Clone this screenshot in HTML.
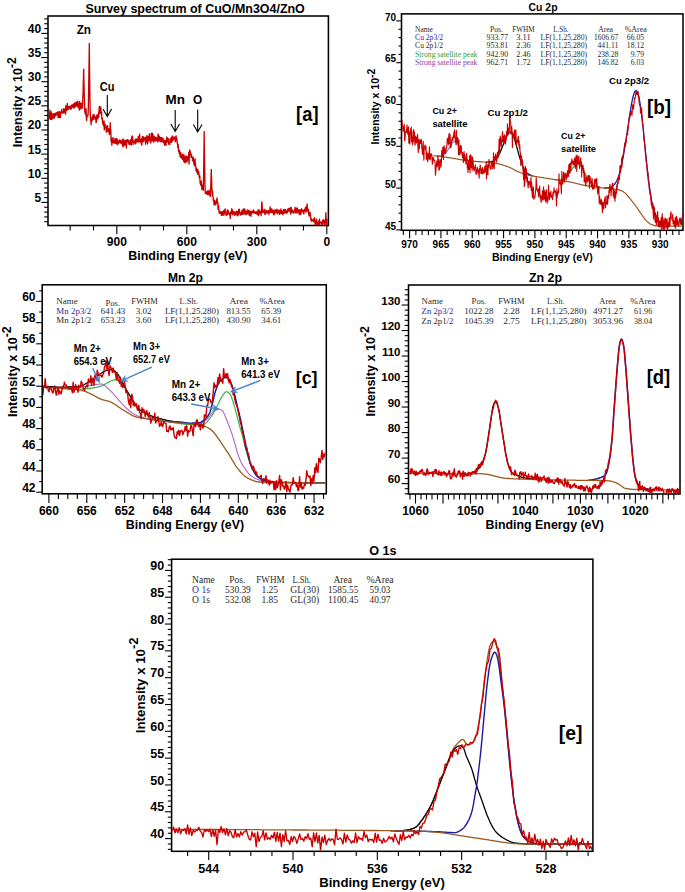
<!DOCTYPE html>
<html><head><meta charset="utf-8"><style>
html,body{margin:0;padding:0;background:#fff;}
svg{display:block;}
</style></head><body>
<svg width="685" height="892" viewBox="0 0 685 892">
<rect width="685" height="892" fill="#fff"/>
<text x="85.4" y="12.9" font-family='"Liberation Sans", sans-serif' font-size="12" font-weight="bold" text-anchor="start" fill="#000" textLength="219.4" lengthAdjust="spacingAndGlyphs">Survey spectrum of CuO/Mn3O4/ZnO</text>
<line x1="44.2" y1="221.73" x2="48" y2="221.73" stroke="#000" stroke-width="1.1"/>
<line x1="44.2" y1="216.9" x2="48" y2="216.9" stroke="#000" stroke-width="1.1"/>
<line x1="44.2" y1="212.07" x2="48" y2="212.07" stroke="#000" stroke-width="1.1"/>
<line x1="44.2" y1="207.24" x2="48" y2="207.24" stroke="#000" stroke-width="1.1"/>
<line x1="44.2" y1="197.59" x2="48" y2="197.59" stroke="#000" stroke-width="1.1"/>
<line x1="44.2" y1="192.76" x2="48" y2="192.76" stroke="#000" stroke-width="1.1"/>
<line x1="44.2" y1="187.93" x2="48" y2="187.93" stroke="#000" stroke-width="1.1"/>
<line x1="44.2" y1="183.1" x2="48" y2="183.1" stroke="#000" stroke-width="1.1"/>
<line x1="44.2" y1="173.44" x2="48" y2="173.44" stroke="#000" stroke-width="1.1"/>
<line x1="44.2" y1="168.61" x2="48" y2="168.61" stroke="#000" stroke-width="1.1"/>
<line x1="44.2" y1="163.78" x2="48" y2="163.78" stroke="#000" stroke-width="1.1"/>
<line x1="44.2" y1="158.95" x2="48" y2="158.95" stroke="#000" stroke-width="1.1"/>
<line x1="44.2" y1="149.3" x2="48" y2="149.3" stroke="#000" stroke-width="1.1"/>
<line x1="44.2" y1="144.47" x2="48" y2="144.47" stroke="#000" stroke-width="1.1"/>
<line x1="44.2" y1="139.64" x2="48" y2="139.64" stroke="#000" stroke-width="1.1"/>
<line x1="44.2" y1="134.81" x2="48" y2="134.81" stroke="#000" stroke-width="1.1"/>
<line x1="44.2" y1="125.15" x2="48" y2="125.15" stroke="#000" stroke-width="1.1"/>
<line x1="44.2" y1="120.32" x2="48" y2="120.32" stroke="#000" stroke-width="1.1"/>
<line x1="44.2" y1="115.49" x2="48" y2="115.49" stroke="#000" stroke-width="1.1"/>
<line x1="44.2" y1="110.66" x2="48" y2="110.66" stroke="#000" stroke-width="1.1"/>
<line x1="44.2" y1="101.01" x2="48" y2="101.01" stroke="#000" stroke-width="1.1"/>
<line x1="44.2" y1="96.18" x2="48" y2="96.18" stroke="#000" stroke-width="1.1"/>
<line x1="44.2" y1="91.35" x2="48" y2="91.35" stroke="#000" stroke-width="1.1"/>
<line x1="44.2" y1="86.52" x2="48" y2="86.52" stroke="#000" stroke-width="1.1"/>
<line x1="44.2" y1="76.86" x2="48" y2="76.86" stroke="#000" stroke-width="1.1"/>
<line x1="44.2" y1="72.03" x2="48" y2="72.03" stroke="#000" stroke-width="1.1"/>
<line x1="44.2" y1="67.2" x2="48" y2="67.2" stroke="#000" stroke-width="1.1"/>
<line x1="44.2" y1="62.37" x2="48" y2="62.37" stroke="#000" stroke-width="1.1"/>
<line x1="44.2" y1="52.72" x2="48" y2="52.72" stroke="#000" stroke-width="1.1"/>
<line x1="44.2" y1="47.89" x2="48" y2="47.89" stroke="#000" stroke-width="1.1"/>
<line x1="44.2" y1="43.06" x2="48" y2="43.06" stroke="#000" stroke-width="1.1"/>
<line x1="44.2" y1="38.23" x2="48" y2="38.23" stroke="#000" stroke-width="1.1"/>
<line x1="44.2" y1="28.57" x2="48" y2="28.57" stroke="#000" stroke-width="1.1"/>
<line x1="44.2" y1="23.74" x2="48" y2="23.74" stroke="#000" stroke-width="1.1"/>
<line x1="44.2" y1="18.91" x2="48" y2="18.91" stroke="#000" stroke-width="1.1"/>
<line x1="41.3" y1="202.41" x2="48" y2="202.41" stroke="#000" stroke-width="1.1"/>
<text x="41.2" y="201.81" font-family='"Liberation Sans", sans-serif' font-size="12" font-weight="bold" text-anchor="end" fill="#000">5</text>
<line x1="41.3" y1="178.27" x2="48" y2="178.27" stroke="#000" stroke-width="1.1"/>
<text x="41.2" y="177.67" font-family='"Liberation Sans", sans-serif' font-size="12" font-weight="bold" text-anchor="end" fill="#000">10</text>
<line x1="41.3" y1="154.12" x2="48" y2="154.12" stroke="#000" stroke-width="1.1"/>
<text x="41.2" y="153.53" font-family='"Liberation Sans", sans-serif' font-size="12" font-weight="bold" text-anchor="end" fill="#000">15</text>
<line x1="41.3" y1="129.98" x2="48" y2="129.98" stroke="#000" stroke-width="1.1"/>
<text x="41.2" y="129.38" font-family='"Liberation Sans", sans-serif' font-size="12" font-weight="bold" text-anchor="end" fill="#000">20</text>
<line x1="41.3" y1="105.84" x2="48" y2="105.84" stroke="#000" stroke-width="1.1"/>
<text x="41.2" y="105.24" font-family='"Liberation Sans", sans-serif' font-size="12" font-weight="bold" text-anchor="end" fill="#000">25</text>
<line x1="41.3" y1="81.69" x2="48" y2="81.69" stroke="#000" stroke-width="1.1"/>
<text x="41.2" y="81.09" font-family='"Liberation Sans", sans-serif' font-size="12" font-weight="bold" text-anchor="end" fill="#000">30</text>
<line x1="41.3" y1="57.55" x2="48" y2="57.55" stroke="#000" stroke-width="1.1"/>
<text x="41.2" y="56.95" font-family='"Liberation Sans", sans-serif' font-size="12" font-weight="bold" text-anchor="end" fill="#000">35</text>
<line x1="41.3" y1="33.4" x2="48" y2="33.4" stroke="#000" stroke-width="1.1"/>
<text x="41.2" y="32.8" font-family='"Liberation Sans", sans-serif' font-size="12" font-weight="bold" text-anchor="end" fill="#000">40</text>
<line x1="70.17" y1="225.5" x2="70.17" y2="230.5" stroke="#000" stroke-width="1.1"/>
<line x1="93.5" y1="225.5" x2="93.5" y2="230.5" stroke="#000" stroke-width="1.1"/>
<line x1="140.16" y1="225.5" x2="140.16" y2="230.5" stroke="#000" stroke-width="1.1"/>
<line x1="163.49" y1="225.5" x2="163.49" y2="230.5" stroke="#000" stroke-width="1.1"/>
<line x1="210.15" y1="225.5" x2="210.15" y2="230.5" stroke="#000" stroke-width="1.1"/>
<line x1="233.48" y1="225.5" x2="233.48" y2="230.5" stroke="#000" stroke-width="1.1"/>
<line x1="280.14" y1="225.5" x2="280.14" y2="230.5" stroke="#000" stroke-width="1.1"/>
<line x1="303.47" y1="225.5" x2="303.47" y2="230.5" stroke="#000" stroke-width="1.1"/>
<line x1="116.83" y1="225.5" x2="116.83" y2="234.3" stroke="#000" stroke-width="1.1"/>
<text x="116.83" y="246.3" font-family='"Liberation Sans", sans-serif' font-size="12" font-weight="bold" text-anchor="middle" fill="#000">900</text>
<line x1="186.82" y1="225.5" x2="186.82" y2="234.3" stroke="#000" stroke-width="1.1"/>
<text x="186.82" y="246.3" font-family='"Liberation Sans", sans-serif' font-size="12" font-weight="bold" text-anchor="middle" fill="#000">600</text>
<line x1="256.81" y1="225.5" x2="256.81" y2="234.3" stroke="#000" stroke-width="1.1"/>
<text x="256.81" y="246.3" font-family='"Liberation Sans", sans-serif' font-size="12" font-weight="bold" text-anchor="middle" fill="#000">300</text>
<line x1="326.8" y1="225.5" x2="326.8" y2="234.3" stroke="#000" stroke-width="1.1"/>
<text x="326.8" y="246.3" font-family='"Liberation Sans", sans-serif' font-size="12" font-weight="bold" text-anchor="middle" fill="#000">0</text>
<rect x="48" y="16" width="280.4" height="209.5" fill="none" stroke="#000" stroke-width="1.55"/>
<text x="128.3" y="259.7" font-family='"Liberation Sans", sans-serif' font-size="12" font-weight="bold" text-anchor="start" fill="#000" textLength="119" lengthAdjust="spacingAndGlyphs">Binding Energy (eV)</text>
<text transform="translate(21.9,147.18) rotate(-90)" x="0" y="0" font-family='"Liberation Sans", sans-serif' font-size="12.5" font-weight="bold">Intensity x 10<tspan dy="-5.9" font-size="12">-2</tspan></text>
<text x="76.7" y="34" font-family='"Liberation Sans", sans-serif' font-size="12.5" font-weight="bold" text-anchor="start" fill="#000" textLength="14.3" lengthAdjust="spacingAndGlyphs">Zn</text>
<text x="99.8" y="90.5" font-family='"Liberation Sans", sans-serif' font-size="12.5" font-weight="bold" text-anchor="start" fill="#000" textLength="14.7" lengthAdjust="spacingAndGlyphs">Cu</text>
<text x="165.6" y="103.8" font-family='"Liberation Sans", sans-serif' font-size="12.5" font-weight="bold" text-anchor="start" fill="#000" textLength="19.4" lengthAdjust="spacingAndGlyphs">Mn</text>
<text x="193" y="104.3" font-family='"Liberation Sans", sans-serif' font-size="12.5" font-weight="bold" text-anchor="start" fill="#000" textLength="9.2" lengthAdjust="spacingAndGlyphs">O</text>
<text x="296.1" y="120.5" font-family='"Liberation Sans", sans-serif' font-size="19.8" font-weight="bold" text-anchor="start" fill="#000" textLength="22.4" lengthAdjust="spacingAndGlyphs">[a]</text>
<text x="528.6" y="11.1" font-family='"Liberation Sans", sans-serif' font-size="10" font-weight="bold" text-anchor="start" fill="#000" textLength="28.9" lengthAdjust="spacingAndGlyphs">Cu 2p</text>
<line x1="398.5" y1="221.54" x2="401.5" y2="221.54" stroke="#000" stroke-width="1.1"/>
<line x1="398.5" y1="213.18" x2="401.5" y2="213.18" stroke="#000" stroke-width="1.1"/>
<line x1="398.5" y1="204.82" x2="401.5" y2="204.82" stroke="#000" stroke-width="1.1"/>
<line x1="398.5" y1="196.46" x2="401.5" y2="196.46" stroke="#000" stroke-width="1.1"/>
<line x1="398.5" y1="179.74" x2="401.5" y2="179.74" stroke="#000" stroke-width="1.1"/>
<line x1="398.5" y1="171.38" x2="401.5" y2="171.38" stroke="#000" stroke-width="1.1"/>
<line x1="398.5" y1="163.02" x2="401.5" y2="163.02" stroke="#000" stroke-width="1.1"/>
<line x1="398.5" y1="154.66" x2="401.5" y2="154.66" stroke="#000" stroke-width="1.1"/>
<line x1="398.5" y1="137.94" x2="401.5" y2="137.94" stroke="#000" stroke-width="1.1"/>
<line x1="398.5" y1="129.58" x2="401.5" y2="129.58" stroke="#000" stroke-width="1.1"/>
<line x1="398.5" y1="121.22" x2="401.5" y2="121.22" stroke="#000" stroke-width="1.1"/>
<line x1="398.5" y1="112.86" x2="401.5" y2="112.86" stroke="#000" stroke-width="1.1"/>
<line x1="398.5" y1="96.14" x2="401.5" y2="96.14" stroke="#000" stroke-width="1.1"/>
<line x1="398.5" y1="87.78" x2="401.5" y2="87.78" stroke="#000" stroke-width="1.1"/>
<line x1="398.5" y1="79.42" x2="401.5" y2="79.42" stroke="#000" stroke-width="1.1"/>
<line x1="398.5" y1="71.06" x2="401.5" y2="71.06" stroke="#000" stroke-width="1.1"/>
<line x1="398.5" y1="54.34" x2="401.5" y2="54.34" stroke="#000" stroke-width="1.1"/>
<line x1="398.5" y1="45.98" x2="401.5" y2="45.98" stroke="#000" stroke-width="1.1"/>
<line x1="398.5" y1="37.62" x2="401.5" y2="37.62" stroke="#000" stroke-width="1.1"/>
<line x1="398.5" y1="29.26" x2="401.5" y2="29.26" stroke="#000" stroke-width="1.1"/>
<line x1="396.3" y1="229.9" x2="401.5" y2="229.9" stroke="#000" stroke-width="1.1"/>
<text x="396.2" y="229.5" font-family='"Liberation Sans", sans-serif' font-size="10" font-weight="bold" text-anchor="end" fill="#000">45</text>
<line x1="396.3" y1="188.1" x2="401.5" y2="188.1" stroke="#000" stroke-width="1.1"/>
<text x="396.2" y="187.7" font-family='"Liberation Sans", sans-serif' font-size="10" font-weight="bold" text-anchor="end" fill="#000">50</text>
<line x1="396.3" y1="146.3" x2="401.5" y2="146.3" stroke="#000" stroke-width="1.1"/>
<text x="396.2" y="145.9" font-family='"Liberation Sans", sans-serif' font-size="10" font-weight="bold" text-anchor="end" fill="#000">55</text>
<line x1="396.3" y1="104.5" x2="401.5" y2="104.5" stroke="#000" stroke-width="1.1"/>
<text x="396.2" y="104.1" font-family='"Liberation Sans", sans-serif' font-size="10" font-weight="bold" text-anchor="end" fill="#000">60</text>
<line x1="396.3" y1="62.7" x2="401.5" y2="62.7" stroke="#000" stroke-width="1.1"/>
<text x="396.2" y="62.3" font-family='"Liberation Sans", sans-serif' font-size="10" font-weight="bold" text-anchor="end" fill="#000">65</text>
<line x1="396.3" y1="20.9" x2="401.5" y2="20.9" stroke="#000" stroke-width="1.1"/>
<text x="396.2" y="20.5" font-family='"Liberation Sans", sans-serif' font-size="10" font-weight="bold" text-anchor="end" fill="#000">70</text>
<line x1="403.34" y1="230.3" x2="403.34" y2="234.9" stroke="#000" stroke-width="1.1"/>
<line x1="415.87" y1="230.3" x2="415.87" y2="234.9" stroke="#000" stroke-width="1.1"/>
<line x1="422.13" y1="230.3" x2="422.13" y2="234.9" stroke="#000" stroke-width="1.1"/>
<line x1="428.4" y1="230.3" x2="428.4" y2="234.9" stroke="#000" stroke-width="1.1"/>
<line x1="434.66" y1="230.3" x2="434.66" y2="234.9" stroke="#000" stroke-width="1.1"/>
<line x1="447.19" y1="230.3" x2="447.19" y2="234.9" stroke="#000" stroke-width="1.1"/>
<line x1="453.46" y1="230.3" x2="453.46" y2="234.9" stroke="#000" stroke-width="1.1"/>
<line x1="459.72" y1="230.3" x2="459.72" y2="234.9" stroke="#000" stroke-width="1.1"/>
<line x1="465.99" y1="230.3" x2="465.99" y2="234.9" stroke="#000" stroke-width="1.1"/>
<line x1="478.51" y1="230.3" x2="478.51" y2="234.9" stroke="#000" stroke-width="1.1"/>
<line x1="484.78" y1="230.3" x2="484.78" y2="234.9" stroke="#000" stroke-width="1.1"/>
<line x1="491.05" y1="230.3" x2="491.05" y2="234.9" stroke="#000" stroke-width="1.1"/>
<line x1="497.31" y1="230.3" x2="497.31" y2="234.9" stroke="#000" stroke-width="1.1"/>
<line x1="509.84" y1="230.3" x2="509.84" y2="234.9" stroke="#000" stroke-width="1.1"/>
<line x1="516.11" y1="230.3" x2="516.11" y2="234.9" stroke="#000" stroke-width="1.1"/>
<line x1="522.37" y1="230.3" x2="522.37" y2="234.9" stroke="#000" stroke-width="1.1"/>
<line x1="528.63" y1="230.3" x2="528.63" y2="234.9" stroke="#000" stroke-width="1.1"/>
<line x1="541.16" y1="230.3" x2="541.16" y2="234.9" stroke="#000" stroke-width="1.1"/>
<line x1="547.43" y1="230.3" x2="547.43" y2="234.9" stroke="#000" stroke-width="1.1"/>
<line x1="553.7" y1="230.3" x2="553.7" y2="234.9" stroke="#000" stroke-width="1.1"/>
<line x1="559.96" y1="230.3" x2="559.96" y2="234.9" stroke="#000" stroke-width="1.1"/>
<line x1="572.49" y1="230.3" x2="572.49" y2="234.9" stroke="#000" stroke-width="1.1"/>
<line x1="578.75" y1="230.3" x2="578.75" y2="234.9" stroke="#000" stroke-width="1.1"/>
<line x1="585.02" y1="230.3" x2="585.02" y2="234.9" stroke="#000" stroke-width="1.1"/>
<line x1="591.29" y1="230.3" x2="591.29" y2="234.9" stroke="#000" stroke-width="1.1"/>
<line x1="603.82" y1="230.3" x2="603.82" y2="234.9" stroke="#000" stroke-width="1.1"/>
<line x1="610.08" y1="230.3" x2="610.08" y2="234.9" stroke="#000" stroke-width="1.1"/>
<line x1="616.35" y1="230.3" x2="616.35" y2="234.9" stroke="#000" stroke-width="1.1"/>
<line x1="622.61" y1="230.3" x2="622.61" y2="234.9" stroke="#000" stroke-width="1.1"/>
<line x1="635.14" y1="230.3" x2="635.14" y2="234.9" stroke="#000" stroke-width="1.1"/>
<line x1="641.4" y1="230.3" x2="641.4" y2="234.9" stroke="#000" stroke-width="1.1"/>
<line x1="647.67" y1="230.3" x2="647.67" y2="234.9" stroke="#000" stroke-width="1.1"/>
<line x1="653.93" y1="230.3" x2="653.93" y2="234.9" stroke="#000" stroke-width="1.1"/>
<line x1="666.47" y1="230.3" x2="666.47" y2="234.9" stroke="#000" stroke-width="1.1"/>
<line x1="672.73" y1="230.3" x2="672.73" y2="234.9" stroke="#000" stroke-width="1.1"/>
<line x1="679" y1="230.3" x2="679" y2="234.9" stroke="#000" stroke-width="1.1"/>
<line x1="409.6" y1="230.3" x2="409.6" y2="238.3" stroke="#000" stroke-width="1.1"/>
<text x="409.6" y="248" font-family='"Liberation Sans", sans-serif' font-size="10" font-weight="bold" text-anchor="middle" fill="#000">970</text>
<line x1="440.93" y1="230.3" x2="440.93" y2="238.3" stroke="#000" stroke-width="1.1"/>
<text x="440.93" y="248" font-family='"Liberation Sans", sans-serif' font-size="10" font-weight="bold" text-anchor="middle" fill="#000">965</text>
<line x1="472.25" y1="230.3" x2="472.25" y2="238.3" stroke="#000" stroke-width="1.1"/>
<text x="472.25" y="248" font-family='"Liberation Sans", sans-serif' font-size="10" font-weight="bold" text-anchor="middle" fill="#000">960</text>
<line x1="503.58" y1="230.3" x2="503.58" y2="238.3" stroke="#000" stroke-width="1.1"/>
<text x="503.58" y="248" font-family='"Liberation Sans", sans-serif' font-size="10" font-weight="bold" text-anchor="middle" fill="#000">955</text>
<line x1="534.9" y1="230.3" x2="534.9" y2="238.3" stroke="#000" stroke-width="1.1"/>
<text x="534.9" y="248" font-family='"Liberation Sans", sans-serif' font-size="10" font-weight="bold" text-anchor="middle" fill="#000">950</text>
<line x1="566.23" y1="230.3" x2="566.23" y2="238.3" stroke="#000" stroke-width="1.1"/>
<text x="566.23" y="248" font-family='"Liberation Sans", sans-serif' font-size="10" font-weight="bold" text-anchor="middle" fill="#000">945</text>
<line x1="597.55" y1="230.3" x2="597.55" y2="238.3" stroke="#000" stroke-width="1.1"/>
<text x="597.55" y="248" font-family='"Liberation Sans", sans-serif' font-size="10" font-weight="bold" text-anchor="middle" fill="#000">940</text>
<line x1="628.88" y1="230.3" x2="628.88" y2="238.3" stroke="#000" stroke-width="1.1"/>
<text x="628.88" y="248" font-family='"Liberation Sans", sans-serif' font-size="10" font-weight="bold" text-anchor="middle" fill="#000">935</text>
<line x1="660.2" y1="230.3" x2="660.2" y2="238.3" stroke="#000" stroke-width="1.1"/>
<text x="660.2" y="248" font-family='"Liberation Sans", sans-serif' font-size="10" font-weight="bold" text-anchor="middle" fill="#000">930</text>
<rect x="401.5" y="13.9" width="281.5" height="216.4" fill="none" stroke="#000" stroke-width="1.55"/>
<text x="491.9" y="260.8" font-family='"Liberation Sans", sans-serif' font-size="10" font-weight="bold" text-anchor="start" fill="#000" textLength="100.9" lengthAdjust="spacingAndGlyphs">Binding Energy (eV)</text>
<text transform="translate(379.2,144.54) rotate(-90)" x="0" y="0" font-family='"Liberation Sans", sans-serif' font-size="10.5" font-weight="bold">Intensity x 10<tspan dy="-4.2" font-size="10.5">-2</tspan></text>
<text x="168" y="281.7" font-family='"Liberation Sans", sans-serif' font-size="12" font-weight="bold" text-anchor="start" fill="#000" textLength="34.8" lengthAdjust="spacingAndGlyphs">Mn 2p</text>
<line x1="39.2" y1="481.6" x2="42.2" y2="481.6" stroke="#000" stroke-width="1.1"/>
<line x1="39.2" y1="460.4" x2="42.2" y2="460.4" stroke="#000" stroke-width="1.1"/>
<line x1="39.2" y1="439.2" x2="42.2" y2="439.2" stroke="#000" stroke-width="1.1"/>
<line x1="39.2" y1="418" x2="42.2" y2="418" stroke="#000" stroke-width="1.1"/>
<line x1="39.2" y1="396.8" x2="42.2" y2="396.8" stroke="#000" stroke-width="1.1"/>
<line x1="39.2" y1="375.6" x2="42.2" y2="375.6" stroke="#000" stroke-width="1.1"/>
<line x1="39.2" y1="354.4" x2="42.2" y2="354.4" stroke="#000" stroke-width="1.1"/>
<line x1="39.2" y1="333.2" x2="42.2" y2="333.2" stroke="#000" stroke-width="1.1"/>
<line x1="39.2" y1="312" x2="42.2" y2="312" stroke="#000" stroke-width="1.1"/>
<line x1="39.2" y1="290.8" x2="42.2" y2="290.8" stroke="#000" stroke-width="1.1"/>
<line x1="36.2" y1="492.2" x2="42.2" y2="492.2" stroke="#000" stroke-width="1.1"/>
<text x="35.5" y="491.8" font-family='"Liberation Sans", sans-serif' font-size="12" font-weight="bold" text-anchor="end" fill="#000">42</text>
<line x1="36.2" y1="471" x2="42.2" y2="471" stroke="#000" stroke-width="1.1"/>
<text x="35.5" y="470.6" font-family='"Liberation Sans", sans-serif' font-size="12" font-weight="bold" text-anchor="end" fill="#000">44</text>
<line x1="36.2" y1="449.8" x2="42.2" y2="449.8" stroke="#000" stroke-width="1.1"/>
<text x="35.5" y="449.4" font-family='"Liberation Sans", sans-serif' font-size="12" font-weight="bold" text-anchor="end" fill="#000">46</text>
<line x1="36.2" y1="428.6" x2="42.2" y2="428.6" stroke="#000" stroke-width="1.1"/>
<text x="35.5" y="428.2" font-family='"Liberation Sans", sans-serif' font-size="12" font-weight="bold" text-anchor="end" fill="#000">48</text>
<line x1="36.2" y1="407.4" x2="42.2" y2="407.4" stroke="#000" stroke-width="1.1"/>
<text x="35.5" y="407" font-family='"Liberation Sans", sans-serif' font-size="12" font-weight="bold" text-anchor="end" fill="#000">50</text>
<line x1="36.2" y1="386.2" x2="42.2" y2="386.2" stroke="#000" stroke-width="1.1"/>
<text x="35.5" y="385.8" font-family='"Liberation Sans", sans-serif' font-size="12" font-weight="bold" text-anchor="end" fill="#000">52</text>
<line x1="36.2" y1="365" x2="42.2" y2="365" stroke="#000" stroke-width="1.1"/>
<text x="35.5" y="364.6" font-family='"Liberation Sans", sans-serif' font-size="12" font-weight="bold" text-anchor="end" fill="#000">54</text>
<line x1="36.2" y1="343.8" x2="42.2" y2="343.8" stroke="#000" stroke-width="1.1"/>
<text x="35.5" y="343.4" font-family='"Liberation Sans", sans-serif' font-size="12" font-weight="bold" text-anchor="end" fill="#000">56</text>
<line x1="36.2" y1="322.6" x2="42.2" y2="322.6" stroke="#000" stroke-width="1.1"/>
<text x="35.5" y="322.2" font-family='"Liberation Sans", sans-serif' font-size="12" font-weight="bold" text-anchor="end" fill="#000">58</text>
<line x1="36.2" y1="301.4" x2="42.2" y2="301.4" stroke="#000" stroke-width="1.1"/>
<text x="35.5" y="301" font-family='"Liberation Sans", sans-serif' font-size="12" font-weight="bold" text-anchor="end" fill="#000">60</text>
<line x1="58.37" y1="493.8" x2="58.37" y2="499" stroke="#000" stroke-width="1.1"/>
<line x1="67.84" y1="493.8" x2="67.84" y2="499" stroke="#000" stroke-width="1.1"/>
<line x1="77.31" y1="493.8" x2="77.31" y2="499" stroke="#000" stroke-width="1.1"/>
<line x1="96.25" y1="493.8" x2="96.25" y2="499" stroke="#000" stroke-width="1.1"/>
<line x1="105.72" y1="493.8" x2="105.72" y2="499" stroke="#000" stroke-width="1.1"/>
<line x1="115.19" y1="493.8" x2="115.19" y2="499" stroke="#000" stroke-width="1.1"/>
<line x1="134.13" y1="493.8" x2="134.13" y2="499" stroke="#000" stroke-width="1.1"/>
<line x1="143.6" y1="493.8" x2="143.6" y2="499" stroke="#000" stroke-width="1.1"/>
<line x1="153.07" y1="493.8" x2="153.07" y2="499" stroke="#000" stroke-width="1.1"/>
<line x1="172.01" y1="493.8" x2="172.01" y2="499" stroke="#000" stroke-width="1.1"/>
<line x1="181.48" y1="493.8" x2="181.48" y2="499" stroke="#000" stroke-width="1.1"/>
<line x1="190.95" y1="493.8" x2="190.95" y2="499" stroke="#000" stroke-width="1.1"/>
<line x1="209.89" y1="493.8" x2="209.89" y2="499" stroke="#000" stroke-width="1.1"/>
<line x1="219.36" y1="493.8" x2="219.36" y2="499" stroke="#000" stroke-width="1.1"/>
<line x1="228.83" y1="493.8" x2="228.83" y2="499" stroke="#000" stroke-width="1.1"/>
<line x1="247.77" y1="493.8" x2="247.77" y2="499" stroke="#000" stroke-width="1.1"/>
<line x1="257.24" y1="493.8" x2="257.24" y2="499" stroke="#000" stroke-width="1.1"/>
<line x1="266.71" y1="493.8" x2="266.71" y2="499" stroke="#000" stroke-width="1.1"/>
<line x1="285.65" y1="493.8" x2="285.65" y2="499" stroke="#000" stroke-width="1.1"/>
<line x1="295.12" y1="493.8" x2="295.12" y2="499" stroke="#000" stroke-width="1.1"/>
<line x1="304.59" y1="493.8" x2="304.59" y2="499" stroke="#000" stroke-width="1.1"/>
<line x1="323.53" y1="493.8" x2="323.53" y2="499" stroke="#000" stroke-width="1.1"/>
<line x1="48.9" y1="493.8" x2="48.9" y2="503.1" stroke="#000" stroke-width="1.1"/>
<text x="48.9" y="514.6" font-family='"Liberation Sans", sans-serif' font-size="12" font-weight="bold" text-anchor="middle" fill="#000">660</text>
<line x1="86.78" y1="493.8" x2="86.78" y2="503.1" stroke="#000" stroke-width="1.1"/>
<text x="86.78" y="514.6" font-family='"Liberation Sans", sans-serif' font-size="12" font-weight="bold" text-anchor="middle" fill="#000">656</text>
<line x1="124.66" y1="493.8" x2="124.66" y2="503.1" stroke="#000" stroke-width="1.1"/>
<text x="124.66" y="514.6" font-family='"Liberation Sans", sans-serif' font-size="12" font-weight="bold" text-anchor="middle" fill="#000">652</text>
<line x1="162.54" y1="493.8" x2="162.54" y2="503.1" stroke="#000" stroke-width="1.1"/>
<text x="162.54" y="514.6" font-family='"Liberation Sans", sans-serif' font-size="12" font-weight="bold" text-anchor="middle" fill="#000">648</text>
<line x1="200.42" y1="493.8" x2="200.42" y2="503.1" stroke="#000" stroke-width="1.1"/>
<text x="200.42" y="514.6" font-family='"Liberation Sans", sans-serif' font-size="12" font-weight="bold" text-anchor="middle" fill="#000">644</text>
<line x1="238.3" y1="493.8" x2="238.3" y2="503.1" stroke="#000" stroke-width="1.1"/>
<text x="238.3" y="514.6" font-family='"Liberation Sans", sans-serif' font-size="12" font-weight="bold" text-anchor="middle" fill="#000">640</text>
<line x1="276.18" y1="493.8" x2="276.18" y2="503.1" stroke="#000" stroke-width="1.1"/>
<text x="276.18" y="514.6" font-family='"Liberation Sans", sans-serif' font-size="12" font-weight="bold" text-anchor="middle" fill="#000">636</text>
<line x1="314.06" y1="493.8" x2="314.06" y2="503.1" stroke="#000" stroke-width="1.1"/>
<text x="314.06" y="514.6" font-family='"Liberation Sans", sans-serif' font-size="12" font-weight="bold" text-anchor="middle" fill="#000">632</text>
<rect x="42.2" y="284.8" width="284.1" height="209" fill="none" stroke="#000" stroke-width="1.55"/>
<text x="125.8" y="528.7" font-family='"Liberation Sans", sans-serif' font-size="12" font-weight="bold" text-anchor="start" fill="#000" textLength="118.3" lengthAdjust="spacingAndGlyphs">Binding Energy (eV)</text>
<text transform="translate(16.8,417.08) rotate(-90)" x="0" y="0" font-family='"Liberation Sans", sans-serif' font-size="12.6" font-weight="bold">Intensity x 10<tspan dy="-5.8" font-size="12.3">-2</tspan></text>
<text x="528.9" y="281.7" font-family='"Liberation Sans", sans-serif' font-size="12" font-weight="bold" text-anchor="start" fill="#000" textLength="33.1" lengthAdjust="spacingAndGlyphs">Zn 2p</text>
<line x1="404.7" y1="493.8" x2="408.5" y2="493.8" stroke="#000" stroke-width="1.1"/>
<line x1="404.7" y1="488.7" x2="408.5" y2="488.7" stroke="#000" stroke-width="1.1"/>
<line x1="404.7" y1="478.5" x2="408.5" y2="478.5" stroke="#000" stroke-width="1.1"/>
<line x1="404.7" y1="473.4" x2="408.5" y2="473.4" stroke="#000" stroke-width="1.1"/>
<line x1="404.7" y1="468.29" x2="408.5" y2="468.29" stroke="#000" stroke-width="1.1"/>
<line x1="404.7" y1="463.19" x2="408.5" y2="463.19" stroke="#000" stroke-width="1.1"/>
<line x1="404.7" y1="452.99" x2="408.5" y2="452.99" stroke="#000" stroke-width="1.1"/>
<line x1="404.7" y1="447.89" x2="408.5" y2="447.89" stroke="#000" stroke-width="1.1"/>
<line x1="404.7" y1="442.78" x2="408.5" y2="442.78" stroke="#000" stroke-width="1.1"/>
<line x1="404.7" y1="437.68" x2="408.5" y2="437.68" stroke="#000" stroke-width="1.1"/>
<line x1="404.7" y1="427.48" x2="408.5" y2="427.48" stroke="#000" stroke-width="1.1"/>
<line x1="404.7" y1="422.38" x2="408.5" y2="422.38" stroke="#000" stroke-width="1.1"/>
<line x1="404.7" y1="417.27" x2="408.5" y2="417.27" stroke="#000" stroke-width="1.1"/>
<line x1="404.7" y1="412.17" x2="408.5" y2="412.17" stroke="#000" stroke-width="1.1"/>
<line x1="404.7" y1="401.97" x2="408.5" y2="401.97" stroke="#000" stroke-width="1.1"/>
<line x1="404.7" y1="396.87" x2="408.5" y2="396.87" stroke="#000" stroke-width="1.1"/>
<line x1="404.7" y1="391.76" x2="408.5" y2="391.76" stroke="#000" stroke-width="1.1"/>
<line x1="404.7" y1="386.66" x2="408.5" y2="386.66" stroke="#000" stroke-width="1.1"/>
<line x1="404.7" y1="376.46" x2="408.5" y2="376.46" stroke="#000" stroke-width="1.1"/>
<line x1="404.7" y1="371.36" x2="408.5" y2="371.36" stroke="#000" stroke-width="1.1"/>
<line x1="404.7" y1="366.25" x2="408.5" y2="366.25" stroke="#000" stroke-width="1.1"/>
<line x1="404.7" y1="361.15" x2="408.5" y2="361.15" stroke="#000" stroke-width="1.1"/>
<line x1="404.7" y1="350.95" x2="408.5" y2="350.95" stroke="#000" stroke-width="1.1"/>
<line x1="404.7" y1="345.85" x2="408.5" y2="345.85" stroke="#000" stroke-width="1.1"/>
<line x1="404.7" y1="340.74" x2="408.5" y2="340.74" stroke="#000" stroke-width="1.1"/>
<line x1="404.7" y1="335.64" x2="408.5" y2="335.64" stroke="#000" stroke-width="1.1"/>
<line x1="404.7" y1="325.44" x2="408.5" y2="325.44" stroke="#000" stroke-width="1.1"/>
<line x1="404.7" y1="320.34" x2="408.5" y2="320.34" stroke="#000" stroke-width="1.1"/>
<line x1="404.7" y1="315.23" x2="408.5" y2="315.23" stroke="#000" stroke-width="1.1"/>
<line x1="404.7" y1="310.13" x2="408.5" y2="310.13" stroke="#000" stroke-width="1.1"/>
<line x1="404.7" y1="299.93" x2="408.5" y2="299.93" stroke="#000" stroke-width="1.1"/>
<line x1="404.7" y1="294.83" x2="408.5" y2="294.83" stroke="#000" stroke-width="1.1"/>
<line x1="404.7" y1="289.72" x2="408.5" y2="289.72" stroke="#000" stroke-width="1.1"/>
<line x1="401.7" y1="483.6" x2="408.5" y2="483.6" stroke="#000" stroke-width="1.1"/>
<text x="400.5" y="483.2" font-family='"Liberation Sans", sans-serif' font-size="11.5" font-weight="bold" text-anchor="end" fill="#000">60</text>
<line x1="401.7" y1="458.09" x2="408.5" y2="458.09" stroke="#000" stroke-width="1.1"/>
<text x="400.5" y="457.69" font-family='"Liberation Sans", sans-serif' font-size="11.5" font-weight="bold" text-anchor="end" fill="#000">70</text>
<line x1="401.7" y1="432.58" x2="408.5" y2="432.58" stroke="#000" stroke-width="1.1"/>
<text x="400.5" y="432.18" font-family='"Liberation Sans", sans-serif' font-size="11.5" font-weight="bold" text-anchor="end" fill="#000">80</text>
<line x1="401.7" y1="407.07" x2="408.5" y2="407.07" stroke="#000" stroke-width="1.1"/>
<text x="400.5" y="406.67" font-family='"Liberation Sans", sans-serif' font-size="11.5" font-weight="bold" text-anchor="end" fill="#000">90</text>
<line x1="401.7" y1="381.56" x2="408.5" y2="381.56" stroke="#000" stroke-width="1.1"/>
<text x="400.5" y="381.16" font-family='"Liberation Sans", sans-serif' font-size="11.5" font-weight="bold" text-anchor="end" fill="#000">100</text>
<line x1="401.7" y1="356.05" x2="408.5" y2="356.05" stroke="#000" stroke-width="1.1"/>
<text x="400.5" y="355.65" font-family='"Liberation Sans", sans-serif' font-size="11.5" font-weight="bold" text-anchor="end" fill="#000">110</text>
<line x1="401.7" y1="330.54" x2="408.5" y2="330.54" stroke="#000" stroke-width="1.1"/>
<text x="400.5" y="330.14" font-family='"Liberation Sans", sans-serif' font-size="11.5" font-weight="bold" text-anchor="end" fill="#000">120</text>
<line x1="401.7" y1="305.03" x2="408.5" y2="305.03" stroke="#000" stroke-width="1.1"/>
<text x="400.5" y="304.63" font-family='"Liberation Sans", sans-serif' font-size="11.5" font-weight="bold" text-anchor="end" fill="#000">130</text>
<line x1="410" y1="494" x2="410" y2="499.5" stroke="#000" stroke-width="1.1"/>
<line x1="421" y1="494" x2="421" y2="499.5" stroke="#000" stroke-width="1.1"/>
<line x1="426.49" y1="494" x2="426.49" y2="499.5" stroke="#000" stroke-width="1.1"/>
<line x1="431.99" y1="494" x2="431.99" y2="499.5" stroke="#000" stroke-width="1.1"/>
<line x1="437.49" y1="494" x2="437.49" y2="499.5" stroke="#000" stroke-width="1.1"/>
<line x1="448.48" y1="494" x2="448.48" y2="499.5" stroke="#000" stroke-width="1.1"/>
<line x1="453.98" y1="494" x2="453.98" y2="499.5" stroke="#000" stroke-width="1.1"/>
<line x1="459.48" y1="494" x2="459.48" y2="499.5" stroke="#000" stroke-width="1.1"/>
<line x1="464.97" y1="494" x2="464.97" y2="499.5" stroke="#000" stroke-width="1.1"/>
<line x1="475.97" y1="494" x2="475.97" y2="499.5" stroke="#000" stroke-width="1.1"/>
<line x1="481.46" y1="494" x2="481.46" y2="499.5" stroke="#000" stroke-width="1.1"/>
<line x1="486.96" y1="494" x2="486.96" y2="499.5" stroke="#000" stroke-width="1.1"/>
<line x1="492.46" y1="494" x2="492.46" y2="499.5" stroke="#000" stroke-width="1.1"/>
<line x1="503.45" y1="494" x2="503.45" y2="499.5" stroke="#000" stroke-width="1.1"/>
<line x1="508.95" y1="494" x2="508.95" y2="499.5" stroke="#000" stroke-width="1.1"/>
<line x1="514.45" y1="494" x2="514.45" y2="499.5" stroke="#000" stroke-width="1.1"/>
<line x1="519.94" y1="494" x2="519.94" y2="499.5" stroke="#000" stroke-width="1.1"/>
<line x1="530.94" y1="494" x2="530.94" y2="499.5" stroke="#000" stroke-width="1.1"/>
<line x1="536.43" y1="494" x2="536.43" y2="499.5" stroke="#000" stroke-width="1.1"/>
<line x1="541.93" y1="494" x2="541.93" y2="499.5" stroke="#000" stroke-width="1.1"/>
<line x1="547.43" y1="494" x2="547.43" y2="499.5" stroke="#000" stroke-width="1.1"/>
<line x1="558.42" y1="494" x2="558.42" y2="499.5" stroke="#000" stroke-width="1.1"/>
<line x1="563.92" y1="494" x2="563.92" y2="499.5" stroke="#000" stroke-width="1.1"/>
<line x1="569.42" y1="494" x2="569.42" y2="499.5" stroke="#000" stroke-width="1.1"/>
<line x1="574.91" y1="494" x2="574.91" y2="499.5" stroke="#000" stroke-width="1.1"/>
<line x1="585.91" y1="494" x2="585.91" y2="499.5" stroke="#000" stroke-width="1.1"/>
<line x1="591.4" y1="494" x2="591.4" y2="499.5" stroke="#000" stroke-width="1.1"/>
<line x1="596.9" y1="494" x2="596.9" y2="499.5" stroke="#000" stroke-width="1.1"/>
<line x1="602.4" y1="494" x2="602.4" y2="499.5" stroke="#000" stroke-width="1.1"/>
<line x1="613.39" y1="494" x2="613.39" y2="499.5" stroke="#000" stroke-width="1.1"/>
<line x1="618.89" y1="494" x2="618.89" y2="499.5" stroke="#000" stroke-width="1.1"/>
<line x1="624.39" y1="494" x2="624.39" y2="499.5" stroke="#000" stroke-width="1.1"/>
<line x1="629.88" y1="494" x2="629.88" y2="499.5" stroke="#000" stroke-width="1.1"/>
<line x1="640.88" y1="494" x2="640.88" y2="499.5" stroke="#000" stroke-width="1.1"/>
<line x1="646.37" y1="494" x2="646.37" y2="499.5" stroke="#000" stroke-width="1.1"/>
<line x1="651.87" y1="494" x2="651.87" y2="499.5" stroke="#000" stroke-width="1.1"/>
<line x1="657.37" y1="494" x2="657.37" y2="499.5" stroke="#000" stroke-width="1.1"/>
<line x1="668.36" y1="494" x2="668.36" y2="499.5" stroke="#000" stroke-width="1.1"/>
<line x1="673.86" y1="494" x2="673.86" y2="499.5" stroke="#000" stroke-width="1.1"/>
<line x1="442.99" y1="494" x2="442.99" y2="503.5" stroke="#000" stroke-width="1.1"/>
<line x1="497.95" y1="494" x2="497.95" y2="503.5" stroke="#000" stroke-width="1.1"/>
<line x1="552.92" y1="494" x2="552.92" y2="503.5" stroke="#000" stroke-width="1.1"/>
<line x1="607.89" y1="494" x2="607.89" y2="503.5" stroke="#000" stroke-width="1.1"/>
<line x1="662.87" y1="494" x2="662.87" y2="503.5" stroke="#000" stroke-width="1.1"/>
<line x1="415.5" y1="494" x2="415.5" y2="503.5" stroke="#000" stroke-width="1.1"/>
<text x="415.5" y="514.6" font-family='"Liberation Sans", sans-serif' font-size="12" font-weight="bold" text-anchor="middle" fill="#000">1060</text>
<line x1="470.47" y1="494" x2="470.47" y2="503.5" stroke="#000" stroke-width="1.1"/>
<text x="470.47" y="514.6" font-family='"Liberation Sans", sans-serif' font-size="12" font-weight="bold" text-anchor="middle" fill="#000">1050</text>
<line x1="525.44" y1="494" x2="525.44" y2="503.5" stroke="#000" stroke-width="1.1"/>
<text x="525.44" y="514.6" font-family='"Liberation Sans", sans-serif' font-size="12" font-weight="bold" text-anchor="middle" fill="#000">1040</text>
<line x1="580.41" y1="494" x2="580.41" y2="503.5" stroke="#000" stroke-width="1.1"/>
<text x="580.41" y="514.6" font-family='"Liberation Sans", sans-serif' font-size="12" font-weight="bold" text-anchor="middle" fill="#000">1030</text>
<line x1="635.38" y1="494" x2="635.38" y2="503.5" stroke="#000" stroke-width="1.1"/>
<text x="635.38" y="514.6" font-family='"Liberation Sans", sans-serif' font-size="12" font-weight="bold" text-anchor="middle" fill="#000">1020</text>
<rect x="408.5" y="285" width="271.5" height="209" fill="none" stroke="#000" stroke-width="1.55"/>
<text x="485.6" y="528.7" font-family='"Liberation Sans", sans-serif' font-size="12" font-weight="bold" text-anchor="start" fill="#000" textLength="118.3" lengthAdjust="spacingAndGlyphs">Binding Energy (eV)</text>
<text transform="translate(374.7,416.58) rotate(-90)" x="0" y="0" font-family='"Liberation Sans", sans-serif' font-size="12.55" font-weight="bold">Intensity x 10<tspan dy="-5.8" font-size="12.3">-2</tspan></text>
<text x="369.2" y="554.9" font-family='"Liberation Sans", sans-serif' font-size="12.6" font-weight="bold" text-anchor="start" fill="#000" textLength="27.4" lengthAdjust="spacingAndGlyphs">O 1s</text>
<line x1="167.8" y1="849.33" x2="171.6" y2="849.33" stroke="#000" stroke-width="1.1"/>
<line x1="167.8" y1="843.96" x2="171.6" y2="843.96" stroke="#000" stroke-width="1.1"/>
<line x1="167.8" y1="833.24" x2="171.6" y2="833.24" stroke="#000" stroke-width="1.1"/>
<line x1="167.8" y1="827.87" x2="171.6" y2="827.87" stroke="#000" stroke-width="1.1"/>
<line x1="167.8" y1="822.51" x2="171.6" y2="822.51" stroke="#000" stroke-width="1.1"/>
<line x1="167.8" y1="817.14" x2="171.6" y2="817.14" stroke="#000" stroke-width="1.1"/>
<line x1="167.8" y1="806.42" x2="171.6" y2="806.42" stroke="#000" stroke-width="1.1"/>
<line x1="167.8" y1="801.05" x2="171.6" y2="801.05" stroke="#000" stroke-width="1.1"/>
<line x1="167.8" y1="795.69" x2="171.6" y2="795.69" stroke="#000" stroke-width="1.1"/>
<line x1="167.8" y1="790.32" x2="171.6" y2="790.32" stroke="#000" stroke-width="1.1"/>
<line x1="167.8" y1="779.6" x2="171.6" y2="779.6" stroke="#000" stroke-width="1.1"/>
<line x1="167.8" y1="774.23" x2="171.6" y2="774.23" stroke="#000" stroke-width="1.1"/>
<line x1="167.8" y1="768.87" x2="171.6" y2="768.87" stroke="#000" stroke-width="1.1"/>
<line x1="167.8" y1="763.5" x2="171.6" y2="763.5" stroke="#000" stroke-width="1.1"/>
<line x1="167.8" y1="752.78" x2="171.6" y2="752.78" stroke="#000" stroke-width="1.1"/>
<line x1="167.8" y1="747.41" x2="171.6" y2="747.41" stroke="#000" stroke-width="1.1"/>
<line x1="167.8" y1="742.05" x2="171.6" y2="742.05" stroke="#000" stroke-width="1.1"/>
<line x1="167.8" y1="736.68" x2="171.6" y2="736.68" stroke="#000" stroke-width="1.1"/>
<line x1="167.8" y1="725.96" x2="171.6" y2="725.96" stroke="#000" stroke-width="1.1"/>
<line x1="167.8" y1="720.59" x2="171.6" y2="720.59" stroke="#000" stroke-width="1.1"/>
<line x1="167.8" y1="715.23" x2="171.6" y2="715.23" stroke="#000" stroke-width="1.1"/>
<line x1="167.8" y1="709.86" x2="171.6" y2="709.86" stroke="#000" stroke-width="1.1"/>
<line x1="167.8" y1="699.14" x2="171.6" y2="699.14" stroke="#000" stroke-width="1.1"/>
<line x1="167.8" y1="693.77" x2="171.6" y2="693.77" stroke="#000" stroke-width="1.1"/>
<line x1="167.8" y1="688.41" x2="171.6" y2="688.41" stroke="#000" stroke-width="1.1"/>
<line x1="167.8" y1="683.04" x2="171.6" y2="683.04" stroke="#000" stroke-width="1.1"/>
<line x1="167.8" y1="672.32" x2="171.6" y2="672.32" stroke="#000" stroke-width="1.1"/>
<line x1="167.8" y1="666.95" x2="171.6" y2="666.95" stroke="#000" stroke-width="1.1"/>
<line x1="167.8" y1="661.59" x2="171.6" y2="661.59" stroke="#000" stroke-width="1.1"/>
<line x1="167.8" y1="656.22" x2="171.6" y2="656.22" stroke="#000" stroke-width="1.1"/>
<line x1="167.8" y1="645.5" x2="171.6" y2="645.5" stroke="#000" stroke-width="1.1"/>
<line x1="167.8" y1="640.13" x2="171.6" y2="640.13" stroke="#000" stroke-width="1.1"/>
<line x1="167.8" y1="634.77" x2="171.6" y2="634.77" stroke="#000" stroke-width="1.1"/>
<line x1="167.8" y1="629.4" x2="171.6" y2="629.4" stroke="#000" stroke-width="1.1"/>
<line x1="167.8" y1="618.68" x2="171.6" y2="618.68" stroke="#000" stroke-width="1.1"/>
<line x1="167.8" y1="613.31" x2="171.6" y2="613.31" stroke="#000" stroke-width="1.1"/>
<line x1="167.8" y1="607.95" x2="171.6" y2="607.95" stroke="#000" stroke-width="1.1"/>
<line x1="167.8" y1="602.58" x2="171.6" y2="602.58" stroke="#000" stroke-width="1.1"/>
<line x1="167.8" y1="591.86" x2="171.6" y2="591.86" stroke="#000" stroke-width="1.1"/>
<line x1="167.8" y1="586.49" x2="171.6" y2="586.49" stroke="#000" stroke-width="1.1"/>
<line x1="167.8" y1="581.13" x2="171.6" y2="581.13" stroke="#000" stroke-width="1.1"/>
<line x1="167.8" y1="575.76" x2="171.6" y2="575.76" stroke="#000" stroke-width="1.1"/>
<line x1="167.8" y1="565.04" x2="171.6" y2="565.04" stroke="#000" stroke-width="1.1"/>
<line x1="167.8" y1="559.67" x2="171.6" y2="559.67" stroke="#000" stroke-width="1.1"/>
<line x1="165" y1="838.6" x2="171.6" y2="838.6" stroke="#000" stroke-width="1.1"/>
<text x="164.2" y="838.2" font-family='"Liberation Sans", sans-serif' font-size="12.5" font-weight="bold" text-anchor="end" fill="#000">40</text>
<line x1="165" y1="811.78" x2="171.6" y2="811.78" stroke="#000" stroke-width="1.1"/>
<text x="164.2" y="811.38" font-family='"Liberation Sans", sans-serif' font-size="12.5" font-weight="bold" text-anchor="end" fill="#000">45</text>
<line x1="165" y1="784.96" x2="171.6" y2="784.96" stroke="#000" stroke-width="1.1"/>
<text x="164.2" y="784.56" font-family='"Liberation Sans", sans-serif' font-size="12.5" font-weight="bold" text-anchor="end" fill="#000">50</text>
<line x1="165" y1="758.14" x2="171.6" y2="758.14" stroke="#000" stroke-width="1.1"/>
<text x="164.2" y="757.74" font-family='"Liberation Sans", sans-serif' font-size="12.5" font-weight="bold" text-anchor="end" fill="#000">55</text>
<line x1="165" y1="731.32" x2="171.6" y2="731.32" stroke="#000" stroke-width="1.1"/>
<text x="164.2" y="730.92" font-family='"Liberation Sans", sans-serif' font-size="12.5" font-weight="bold" text-anchor="end" fill="#000">60</text>
<line x1="165" y1="704.5" x2="171.6" y2="704.5" stroke="#000" stroke-width="1.1"/>
<text x="164.2" y="704.1" font-family='"Liberation Sans", sans-serif' font-size="12.5" font-weight="bold" text-anchor="end" fill="#000">65</text>
<line x1="165" y1="677.68" x2="171.6" y2="677.68" stroke="#000" stroke-width="1.1"/>
<text x="164.2" y="677.28" font-family='"Liberation Sans", sans-serif' font-size="12.5" font-weight="bold" text-anchor="end" fill="#000">70</text>
<line x1="165" y1="650.86" x2="171.6" y2="650.86" stroke="#000" stroke-width="1.1"/>
<text x="164.2" y="650.46" font-family='"Liberation Sans", sans-serif' font-size="12.5" font-weight="bold" text-anchor="end" fill="#000">75</text>
<line x1="165" y1="624.04" x2="171.6" y2="624.04" stroke="#000" stroke-width="1.1"/>
<text x="164.2" y="623.64" font-family='"Liberation Sans", sans-serif' font-size="12.5" font-weight="bold" text-anchor="end" fill="#000">80</text>
<line x1="165" y1="597.22" x2="171.6" y2="597.22" stroke="#000" stroke-width="1.1"/>
<text x="164.2" y="596.82" font-family='"Liberation Sans", sans-serif' font-size="12.5" font-weight="bold" text-anchor="end" fill="#000">85</text>
<line x1="165" y1="570.4" x2="171.6" y2="570.4" stroke="#000" stroke-width="1.1"/>
<text x="164.2" y="570" font-family='"Liberation Sans", sans-serif' font-size="12.5" font-weight="bold" text-anchor="end" fill="#000">90</text>
<line x1="187.62" y1="851.3" x2="187.62" y2="855.9" stroke="#000" stroke-width="1.1"/>
<line x1="229.78" y1="851.3" x2="229.78" y2="855.9" stroke="#000" stroke-width="1.1"/>
<line x1="250.86" y1="851.3" x2="250.86" y2="855.9" stroke="#000" stroke-width="1.1"/>
<line x1="271.94" y1="851.3" x2="271.94" y2="855.9" stroke="#000" stroke-width="1.1"/>
<line x1="314.1" y1="851.3" x2="314.1" y2="855.9" stroke="#000" stroke-width="1.1"/>
<line x1="335.18" y1="851.3" x2="335.18" y2="855.9" stroke="#000" stroke-width="1.1"/>
<line x1="356.26" y1="851.3" x2="356.26" y2="855.9" stroke="#000" stroke-width="1.1"/>
<line x1="398.42" y1="851.3" x2="398.42" y2="855.9" stroke="#000" stroke-width="1.1"/>
<line x1="419.5" y1="851.3" x2="419.5" y2="855.9" stroke="#000" stroke-width="1.1"/>
<line x1="440.58" y1="851.3" x2="440.58" y2="855.9" stroke="#000" stroke-width="1.1"/>
<line x1="482.74" y1="851.3" x2="482.74" y2="855.9" stroke="#000" stroke-width="1.1"/>
<line x1="503.82" y1="851.3" x2="503.82" y2="855.9" stroke="#000" stroke-width="1.1"/>
<line x1="524.9" y1="851.3" x2="524.9" y2="855.9" stroke="#000" stroke-width="1.1"/>
<line x1="567.06" y1="851.3" x2="567.06" y2="855.9" stroke="#000" stroke-width="1.1"/>
<line x1="588.14" y1="851.3" x2="588.14" y2="855.9" stroke="#000" stroke-width="1.1"/>
<line x1="208.7" y1="851.3" x2="208.7" y2="860.1" stroke="#000" stroke-width="1.1"/>
<text x="208.7" y="872.8" font-family='"Liberation Sans", sans-serif' font-size="12.5" font-weight="bold" text-anchor="middle" fill="#000">544</text>
<line x1="293.02" y1="851.3" x2="293.02" y2="860.1" stroke="#000" stroke-width="1.1"/>
<text x="293.02" y="872.8" font-family='"Liberation Sans", sans-serif' font-size="12.5" font-weight="bold" text-anchor="middle" fill="#000">540</text>
<line x1="377.34" y1="851.3" x2="377.34" y2="860.1" stroke="#000" stroke-width="1.1"/>
<text x="377.34" y="872.8" font-family='"Liberation Sans", sans-serif' font-size="12.5" font-weight="bold" text-anchor="middle" fill="#000">536</text>
<line x1="461.66" y1="851.3" x2="461.66" y2="860.1" stroke="#000" stroke-width="1.1"/>
<text x="461.66" y="872.8" font-family='"Liberation Sans", sans-serif' font-size="12.5" font-weight="bold" text-anchor="middle" fill="#000">532</text>
<line x1="545.98" y1="851.3" x2="545.98" y2="860.1" stroke="#000" stroke-width="1.1"/>
<text x="545.98" y="872.8" font-family='"Liberation Sans", sans-serif' font-size="12.5" font-weight="bold" text-anchor="middle" fill="#000">528</text>
<rect x="171.6" y="559.2" width="421.3" height="292.1" fill="none" stroke="#000" stroke-width="1.55"/>
<text x="319.2" y="887.4" font-family='"Liberation Sans", sans-serif' font-size="13.2" font-weight="bold" text-anchor="start" fill="#000" textLength="125.8" lengthAdjust="spacingAndGlyphs">Binding Energy (eV)</text>
<text transform="translate(145,733.23) rotate(-90)" x="0" y="0" font-family='"Liberation Sans", sans-serif' font-size="13.3" font-weight="bold">Intensity x 10<tspan dy="-6.7" font-size="13">-2</tspan></text>
<defs><clipPath id="ca"><rect x="48.7" y="16.7" width="279" height="208.3"/></clipPath><clipPath id="cb"><rect x="402.2" y="14.6" width="280.1" height="215"/></clipPath><clipPath id="cc"><rect x="42.9" y="285.5" width="282.7" height="207.6"/></clipPath><clipPath id="cd"><rect x="409.2" y="285.7" width="270.1" height="207.6"/></clipPath><clipPath id="ce"><rect x="172.3" y="559.9" width="419.9" height="290.7"/></clipPath></defs>
<g clip-path="url(#ca)">
<path d="M48.6,119.0L48.9,114.0L49.1,114.4L49.4,113.1L49.6,117.3L49.9,110.2L50.1,119.3L50.4,114.2L50.6,116.9L50.9,115.3L51.1,119.5L51.4,111.8L51.6,115.5L51.9,115.8L52.1,119.2L52.4,114.4L52.6,116.2L52.9,114.3L53.1,116.3L53.4,117.5L53.6,113.6L53.9,118.5L54.1,117.8L54.4,116.5L54.6,117.2L54.9,113.5L55.1,114.7L55.4,113.1L55.6,114.1L55.9,115.8L56.1,113.1L56.4,113.8L56.6,113.2L56.9,112.7L57.1,113.2L57.4,114.6L57.6,112.0L57.9,114.6L58.1,117.7L58.4,115.8L58.6,113.7L58.9,111.8L59.1,112.0L59.4,117.4L59.6,113.5L59.9,111.8L60.1,113.6L60.4,117.5L60.6,113.2L60.9,113.9L61.1,112.9L61.4,111.6L61.6,109.5L61.9,111.2L62.1,111.5L62.4,112.8L62.6,113.0L62.9,113.1L63.1,111.6L63.4,112.8L63.6,108.7L63.9,112.8L64.1,111.0L64.3,108.8L64.6,110.4L64.8,109.4L65.1,111.9L65.3,112.7L65.6,114.0L65.8,105.9L66.1,105.8L66.3,107.9L66.6,108.9L66.8,110.5L67.1,109.2L67.3,103.5L67.6,107.2L67.8,109.4L68.1,108.1L68.3,109.3L68.6,107.1L68.8,106.6L69.1,107.9L69.3,108.4L69.6,107.6L69.8,107.7L70.1,105.9L70.3,108.2L70.6,107.4L70.8,109.5L71.1,109.3L71.3,107.3L71.6,105.8L71.8,104.9L72.1,107.3L72.3,106.1L72.6,105.1L72.8,105.8L73.1,104.1L73.3,106.8L73.6,104.3L73.8,108.2L74.1,106.5L74.3,107.0L74.6,102.9L74.8,106.0L75.1,107.0L75.3,103.1L75.6,104.7L75.8,105.2L76.1,102.1L76.3,105.4L76.6,106.2L76.8,102.3L77.1,105.5L77.3,101.7L77.6,104.4L77.8,101.1L78.1,107.3L78.3,105.9L78.6,105.1L78.8,103.7L79.1,108.5L79.3,110.1L79.6,101.5L79.8,108.3L80.1,109.3L80.3,106.4L80.6,103.1L80.8,107.8L81.1,105.6L81.3,104.8L81.6,103.4L81.8,107.8L82.1,108.5L82.3,105.9L82.6,107.0L82.8,97.1L83.1,93.5L83.3,82.5L83.6,72.7L83.7,69.1L83.8,77.9L84.1,87.8L84.3,96.8L84.6,104.3L84.8,110.8L85.1,113.2L85.3,113.0L85.6,114.5L85.8,112.7L86.1,108.8L86.3,117.2L86.6,120.5L86.8,117.3L87.1,116.0L87.3,115.6L87.6,115.8L87.8,116.1L88.1,113.7L88.3,108.7L88.6,93.6L88.8,79.3L89.1,59.2L89.3,43.4L89.3,48.0L89.6,71.5L89.8,88.2L90.1,109.1L90.3,113.1L90.6,117.9L90.8,121.2L91.1,124.8L91.3,118.5L91.6,118.4L91.8,117.7L92.1,120.9L92.3,117.4L92.6,119.1L92.8,116.7L93.1,114.5L93.3,117.9L93.6,117.9L93.8,119.4L94.1,116.3L94.3,115.0L94.6,117.5L94.8,117.0L95.1,117.3L95.3,116.8L95.6,119.7L95.8,118.6L96.1,122.6L96.3,121.2L96.6,120.3L96.8,115.0L97.1,119.2L97.3,118.0L97.6,118.4L97.8,118.4L98.1,114.8L98.3,116.4L98.6,112.7L98.8,117.3L99.1,108.7L99.3,106.7L99.6,106.4L99.8,107.7L100.1,109.0L100.3,113.2L100.6,108.4L100.8,107.0L101.1,113.7L101.3,111.8L101.6,112.5L101.8,118.7L102.1,119.3L102.3,118.1L102.6,122.9L102.8,120.8L103.1,124.7L103.3,122.6L103.6,125.8L103.8,123.2L104.1,121.0L104.3,129.9L104.6,123.9L104.8,125.1L105.1,124.5L105.3,126.2L105.6,127.5L105.8,128.1L106.1,129.0L106.3,132.2L106.6,128.1L106.8,125.9L107.1,126.2L107.3,127.4L107.6,125.6L107.8,131.5L108.1,129.2L108.3,130.2L108.6,131.6L108.8,128.8L109.1,130.7L109.3,134.5L109.6,133.7L109.8,128.2L110.1,128.6L110.2,122.6L110.3,125.2L110.6,130.8L110.8,129.7L111.1,141.4L111.3,139.3L111.6,137.8L111.8,145.2L112.1,142.1L112.3,141.7L112.6,139.4L112.8,141.3L113.1,137.6L113.3,142.7L113.6,140.1L113.8,141.2L114.1,143.1L114.3,140.8L114.6,140.6L114.8,140.7L115.1,138.5L115.3,141.9L115.6,143.6L115.8,142.1L116.1,142.7L116.3,139.0L116.6,139.2L116.8,138.4L117.1,144.2L117.3,140.9L117.6,144.7L117.8,140.1L118.1,140.9L118.3,142.0L118.6,143.5L118.8,141.4L119.1,142.0L119.3,141.6L119.6,142.1L119.8,139.9L120.1,142.4L120.3,141.8L120.6,142.1L120.8,143.2L121.1,140.8L121.3,142.3L121.6,141.6L121.8,143.2L122.1,144.2L122.3,139.9L122.6,143.4L122.8,146.7L123.1,138.9L123.3,140.3L123.6,140.3L123.8,141.8L124.1,145.9L124.3,142.3L124.6,140.4L124.8,143.2L125.1,140.7L125.3,144.3L125.6,142.3L125.8,144.7L126.1,140.0L126.3,148.0L126.6,143.0L126.8,142.4L127.1,141.5L127.3,140.2L127.6,139.6L127.8,141.3L128.1,140.0L128.3,142.6L128.6,140.3L128.8,143.3L129.1,144.4L129.3,140.8L129.6,144.3L129.8,141.2L130.1,144.4L130.3,142.9L130.6,144.2L130.8,139.5L131.1,141.4L131.3,145.0L131.6,140.2L131.8,136.8L132.1,137.3L132.3,136.0L132.6,136.9L132.8,140.7L133.1,144.5L133.3,140.6L133.6,142.6L133.8,141.5L134.1,141.8L134.3,141.3L134.6,141.3L134.8,142.8L135.1,139.1L135.3,143.9L135.6,143.4L135.8,140.6L136.1,142.6L136.3,139.0L136.6,139.6L136.8,141.4L137.1,140.4L137.3,139.5L137.6,138.9L137.8,138.9L138.1,142.3L138.3,136.3L138.6,141.5L138.8,140.3L139.1,141.8L139.3,141.2L139.6,134.1L139.8,141.6L140.1,141.1L140.3,140.4L140.6,139.4L140.8,142.1L141.1,139.0L141.3,144.0L141.6,141.7L141.8,145.2L142.1,138.7L142.3,136.5L142.6,141.9L142.8,141.9L143.1,140.0L143.3,136.8L143.6,139.2L143.8,141.2L144.1,139.1L144.3,139.3L144.6,139.3L144.8,137.7L145.1,138.8L145.3,137.2L145.6,144.3L145.8,139.0L146.1,141.2L146.3,138.0L146.6,142.0L146.8,135.7L147.1,141.9L147.3,139.6L147.6,143.9L147.8,136.3L148.1,138.9L148.3,139.4L148.6,141.1L148.8,137.6L149.1,138.5L149.3,133.9L149.6,136.5L149.8,139.3L150.1,140.7L150.3,137.7L150.6,143.0L150.8,142.6L151.1,138.5L151.3,133.1L151.6,134.5L151.8,136.6L152.1,140.7L152.3,138.6L152.6,133.3L152.8,137.3L153.1,141.2L153.3,136.7L153.6,135.9L153.8,142.2L154.1,137.8L154.3,136.7L154.6,138.6L154.8,138.1L155.1,137.2L155.3,140.7L155.6,140.5L155.8,139.8L156.1,137.5L156.3,140.6L156.6,137.9L156.8,138.9L157.1,140.3L157.3,139.7L157.6,141.8L157.8,138.8L158.1,134.0L158.3,135.3L158.6,140.9L158.8,136.9L159.1,138.6L159.3,136.2L159.6,140.2L159.8,137.4L160.1,141.5L160.3,137.3L160.6,141.4L160.8,140.5L161.1,137.7L161.3,142.0L161.6,137.6L161.8,137.7L162.1,141.2L162.3,138.7L162.6,138.7L162.8,139.6L163.1,138.3L163.3,142.9L163.6,141.9L163.8,140.6L164.1,140.9L164.3,142.1L164.6,145.3L164.8,143.2L165.1,140.4L165.3,143.0L165.6,141.2L165.8,140.9L166.1,145.3L166.3,140.2L166.6,140.0L166.8,137.0L167.1,137.9L167.3,141.8L167.6,139.6L167.8,142.0L168.1,138.4L168.3,139.3L168.6,142.7L168.8,144.2L169.1,142.5L169.3,143.4L169.6,144.6L169.8,143.1L170.1,138.7L170.3,140.7L170.6,142.3L170.8,140.0L171.1,141.9L171.3,137.6L171.6,139.1L171.8,142.3L172.1,136.0L172.3,138.6L172.6,140.7L172.8,136.6L173.1,140.2L173.3,138.0L173.6,139.1L173.8,138.9L174.1,139.1L174.3,137.2L174.6,138.5L174.8,136.9L175.1,139.3L175.3,141.7L175.6,138.5L175.8,138.8L176.1,136.0L176.3,140.6L176.6,138.0L176.8,138.5L177.1,142.4L177.3,142.2L177.6,145.3L177.8,147.6L178.1,144.3L178.3,147.2L178.6,151.5L178.8,150.8L179.1,151.4L179.3,153.5L179.6,150.2L179.8,153.8L180.1,156.2L180.3,157.1L180.6,152.7L180.8,154.6L181.1,156.8L181.3,155.8L181.6,156.0L181.8,158.6L182.1,157.1L182.3,154.3L182.6,159.3L182.8,157.9L183.1,157.4L183.3,155.3L183.6,161.4L183.8,154.4L184.1,155.6L184.3,159.1L184.6,162.3L184.8,162.6L185.1,157.2L185.3,159.3L185.6,156.5L185.8,162.0L186.1,156.0L186.3,158.9L186.6,161.4L186.8,158.4L187.1,161.9L187.3,156.4L187.6,158.8L187.8,159.5L188.1,156.9L188.3,160.0L188.6,157.8L188.8,152.2L189.1,164.1L189.3,156.0L189.6,153.8L189.8,150.0L190.1,152.8L190.3,151.5L190.6,153.8L190.8,153.4L191.1,157.4L191.3,154.5L191.6,156.3L191.8,157.0L192.1,156.7L192.3,157.4L192.6,160.8L192.8,160.8L193.1,158.1L193.3,157.5L193.6,160.4L193.8,163.6L194.1,161.4L194.3,165.8L194.6,161.1L194.8,163.8L195.1,158.9L195.3,163.6L195.6,165.0L195.8,167.5L196.1,170.8L196.3,167.9L196.6,171.6L196.8,170.8L197.1,172.2L197.3,169.8L197.6,174.3L197.8,169.4L198.1,173.4L198.3,171.1L198.6,173.0L198.8,172.0L199.1,175.2L199.3,177.7L199.6,177.6L199.8,175.7L200.1,183.1L200.3,181.9L200.6,184.6L200.8,185.2L201.1,182.9L201.3,181.0L201.6,184.1L201.8,189.3L202.1,184.8L202.3,189.5L202.6,186.6L202.8,189.2L203.1,185.7L203.3,190.2L203.6,176.1L203.8,160.9L204.1,140.3L204.2,131.5L204.3,144.8L204.6,165.8L204.8,178.6L205.1,189.7L205.3,193.3L205.6,192.6L205.8,192.5L206.1,192.8L206.3,193.9L206.6,192.0L206.8,193.5L207.1,191.0L207.3,192.0L207.6,194.3L207.8,194.6L208.1,191.3L208.3,194.6L208.6,191.3L208.8,194.6L209.1,190.3L209.3,191.9L209.6,192.9L209.8,193.7L210.1,196.5L210.3,195.8L210.6,192.1L210.8,185.3L211.1,175.6L211.3,169.4L211.3,172.9L211.6,179.6L211.8,186.8L212.1,190.9L212.3,195.7L212.6,191.6L212.8,196.3L213.1,196.5L213.3,200.5L213.6,199.9L213.8,201.2L214.1,204.9L214.3,201.5L214.6,203.8L214.8,200.1L215.1,203.4L215.3,203.9L215.6,204.7L215.8,201.9L216.1,203.9L216.3,203.4L216.6,201.1L216.8,199.3L217.1,198.0L217.3,201.8L217.6,201.6L217.8,202.5L218.1,209.1L218.3,209.1L218.6,205.3L218.8,210.0L219.1,211.9L219.3,213.3L219.6,212.5L219.8,211.0L220.1,212.3L220.3,212.0L220.6,213.3L220.8,212.7L221.1,212.9L221.3,215.1L221.6,215.3L221.8,211.5L222.1,212.5L222.3,211.7L222.6,214.9L222.8,212.9L223.1,215.3L223.3,212.2L223.6,212.9L223.8,210.4L224.1,214.8L224.3,212.0L224.6,210.0L224.8,211.7L225.1,209.0L225.3,212.9L225.6,213.1L225.8,213.4L226.1,215.5L226.3,212.7L226.6,214.5L226.8,213.5L227.1,212.9L227.3,209.8L227.6,214.8L227.8,212.1L228.1,212.8L228.3,210.6L228.6,213.2L228.8,212.9L229.1,212.8L229.3,212.8L229.6,214.8L229.8,214.7L230.1,214.3L230.3,218.5L230.6,212.1L230.8,212.5L231.1,211.4L231.3,213.8L231.6,211.9L231.8,208.6L232.1,211.0L232.3,213.1L232.6,214.7L232.8,210.6L233.1,212.2L233.3,212.9L233.6,212.0L233.8,214.0L234.1,213.2L234.3,213.7L234.6,211.9L234.8,215.5L235.1,212.8L235.3,215.0L235.6,212.4L235.8,214.3L236.1,212.1L236.3,211.4L236.6,211.8L236.8,212.9L237.1,212.6L237.3,215.7L237.6,211.3L237.8,211.3L238.1,215.5L238.3,213.7L238.6,209.6L238.8,213.7L239.1,213.1L239.3,209.1L239.6,212.3L239.8,212.8L240.1,214.3L240.3,214.8L240.6,213.6L240.8,215.1L241.1,213.2L241.3,211.9L241.6,211.8L241.8,214.3L242.1,209.9L242.3,214.1L242.6,210.8L242.8,212.1L243.1,213.3L243.3,214.2L243.6,208.9L243.8,211.0L244.1,212.6L244.3,211.4L244.6,213.9L244.8,209.0L245.1,213.2L245.3,213.3L245.6,212.9L245.8,214.8L246.1,210.8L246.3,214.5L246.6,211.3L246.8,213.4L247.1,211.7L247.3,213.7L247.6,213.6L247.8,209.7L248.1,211.6L248.3,211.8L248.6,211.6L248.8,210.8L249.1,215.3L249.3,212.9L249.6,215.2L249.8,211.7L250.1,210.8L250.3,212.5L250.6,211.6L250.8,216.2L251.1,212.6L251.3,214.1L251.6,211.8L251.8,211.5L252.1,211.6L252.3,212.2L252.6,212.9L252.8,211.3L253.1,210.5L253.3,209.9L253.6,211.9L253.8,212.8L254.1,212.7L254.3,211.9L254.6,211.3L254.8,212.5L255.1,213.3L255.3,212.5L255.6,212.6L255.8,212.1L256.1,213.7L256.4,211.7L256.6,212.7L256.9,213.1L257.1,213.3L257.4,214.5L257.6,213.2L257.9,212.9L258.1,209.7L258.4,213.2L258.6,215.7L258.9,210.6L259.1,210.2L259.4,211.6L259.6,213.7L259.9,213.2L260.1,211.4L260.4,212.0L260.6,213.4L260.9,212.6L261.1,215.6L261.4,210.7L261.6,205.9L261.8,202.0L261.9,202.0L262.1,204.9L262.4,210.1L262.6,212.4L262.9,209.5L263.1,210.9L263.4,211.2L263.6,212.0L263.9,211.0L264.1,212.3L264.4,211.8L264.6,213.6L264.9,209.2L265.1,214.6L265.4,214.1L265.6,212.0L265.9,212.9L266.1,212.9L266.4,210.7L266.6,212.1L266.9,212.8L267.1,211.9L267.4,213.1L267.6,211.5L267.9,211.6L268.1,210.3L268.4,210.9L268.6,210.7L268.9,214.5L269.1,212.0L269.4,210.2L269.6,212.4L269.9,211.4L270.1,206.7L270.4,212.3L270.6,208.9L270.9,212.5L271.1,209.9L271.4,209.0L271.6,212.4L271.9,208.9L272.1,210.6L272.4,211.7L272.6,212.5L272.9,212.9L273.1,211.5L273.4,210.3L273.6,214.8L273.9,210.8L274.1,214.7L274.4,210.9L274.6,213.5L274.9,213.2L275.1,209.6L275.4,211.7L275.6,212.5L275.9,212.5L276.1,211.0L276.4,211.6L276.6,210.3L276.9,209.2L277.1,212.9L277.4,210.5L277.6,213.8L277.9,212.7L278.1,210.2L278.4,211.3L278.6,211.1L278.9,210.3L279.1,212.8L279.4,211.1L279.6,214.5L279.9,213.1L280.1,210.3L280.4,211.6L280.6,211.3L280.9,209.0L281.1,213.4L281.4,213.3L281.6,213.2L281.9,210.9L282.1,213.8L282.4,211.6L282.6,213.4L282.9,214.9L283.1,212.2L283.4,209.6L283.6,211.1L283.9,212.5L284.1,213.4L284.4,209.6L284.6,211.0L284.9,211.5L285.1,211.9L285.4,212.8L285.6,209.5L285.9,210.5L286.1,212.9L286.4,212.1L286.6,212.2L286.9,213.2L287.1,211.3L287.4,212.3L287.6,210.7L287.9,208.9L288.1,209.1L288.4,211.1L288.6,210.0L288.9,208.3L289.1,209.0L289.4,208.6L289.6,211.1L289.9,211.4L290.1,210.2L290.4,207.9L290.6,214.1L290.9,212.0L291.1,207.1L291.4,210.8L291.6,212.4L291.9,211.4L292.1,212.6L292.4,209.9L292.6,211.8L292.9,211.3L293.1,211.3L293.4,211.3L293.6,212.2L293.9,213.3L294.1,210.7L294.4,210.9L294.6,210.9L294.9,209.1L295.1,207.5L295.4,210.6L295.6,212.8L295.9,211.7L296.1,208.1L296.4,212.0L296.6,212.7L296.9,211.7L297.1,211.6L297.4,208.0L297.6,212.7L297.9,211.4L298.1,209.5L298.4,210.5L298.6,210.4L298.9,212.8L299.1,212.8L299.4,214.5L299.6,213.1L299.9,209.7L300.1,209.7L300.4,213.8L300.6,214.5L300.9,211.7L301.1,213.2L301.4,209.6L301.6,208.7L301.9,209.7L302.1,211.1L302.4,210.8L302.6,211.2L302.9,210.7L303.1,212.4L303.4,213.3L303.6,210.7L303.9,213.9L304.1,209.6L304.4,209.5L304.6,210.6L304.9,209.1L305.1,211.1L305.4,207.7L305.6,210.8L305.9,208.6L306.1,212.2L306.4,206.7L306.6,206.2L306.9,206.2L307.1,204.0L307.4,209.5L307.6,210.6L307.9,211.2L308.1,209.2L308.4,209.5L308.6,213.2L308.9,214.5L309.1,215.9L309.4,212.3L309.6,212.8L309.9,214.7L310.1,212.3L310.4,215.1L310.6,218.0L310.9,219.9L311.1,218.2L311.4,221.2L311.6,219.7L311.9,219.9L312.1,219.7L312.4,220.6L312.6,220.5L312.9,220.9L313.1,220.0L313.4,221.6L313.6,221.2L313.9,218.7L314.1,220.7L314.4,219.7L314.6,217.6L314.9,222.2L315.1,224.0L315.4,225.6L315.6,224.4L315.9,220.6L316.1,224.0L316.4,224.2L316.6,219.2L316.9,224.1L317.1,223.8L317.4,222.9L317.6,223.3L317.9,222.5L318.1,225.1L318.4,221.4L318.6,221.7L318.9,222.0L319.1,222.5L319.4,219.1L319.6,224.4L319.9,222.5L320.1,222.9L320.4,222.5L320.6,222.0L320.9,221.9L321.1,222.6L321.4,222.8L321.6,224.5L321.9,223.2L322.1,222.3L322.4,225.7L322.6,220.4L322.9,220.2L323.1,223.0L323.4,222.2L323.6,219.8L323.9,222.1L324.1,221.3L324.4,224.2L324.6,221.4L324.9,224.4L325.1,223.2L325.4,220.3L325.6,218.1L325.8,215.8L325.9,212.6L326.1,219.9L326.4,221.0L326.6,226.0L326.9,221.9L327.1,225.0L327.4,219.3L327.6,225.0L327.9,224.4" fill="none" stroke="#ca0000" stroke-width="1.35" stroke-linejoin="round"/>
<path d="M107.3,94.9 L107.3,116.6 M103.0,109.1 L107.3,116.6 L111.6,109.1" fill="none" stroke="#000" stroke-width="1.1"/>
<path d="M175.2,110.0 L175.2,131.4 M170.89999999999998,123.9 L175.2,131.4 L179.5,123.9" fill="none" stroke="#000" stroke-width="1.1"/>
<path d="M197.7,109.4 L197.7,131.9 M193.39999999999998,124.4 L197.7,131.9 L202.0,124.4" fill="none" stroke="#000" stroke-width="1.1"/>
</g>
<g clip-path="url(#cb)">
<path d="M437.0,156.0L437.5,156.0L438.0,156.0L438.5,156.1L439.0,156.0L439.5,156.0L440.0,156.0L440.5,155.9L441.0,155.8L441.5,155.7L442.0,155.6L442.5,155.4L443.0,155.1L443.5,154.8L444.0,154.5L444.5,154.1L445.0,153.6L445.5,153.1L446.0,152.6L446.5,151.9L447.0,151.2L447.5,150.5L448.0,149.7L448.5,148.9L449.0,148.1L449.5,147.2L450.0,146.4L450.5,145.6L451.0,144.8L451.5,144.1L452.0,143.4L452.5,142.8L453.0,142.3L453.5,142.0L454.0,141.7L454.5,141.6L455.0,141.7L455.5,141.8L456.0,142.1L456.5,142.6L457.0,143.2L457.5,144.0L458.0,144.8L458.5,145.7L459.0,146.7L459.5,147.8L460.0,148.8L460.5,149.9L461.0,151.0L461.5,152.0L462.0,153.0L462.5,154.0L463.0,154.9L463.5,155.7L464.0,156.4L464.5,157.1L465.0,157.7L465.5,158.2L466.0,158.7L466.5,159.1L467.0,159.5L467.5,159.8L468.0,160.0L468.5,160.3L469.0,160.4L469.5,160.6L470.0,160.7L470.5,160.8L471.0,160.9" fill="none" stroke="#b060c8" stroke-width="1.3" stroke-linejoin="round"/>
<path d="M486.0,162.0L486.5,162.0L487.0,162.1L487.5,162.1L488.0,162.1L488.5,162.0L489.0,162.0L489.5,162.0L490.0,161.9L490.5,161.9L491.0,161.8L491.5,161.6L492.0,161.5L492.5,161.3L493.0,161.1L493.5,160.9L494.0,160.6L494.5,160.2L495.0,159.8L495.5,159.4L496.0,158.9L496.5,158.3L497.0,157.7L497.5,157.0L498.0,156.2L498.5,155.4L499.0,154.5L499.5,153.5L500.0,152.5L500.5,151.4L501.0,150.2L501.5,149.0L502.0,147.8L502.5,146.6L503.0,145.3L503.5,144.0L504.0,142.7L504.5,141.4L505.0,140.2L505.5,138.9L506.0,137.8L506.5,136.7L507.0,135.7L507.5,134.9L508.0,134.1L508.5,133.4L509.0,132.9L509.5,132.6L510.0,132.4L510.5,132.4L511.0,132.5L511.5,132.9L512.0,133.4L512.5,134.2L513.0,135.2L513.5,136.3L514.0,137.6L514.5,139.0L515.0,140.6L515.5,142.3L516.0,144.0L516.5,145.8L517.0,147.7L517.5,149.6L518.0,151.4L518.5,153.3L519.0,155.1L519.5,156.8L520.0,158.5L520.5,160.1L521.0,161.6L521.5,163.0L522.0,164.4L522.5,165.6L523.0,166.8L523.5,167.8L524.0,168.8L524.5,169.7L525.0,170.4L525.5,171.2L526.0,171.8L526.5,172.4L527.0,172.9L527.5,173.3L528.0,173.7L528.5,174.1L529.0,174.4L529.5,174.7L530.0,174.9L530.5,175.2L531.0,175.3L531.5,175.5L532.0,175.7L532.5,175.8L533.0,175.9" fill="none" stroke="#000" stroke-width="1.3" stroke-linejoin="round"/>
<path d="M555.0,179.6L555.5,179.6L556.0,179.7L556.5,179.7L557.0,179.7L557.5,179.8L558.0,179.8L558.5,179.8L559.0,179.7L559.5,179.7L560.0,179.7L560.5,179.6L561.0,179.5L561.5,179.4L562.0,179.2L562.5,179.1L563.0,178.9L563.5,178.6L564.0,178.4L564.5,178.1L565.0,177.7L565.5,177.3L566.0,176.9L566.5,176.4L567.0,175.9L567.5,175.3L568.0,174.7L568.5,174.1L569.0,173.4L569.5,172.8L570.0,172.0L570.5,171.3L571.0,170.6L571.5,169.8L572.0,169.1L572.5,168.4L573.0,167.7L573.5,167.0L574.0,166.4L574.5,165.9L575.0,165.4L575.5,164.9L576.0,164.5L576.5,164.3L577.0,164.1L577.5,164.0L578.0,163.9L578.5,164.0L579.0,164.2L579.5,164.5L580.0,164.9L580.5,165.4L581.0,166.0L581.5,166.7L582.0,167.5L582.5,168.3L583.0,169.3L583.5,170.2L584.0,171.2L584.5,172.2L585.0,173.2L585.5,174.2L586.0,175.2L586.5,176.2L587.0,177.1L587.5,178.0L588.0,178.9L588.5,179.7L589.0,180.5L589.5,181.3L590.0,181.9L590.5,182.6L591.0,183.1L591.5,183.7L592.0,184.1L592.5,184.6L593.0,185.0L593.5,185.3L594.0,185.6L594.5,185.9L595.0,186.1L595.5,186.4L596.0,186.6L596.5,186.7L597.0,186.9L597.5,187.0L598.0,187.1L598.5,187.3L599.0,187.4L599.5,187.5" fill="none" stroke="#3cb44a" stroke-width="1.3" stroke-linejoin="round"/>
<path d="M604.0,188.0L604.5,188.0L605.0,188.0L605.5,188.0L606.0,188.0L606.5,188.0L607.0,188.0L607.5,188.0L608.0,187.9L608.5,187.8L609.0,187.7L609.5,187.6L610.0,187.5L610.5,187.3L611.0,187.1L611.5,186.9L612.0,186.6L612.5,186.3L613.0,185.9L613.5,185.4L614.0,184.9L614.5,184.4L615.0,183.7L615.5,183.0L616.0,182.2L616.5,181.2L617.0,180.2L617.5,179.0L618.0,177.8L618.5,176.4L619.0,174.9L619.5,173.2L620.0,171.4L620.5,169.5L621.0,167.4L621.5,165.2L622.0,162.9L622.5,160.4L623.0,157.8L623.5,155.1L624.0,152.2L624.5,149.2L625.0,146.1L625.5,142.9L626.0,139.6L626.5,136.3L627.0,133.0L627.5,129.7L628.0,126.3L628.5,123.0L629.0,119.6L629.5,116.3L630.0,113.1L630.5,110.0L631.0,107.0L631.5,104.2L632.0,101.6L632.5,99.2L633.0,97.0L633.5,95.2L634.0,93.6L634.5,92.3L635.0,91.4L635.5,90.8L636.0,90.6L636.5,90.7L637.0,91.3L637.5,92.2L638.0,93.5L638.5,95.3L639.0,97.5L639.5,100.2L640.0,103.2L640.5,106.5L641.0,110.2L641.5,114.1L642.0,118.3L642.5,122.7L643.0,127.3L643.5,132.0L644.0,136.9L644.5,141.8L645.0,146.8L645.5,151.7L646.0,156.6L646.5,161.4L647.0,166.0L647.5,170.5L648.0,174.9L648.5,179.1L649.0,183.2L649.5,187.0L650.0,190.6L650.5,194.0L651.0,197.2L651.5,200.1L652.0,202.9L652.5,205.4L653.0,207.7L653.5,209.9L654.0,211.8L654.5,213.6L655.0,215.2L655.5,216.6L656.0,217.9L656.5,219.0L657.0,220.0L657.5,220.8L658.0,221.6L658.5,222.3L659.0,222.9L659.5,223.4L660.0,223.8L660.5,224.2L661.0,224.5L661.5,224.8L662.0,225.0L662.5,225.2L663.0,225.4L663.5,225.6L664.0,225.7L664.5,225.8L665.0,225.9L665.5,225.9L666.0,226.0L666.5,226.0L667.0,226.1" fill="none" stroke="#1a1a9e" stroke-width="1.3" stroke-linejoin="round"/>
<path d="M433.5,155.7L434.0,155.8L434.5,155.8L435.0,155.9L435.5,155.9L436.0,156.0L436.5,156.0L437.0,156.1L437.5,156.2L438.0,156.2L438.5,156.3L439.0,156.3L439.5,156.4L440.0,156.5L440.5,156.5L441.0,156.6L441.5,156.6L442.0,156.7L442.5,156.8L443.0,156.8L443.5,156.9L444.0,157.0L444.5,157.0L445.0,157.1L445.5,157.2L446.0,157.2L446.5,157.3L447.0,157.4L447.5,157.4L448.0,157.5L448.5,157.6L449.0,157.6L449.5,157.7L450.0,157.8L450.5,157.9L451.0,158.0L451.5,158.0L452.0,158.1L452.5,158.2L453.0,158.3L453.5,158.4L454.0,158.5L454.5,158.6L455.0,158.7L455.5,158.7L456.0,158.8L456.5,158.9L457.0,159.0L457.5,159.1L458.0,159.2L458.5,159.3L459.0,159.4L459.5,159.5L460.0,159.5L460.5,159.6L461.0,159.7L461.5,159.8L462.0,159.9L462.5,160.0L463.0,160.1L463.5,160.1L464.0,160.2L464.5,160.3L465.0,160.4L465.5,160.4L466.0,160.5L466.5,160.6L467.0,160.7L467.5,160.7L468.0,160.8L468.5,160.8L469.0,160.9L469.5,160.9L470.0,161.0L470.5,161.0L471.0,161.1L471.5,161.1L472.0,161.2L472.5,161.2L473.0,161.3L473.5,161.3L474.0,161.3L474.5,161.4L475.0,161.4L475.5,161.4L476.0,161.5L476.5,161.5L477.0,161.5L477.5,161.6L478.0,161.6L478.5,161.6L479.0,161.7L479.5,161.7L480.0,161.7L480.5,161.8L481.0,161.8L481.5,161.8L482.0,161.8L482.5,161.9L483.0,161.9L483.5,162.0L484.0,162.0L484.5,162.0L485.0,162.1L485.5,162.1L486.0,162.2L486.5,162.2L487.0,162.2L487.5,162.3L488.0,162.3L488.5,162.4L489.0,162.4L489.5,162.5L490.0,162.6L490.5,162.6L491.0,162.7L491.5,162.7L492.0,162.8L492.5,162.9L493.0,162.9L493.5,163.0L494.0,163.1L494.5,163.2L495.0,163.2L495.5,163.3L496.0,163.4L496.5,163.5L497.0,163.6L497.5,163.7L498.0,163.8L498.5,163.9L499.0,164.0L499.5,164.1L500.0,164.2L500.5,164.3L501.0,164.5L501.5,164.6L502.0,164.8L502.5,164.9L503.0,165.1L503.5,165.2L504.0,165.4L504.5,165.5L505.0,165.7L505.5,165.9L506.0,166.1L506.5,166.2L507.0,166.4L507.5,166.6L508.0,166.8L508.5,167.0L509.0,167.2L509.5,167.4L510.0,167.6L510.5,167.8L511.0,168.0L511.5,168.3L512.0,168.5L512.5,168.8L513.0,169.1L513.5,169.3L514.0,169.6L514.5,169.9L515.0,170.1L515.5,170.4L516.0,170.7L516.5,170.9L517.0,171.2L517.5,171.4L518.0,171.7L518.5,171.9L519.0,172.1L519.5,172.3L520.0,172.5L520.5,172.7L521.0,172.9L521.5,173.0L522.0,173.2L522.5,173.4L523.0,173.6L523.5,173.7L524.0,173.9L524.5,174.0L525.0,174.2L525.5,174.3L526.0,174.5L526.5,174.6L527.0,174.8L527.5,174.9L528.0,175.0L528.5,175.2L529.0,175.3L529.5,175.4L530.0,175.5L530.5,175.6L531.0,175.7L531.5,175.8L532.0,175.9L532.5,176.0L533.0,176.1L533.5,176.2L534.0,176.2L534.5,176.3L535.0,176.4L535.5,176.5L536.0,176.6L536.5,176.6L537.0,176.7L537.5,176.8L538.0,176.9L538.5,177.0L539.0,177.0L539.5,177.1L540.0,177.2L540.5,177.3L541.0,177.4L541.5,177.5L542.0,177.5L542.5,177.6L543.0,177.7L543.5,177.8L544.0,177.9L544.5,178.0L545.0,178.0L545.5,178.1L546.0,178.2L546.5,178.3L547.0,178.4L547.5,178.5L548.0,178.5L548.5,178.6L549.0,178.7L549.5,178.8L550.0,178.9L550.5,179.0L551.0,179.0L551.5,179.1L552.0,179.2L552.5,179.3L553.0,179.4L553.5,179.4L554.0,179.5L554.5,179.6L555.0,179.7L555.5,179.7L556.0,179.8L556.5,179.9L557.0,180.0L557.5,180.0L558.0,180.1L558.5,180.2L559.0,180.3L559.5,180.3L560.0,180.4L560.5,180.5L561.0,180.5L561.5,180.6L562.0,180.7L562.5,180.8L563.0,180.8L563.5,180.9L564.0,181.0L564.5,181.1L565.0,181.1L565.5,181.2L566.0,181.3L566.5,181.4L567.0,181.5L567.5,181.6L568.0,181.6L568.5,181.7L569.0,181.8L569.5,181.9L570.0,182.0L570.5,182.1L571.0,182.2L571.5,182.3L572.0,182.4L572.5,182.5L573.0,182.6L573.5,182.8L574.0,182.9L574.5,183.0L575.0,183.1L575.5,183.2L576.0,183.4L576.5,183.5L577.0,183.6L577.5,183.8L578.0,183.9L578.5,184.0L579.0,184.1L579.5,184.3L580.0,184.4L580.5,184.5L581.0,184.6L581.5,184.8L582.0,184.9L582.5,185.0L583.0,185.1L583.5,185.2L584.0,185.3L584.5,185.4L585.0,185.5L585.5,185.6L586.0,185.7L586.5,185.8L587.0,185.8L587.5,185.9L588.0,186.0L588.5,186.1L589.0,186.2L589.5,186.2L590.0,186.3L590.5,186.4L591.0,186.5L591.5,186.5L592.0,186.6L592.5,186.7L593.0,186.7L593.5,186.8L594.0,186.9L594.5,187.0L595.0,187.0L595.5,187.1L596.0,187.1L596.5,187.2L597.0,187.3L597.5,187.3L598.0,187.4L598.5,187.5L599.0,187.5L599.5,187.6L600.0,187.6L600.5,187.7L601.0,187.8L601.5,187.8L602.0,187.9L602.5,187.9L603.0,188.0L603.5,188.0L604.0,188.1L604.5,188.1L605.0,188.2L605.5,188.3L606.0,188.3L606.5,188.3L607.0,188.4L607.5,188.4L608.0,188.5L608.5,188.5L609.0,188.6L609.5,188.6L610.0,188.7L610.5,188.7L611.0,188.7L611.5,188.8L612.0,188.8L612.5,188.9L613.0,189.0L613.5,189.0L614.0,189.1L614.5,189.1L615.0,189.2L615.5,189.3L616.0,189.4L616.5,189.4L617.0,189.5L617.5,189.6L618.0,189.7L618.5,189.8L619.0,189.9L619.5,190.1L620.0,190.2L620.5,190.4L621.0,190.6L621.5,190.8L622.0,191.0L622.5,191.3L623.0,191.6L623.5,191.9L624.0,192.3L624.5,192.6L625.0,193.0L625.5,193.4L626.0,193.9L626.5,194.4L627.0,195.0L627.5,195.6L628.0,196.2L628.5,196.8L629.0,197.4L629.5,198.0L630.0,198.6L630.5,199.2L631.0,199.8L631.5,200.4L632.0,201.1L632.5,201.7L633.0,202.3L633.5,203.0L634.0,203.7L634.5,204.3L635.0,205.0L635.5,205.7L636.0,206.4L636.5,207.1L637.0,207.8L637.5,208.5L638.0,209.2L638.5,209.9L639.0,210.6L639.5,211.4L640.0,212.1L640.5,212.9L641.0,213.6L641.5,214.3L642.0,215.0L642.5,215.7L643.0,216.4L643.5,217.1L644.0,217.8L644.5,218.5L645.0,219.2L645.5,219.8L646.0,220.4L646.5,220.9L647.0,221.4L647.5,221.8L648.0,222.3L648.5,222.7L649.0,223.1L649.5,223.5L650.0,223.8L650.5,224.1L651.0,224.3L651.5,224.5L652.0,224.7L652.5,224.9L653.0,225.1L653.5,225.3L654.0,225.4L654.5,225.6L655.0,225.7L655.5,225.8L656.0,225.9L656.5,225.9L657.0,225.9L657.5,226.0L658.0,226.0L658.5,226.0L659.0,226.0L659.5,226.1L660.0,226.1L660.5,226.1L661.0,226.1L661.5,226.1L662.0,226.2L662.5,226.2L663.0,226.2L663.5,226.2L664.0,226.2L664.5,226.2L665.0,226.2L665.5,226.2L666.0,226.2L666.5,226.2L667.0,226.2L667.5,226.2L668.0,226.2L668.5,226.2L669.0,226.2L669.5,226.2L670.0,226.2L670.5,226.2L671.0,226.2L671.5,226.2L672.0,226.2L672.5,226.2L673.0,226.2L673.5,226.2L674.0,226.2L674.5,226.2L675.0,226.2L675.5,226.2L676.0,226.2L676.5,226.2L677.0,226.2L677.5,226.2L678.0,226.2L678.5,226.2L679.0,226.2L679.5,226.2L680.0,226.2L680.5,226.2L681.0,226.2L681.5,226.2L682.0,226.2L682.5,226.2" fill="none" stroke="#9a5a1e" stroke-width="1.2" stroke-linejoin="round"/>
<path d="M401.8,132.5L402.2,120.6L402.5,125.6L402.9,129.4L403.2,126.4L403.6,131.0L403.9,131.3L404.3,124.3L404.6,140.6L405.0,140.2L405.3,131.9L405.7,132.3L406.0,132.9L406.4,129.8L406.7,129.1L407.1,125.0L407.4,132.6L407.8,133.4L408.1,134.6L408.5,126.9L408.8,143.1L409.2,134.1L409.5,131.8L409.9,143.9L410.2,136.0L410.6,128.8L410.9,133.9L411.3,127.1L411.6,142.1L412.0,137.3L412.3,136.8L412.7,144.9L413.0,131.0L413.4,141.6L413.7,129.5L414.1,134.4L414.4,132.0L414.8,143.6L415.1,145.2L415.5,136.1L415.8,142.4L416.2,137.4L416.5,142.9L416.9,139.3L417.2,136.6L417.6,134.3L417.9,145.7L418.3,152.6L418.6,142.1L419.0,139.0L419.3,148.7L419.7,141.2L420.0,140.5L420.4,143.8L420.7,139.7L421.1,141.3L421.4,139.4L421.8,148.6L422.1,149.3L422.5,154.5L422.8,147.7L423.2,141.4L423.5,152.0L423.9,160.1L424.2,147.7L424.6,148.0L424.9,145.0L425.3,145.6L425.6,149.9L426.0,146.6L426.3,159.1L426.7,152.0L427.0,154.9L427.4,160.5L427.7,161.8L428.1,153.6L428.4,156.2L428.8,158.7L429.1,153.8L429.5,146.7L429.8,159.5L430.2,159.9L430.5,158.2L430.9,153.8L431.2,155.5L431.6,153.8L431.9,155.6L432.3,163.8L432.6,164.1L433.0,158.2L433.3,157.4L433.7,160.3L434.0,159.9L434.4,160.0L434.7,160.9L435.1,163.3L435.4,175.3L435.8,172.1L436.1,167.4L436.5,164.4L436.8,161.1L437.2,166.8L437.5,165.5L437.9,155.9L438.2,164.1L438.6,159.4L438.9,170.2L439.3,162.0L439.6,169.5L440.0,160.5L440.3,159.5L440.7,162.4L441.0,167.1L441.4,162.3L441.7,150.2L442.1,157.2L442.4,154.1L442.8,147.4L443.1,147.0L443.5,159.6L443.8,148.2L444.2,145.9L444.5,153.3L444.9,150.7L445.2,148.8L445.6,153.3L445.9,150.6L446.3,147.5L446.6,148.0L447.0,143.1L447.3,138.9L447.7,138.4L448.0,140.1L448.4,144.7L448.7,137.1L449.1,133.3L449.4,143.5L449.8,138.3L450.1,134.5L450.5,147.8L450.8,142.3L451.2,146.6L451.5,142.5L451.9,139.1L452.2,137.8L452.6,140.8L452.9,139.4L453.3,135.5L453.6,137.1L454.0,131.6L454.3,137.6L454.7,129.6L455.0,136.7L455.4,140.7L455.7,142.4L456.1,144.9L456.4,130.3L456.8,140.3L457.1,142.8L457.5,143.0L457.8,137.5L458.2,144.5L458.5,154.5L458.9,139.9L459.2,149.9L459.6,155.0L459.9,147.4L460.3,153.7L460.6,145.2L461.0,145.8L461.3,146.2L461.7,152.8L462.0,152.5L462.4,157.5L462.7,152.5L463.1,157.7L463.4,162.4L463.8,160.2L464.1,151.6L464.5,160.4L464.8,154.6L465.2,159.3L465.5,159.2L465.9,164.0L466.2,161.2L466.6,153.4L466.9,156.6L467.3,168.0L467.6,163.6L468.0,172.4L468.3,166.1L468.7,160.4L469.0,169.5L469.4,160.4L469.7,155.9L470.1,172.7L470.4,154.5L470.8,164.7L471.1,167.7L471.5,165.5L471.8,155.8L472.2,170.4L472.5,157.4L472.9,159.7L473.2,163.2L473.6,169.3L473.9,167.6L474.3,171.0L474.6,167.0L475.0,167.3L475.3,164.8L475.7,167.8L476.0,174.1L476.4,170.3L476.7,174.3L477.1,168.8L477.4,167.4L477.8,172.0L478.1,169.4L478.5,173.3L478.8,172.7L479.2,178.1L479.5,168.2L479.9,168.5L480.2,165.0L480.6,169.0L480.9,173.5L481.3,168.9L481.6,170.6L482.0,173.9L482.3,170.7L482.7,167.3L483.0,173.8L483.4,170.0L483.7,170.1L484.1,172.2L484.4,173.0L484.8,166.3L485.1,166.1L485.5,171.8L485.8,169.7L486.2,162.0L486.5,178.7L486.9,171.4L487.2,173.1L487.6,164.8L487.9,174.8L488.3,165.1L488.6,167.5L489.0,159.2L489.3,164.1L489.7,165.9L490.0,165.8L490.4,169.1L490.7,166.4L491.1,169.2L491.4,161.2L491.8,161.6L492.1,163.7L492.5,165.0L492.8,168.8L493.2,164.8L493.5,152.7L493.9,162.2L494.2,168.8L494.6,158.8L494.9,156.2L495.3,159.4L495.6,154.0L496.0,160.6L496.3,156.9L496.7,162.2L497.0,156.3L497.4,152.3L497.7,156.7L498.1,157.9L498.4,151.1L498.8,149.5L499.1,139.1L499.5,154.2L499.8,146.2L500.2,136.0L500.5,137.1L500.9,144.1L501.2,146.4L501.6,139.7L501.9,142.0L502.3,133.3L502.6,131.6L503.0,141.7L503.3,141.6L503.7,136.4L504.0,142.7L504.4,134.9L504.7,137.2L505.1,141.0L505.4,144.3L505.8,136.1L506.1,140.8L506.5,131.6L506.8,136.3L507.2,132.0L507.5,123.7L507.9,132.4L508.2,134.3L508.6,128.3L508.9,128.9L509.3,131.7L509.6,118.3L510.0,116.3L510.3,121.1L510.7,122.5L511.0,134.3L511.4,131.2L511.7,126.4L512.1,131.1L512.4,147.4L512.8,132.8L513.1,133.9L513.5,135.7L513.8,136.9L514.2,134.9L514.5,130.0L514.9,130.6L515.2,139.3L515.6,137.1L515.9,129.9L516.3,143.6L516.6,144.8L517.0,140.3L517.3,141.7L517.7,142.2L518.0,137.9L518.4,136.3L518.7,145.0L519.1,140.6L519.4,148.8L519.8,144.8L520.1,152.2L520.5,153.5L520.8,165.4L521.2,155.6L521.5,156.2L521.9,160.0L522.2,159.6L522.6,162.0L522.9,169.4L523.3,172.8L523.6,179.7L524.0,167.8L524.3,186.5L524.7,185.3L525.0,175.7L525.4,166.2L525.7,175.9L526.1,179.0L526.4,168.7L526.8,181.8L527.1,178.5L527.5,177.0L527.8,185.1L528.2,188.0L528.5,181.6L528.9,184.1L529.2,182.2L529.6,181.3L529.9,185.1L530.3,187.1L530.6,184.2L531.0,177.4L531.3,190.4L531.7,182.6L532.0,190.6L532.4,197.7L532.7,191.6L533.1,187.8L533.4,187.0L533.8,199.3L534.1,196.0L534.5,196.8L534.8,198.2L535.2,194.5L535.5,191.6L535.9,188.4L536.2,177.6L536.6,183.7L536.9,189.2L537.3,190.3L537.6,191.3L538.0,189.2L538.3,193.4L538.7,196.9L539.0,188.3L539.4,192.1L539.7,186.1L540.1,197.9L540.4,194.9L540.8,198.6L541.1,202.4L541.5,200.1L541.8,195.2L542.2,200.1L542.5,190.9L542.9,199.1L543.2,197.5L543.6,186.8L543.9,199.9L544.3,190.3L544.6,198.8L545.0,192.3L545.3,198.9L545.7,201.8L546.0,190.9L546.4,189.8L546.7,196.7L547.1,203.2L547.4,196.5L547.8,196.8L548.1,200.9L548.5,185.0L548.8,194.9L549.2,192.4L549.5,199.5L549.9,194.6L550.2,192.9L550.6,196.1L550.9,191.0L551.3,197.7L551.6,195.3L552.0,195.5L552.3,195.5L552.7,199.8L553.0,192.1L553.4,195.0L553.7,193.8L554.1,187.9L554.4,192.3L554.8,190.5L555.1,191.9L555.5,191.2L555.8,193.5L556.2,197.5L556.5,205.9L556.9,188.9L557.2,197.6L557.6,192.9L557.9,194.5L558.3,190.8L558.6,192.5L559.0,173.9L559.3,183.4L559.7,183.1L560.0,184.2L560.4,181.6L560.7,182.7L561.1,188.7L561.4,193.8L561.8,171.2L562.1,182.1L562.5,184.1L562.8,183.5L563.2,179.3L563.5,172.2L563.9,172.7L564.2,180.1L564.6,182.3L564.9,177.0L565.3,173.4L565.6,175.7L566.0,174.8L566.3,179.6L566.7,177.0L567.0,172.7L567.4,177.2L567.7,170.3L568.1,175.8L568.4,176.6L568.8,164.8L569.1,172.6L569.5,163.7L569.8,173.2L570.2,170.2L570.5,162.8L570.9,170.7L571.2,164.0L571.6,161.6L571.9,158.7L572.3,163.3L572.6,161.1L573.0,164.2L573.3,161.2L573.7,164.9L574.0,164.6L574.4,159.5L574.7,157.8L575.1,166.3L575.4,168.4L575.8,160.9L576.1,155.5L576.5,164.4L576.8,171.4L577.2,155.1L577.5,164.0L577.9,160.4L578.2,157.1L578.6,163.6L578.9,156.3L579.3,164.1L579.6,168.5L580.0,165.1L580.3,162.8L580.7,157.7L581.0,163.0L581.4,161.9L581.7,177.1L582.1,166.9L582.4,165.5L582.8,164.9L583.1,165.9L583.5,172.4L583.8,168.5L584.2,181.8L584.5,172.8L584.9,176.4L585.2,181.4L585.6,184.9L585.9,185.8L586.3,176.9L586.6,178.4L587.0,179.3L587.3,181.9L587.7,180.3L588.0,175.5L588.4,176.8L588.7,180.9L589.1,175.3L589.4,188.1L589.8,182.4L590.1,176.5L590.5,182.2L590.8,181.8L591.2,181.9L591.5,187.0L591.9,178.2L592.2,179.1L592.6,189.2L592.9,187.3L593.3,187.7L593.6,188.6L594.0,183.5L594.3,188.6L594.7,179.3L595.0,182.8L595.4,179.2L595.7,179.3L596.1,186.0L596.4,186.1L596.8,178.3L597.1,184.9L597.5,190.9L597.8,194.0L598.2,187.4L598.5,189.5L598.9,186.1L599.2,204.0L599.6,196.3L599.9,199.4L600.3,201.1L600.6,204.3L601.0,202.6L601.3,199.3L601.7,204.8L602.0,205.8L602.4,212.7L602.7,202.1L603.1,202.5L603.4,207.4L603.8,209.0L604.1,203.6L604.5,198.8L604.8,200.2L605.2,196.5L605.5,207.6L605.9,203.4L606.2,204.3L606.6,201.4L606.9,195.8L607.3,204.1L607.6,204.2L608.0,197.9L608.3,194.8L608.7,198.1L609.0,190.1L609.4,193.1L609.7,186.0L610.1,184.3L610.4,190.4L610.8,189.1L611.1,195.9L611.5,187.7L611.8,189.4L612.2,185.1L612.5,183.3L612.9,183.3L613.2,195.8L613.6,189.3L613.9,197.8L614.3,198.3L614.6,190.8L615.0,201.3L615.3,193.0L615.7,197.4L616.0,189.8L616.4,193.6L616.7,184.7L617.1,189.8L617.4,184.1L617.8,181.5L618.1,183.6L618.5,178.7L618.8,175.3L619.2,179.4L619.5,179.7L619.9,165.9L620.2,173.1L620.6,172.3L620.9,165.0L621.3,167.9L621.6,158.0L622.0,166.8L622.3,156.5L622.7,155.8L623.0,157.2L623.4,153.0L623.7,153.1L624.1,147.8L624.4,147.1L624.8,142.9L625.1,144.4L625.5,146.4L625.8,142.8L626.2,142.3L626.5,136.1L626.9,134.7L627.2,133.7L627.6,134.8L627.9,131.3L628.3,126.6L628.6,124.6L629.0,119.6L629.3,117.6L629.7,118.8L630.0,113.3L630.4,113.2L630.7,115.8L631.1,111.6L631.4,113.2L631.8,110.6L632.1,115.1L632.5,105.0L632.8,105.6L633.2,104.7L633.5,109.1L633.9,105.2L634.2,101.6L634.6,97.8L634.9,99.2L635.3,97.4L635.6,94.2L636.0,91.4L636.3,91.6L636.7,94.4L637.0,94.5L637.4,94.0L637.7,94.8L638.1,91.6L638.4,97.8L638.8,96.8L639.1,102.5L639.5,105.5L639.8,105.2L640.2,106.4L640.5,112.9L640.9,112.2L641.2,111.3L641.6,107.8L641.9,115.4L642.3,119.8L642.6,124.4L643.0,124.0L643.3,128.0L643.7,132.9L644.0,140.8L644.4,140.5L644.7,146.7L645.1,148.1L645.4,154.0L645.8,154.8L646.1,161.2L646.5,163.3L646.8,166.2L647.2,170.9L647.5,175.5L647.9,172.4L648.2,180.9L648.6,181.6L648.9,184.1L649.3,189.6L649.6,189.5L650.0,194.5L650.3,192.2L650.7,194.7L651.0,201.1L651.4,205.1L651.7,202.8L652.1,208.1L652.4,205.1L652.8,203.1L653.1,210.2L653.5,218.9L653.8,205.8L654.2,213.5L654.5,207.8L654.9,219.4L655.2,222.1L655.6,212.9L655.9,217.2L656.3,225.3L656.6,219.2L657.0,215.0L657.3,216.7L657.7,211.6L658.0,226.0L658.4,217.8L658.7,226.4L659.1,227.3L659.4,221.2L659.8,220.8L660.1,226.8L660.5,223.5L660.8,223.4L661.2,217.5L661.5,230.5L661.9,220.6L662.2,213.6L662.6,221.8L662.9,226.8L663.3,236.2L663.6,222.8L664.0,218.2L664.3,234.1L664.7,223.8L665.0,222.6L665.4,218.7L665.7,218.2L666.1,228.0L666.4,222.4L666.8,220.7L667.1,219.0L667.5,230.9L667.8,222.6L668.2,227.9L668.5,226.0L668.9,224.4L669.2,217.6L669.6,223.9L669.9,226.5L670.3,219.4L670.6,213.2L671.0,211.9L671.3,218.1L671.7,218.3L672.0,219.2L672.4,220.7L672.7,214.3L673.1,223.9L673.4,220.9L673.8,220.8L674.1,222.9L674.5,226.6L674.8,223.0L675.2,217.4L675.5,228.1L675.9,221.2L676.2,220.7L676.6,216.2L676.9,225.0L677.3,219.0L677.6,219.9L678.0,224.9L678.3,223.3L678.7,226.1L679.0,222.4L679.4,219.8L679.7,218.4L680.1,217.8L680.4,224.2L680.8,221.6L681.1,219.1L681.5,224.7L681.8,221.4L682.2,217.9L682.5,213.7" fill="none" stroke="#ca0000" stroke-width="1.1" stroke-linejoin="round"/>
</g>
<g clip-path="url(#cc)">
<path d="M42.8,387.0L43.3,387.0L43.8,387.1L44.3,387.1L44.8,387.1L45.3,387.1L45.8,387.2L46.3,387.2L46.8,387.2L47.3,387.2L47.8,387.2L48.3,387.3L48.8,387.3L49.3,387.3L49.8,387.3L50.3,387.3L50.8,387.4L51.3,387.4L51.8,387.4L52.3,387.4L52.8,387.4L53.3,387.4L53.8,387.4L54.3,387.4L54.8,387.5L55.3,387.5L55.8,387.5L56.3,387.5L56.8,387.5L57.3,387.5L57.8,387.5L58.3,387.5L58.8,387.5L59.3,387.5L59.8,387.5L60.3,387.5L60.8,387.5L61.3,387.5L61.8,387.5L62.3,387.5L62.8,387.5L63.3,387.5L63.8,387.5L64.3,387.5L64.8,387.5L65.3,387.5L65.8,387.5L66.3,387.4L66.8,387.4L67.3,387.4L67.8,387.4L68.3,387.4L68.8,387.4L69.3,387.4L69.8,387.4L70.3,387.4L70.8,387.3L71.3,387.3L71.8,387.3L72.3,387.3L72.8,387.3L73.3,387.3L73.8,387.3L74.3,387.2L74.8,387.2L75.3,387.2L75.8,387.2L76.3,387.2L76.8,387.1L77.3,387.1L77.8,387.1L78.3,387.1L78.8,387.1L79.3,387.0L79.8,387.0L80.3,387.0L80.8,386.9L81.3,386.9L81.8,386.9L82.3,386.8L82.8,386.7L83.3,386.7L83.8,386.6L84.3,386.5L84.8,386.4L85.3,386.3L85.8,386.2L86.3,386.1L86.8,386.0L87.3,385.9L87.8,385.9L88.3,385.8L88.8,385.7L89.3,385.6L89.8,385.5L90.3,385.5L90.8,385.4L91.3,385.3L91.8,385.2L92.3,385.1L92.8,385.0L93.3,385.0L93.8,384.9L94.3,384.8L94.8,384.7L95.3,384.6L95.8,384.5L96.3,384.4L96.8,384.4L97.3,384.3L97.8,384.2L98.3,384.2L98.8,384.1L99.3,384.1L99.8,384.0L100.3,384.0L100.8,384.0L101.3,384.0L101.8,384.0L102.3,384.1L102.8,384.3L103.3,384.5L103.8,384.8L104.3,385.2L104.8,385.5L105.3,385.9L105.8,386.4L106.3,386.8L106.8,387.3L107.3,387.8L107.8,388.3L108.3,388.8L108.8,389.3L109.3,389.8L109.8,390.2L110.3,390.7L110.8,391.1L111.3,391.6L111.8,392.1L112.3,392.7L112.8,393.2L113.3,393.8L113.8,394.3L114.3,394.9L114.8,395.5L115.3,396.1L115.8,396.6L116.3,397.2L116.8,397.8L117.3,398.3L117.8,398.9L118.3,399.5L118.8,400.1L119.3,400.7L119.8,401.2L120.3,401.8L120.8,402.4L121.3,403.0L121.8,403.6L122.3,404.2L122.8,404.7L123.3,405.2L123.8,405.7L124.3,406.2L124.8,406.7L125.3,407.1L125.8,407.6L126.3,408.0L126.8,408.5L127.3,409.0L127.8,409.4L128.3,409.8L128.8,410.3L129.3,410.7L129.8,411.1L130.3,411.5L130.8,411.9L131.3,412.3L131.8,412.7L132.3,413.0L132.8,413.4L133.3,413.7L133.8,414.0L134.3,414.3L134.8,414.6L135.3,414.8L135.8,415.1L136.3,415.3L136.8,415.5L137.3,415.7L137.8,415.9L138.3,416.1L138.8,416.2L139.3,416.4L139.8,416.5L140.3,416.7L140.8,416.8L141.3,417.0L141.8,417.1L142.3,417.2L142.8,417.4L143.3,417.5L143.8,417.6L144.3,417.7L144.8,417.8L145.3,417.9L145.8,418.1L146.3,418.2L146.8,418.3L147.3,418.4L147.8,418.5L148.3,418.6L148.8,418.7L149.3,418.7L149.8,418.8L150.3,418.9L150.8,419.0L151.3,419.1L151.8,419.2L152.3,419.3L152.8,419.4L153.3,419.5L153.8,419.5L154.3,419.6L154.8,419.7L155.3,419.8L155.8,419.9L156.3,419.9L156.8,420.0L157.3,420.1L157.8,420.1L158.3,420.2L158.8,420.3L159.3,420.4L159.8,420.4L160.3,420.5L160.8,420.6L161.3,420.6L161.8,420.7L162.3,420.8L162.8,420.8L163.3,420.9L163.8,421.0L164.3,421.0L164.8,421.1L165.3,421.1L165.8,421.2L166.3,421.3L166.8,421.3L167.3,421.4L167.8,421.4L168.3,421.5L168.8,421.5L169.3,421.6L169.8,421.7L170.3,421.7L170.8,421.8L171.3,421.8L171.8,421.9L172.3,422.0L172.8,422.0L173.3,422.1L173.8,422.2L174.3,422.2L174.8,422.3L175.3,422.3L175.8,422.4L176.3,422.5L176.8,422.5L177.3,422.6L177.8,422.6L178.3,422.7L178.8,422.8L179.3,422.8L179.8,422.9L180.3,422.9L180.8,423.0L181.3,423.0L181.8,423.1L182.3,423.1L182.8,423.1L183.3,423.2L183.8,423.2L184.3,423.3L184.8,423.3L185.3,423.3L185.8,423.4L186.3,423.4L186.8,423.4L187.3,423.4L187.8,423.5L188.3,423.5L188.8,423.5L189.3,423.5L189.8,423.5L190.3,423.5L190.8,423.5L191.3,423.5L191.8,423.5L192.3,423.5L192.8,423.5L193.3,423.5L193.8,423.5L194.3,423.5L194.8,423.5L195.3,423.4L195.8,423.4L196.3,423.4L196.8,423.4L197.3,423.4L197.8,423.4L198.3,423.3L198.8,423.3L199.3,423.3L199.8,423.3L200.3,423.2L200.8,423.2L201.3,423.2L201.8,423.0L202.3,422.8L202.8,422.5L203.3,422.2L203.8,421.8L204.3,421.4L204.8,421.0L205.3,420.6L205.8,420.2L206.3,419.7L206.8,419.3L207.3,418.7L207.8,418.2L208.3,417.6L208.8,417.0L209.3,416.4L209.8,415.8L210.3,415.2L210.8,414.7L211.3,414.1L211.8,413.5L212.3,412.9L212.8,412.3L213.3,411.8L213.8,411.3L214.3,410.9L214.8,410.6L215.3,410.3L215.8,410.0L216.3,409.7L216.8,409.5L217.3,409.3L217.8,409.1L218.3,409.0L218.8,409.0L219.3,409.1L219.8,409.2L220.3,409.4L220.8,409.7L221.3,410.1L221.8,410.4L222.3,410.8L222.8,411.3L223.3,412.0L223.8,412.9L224.3,414.0L224.8,415.1L225.3,416.3L225.8,417.5L226.3,418.7L226.8,420.0L227.3,421.3L227.8,422.7L228.3,424.1L228.8,425.5L229.3,426.8L229.8,428.1L230.3,429.4L230.8,430.7L231.3,432.0L231.8,433.4L232.3,434.9L232.8,436.5L233.3,438.2L233.8,439.9L234.3,441.6L234.8,443.3L235.3,445.0L235.8,446.8L236.3,448.6L236.8,450.5L237.3,452.2L237.8,453.9L238.3,455.4L238.8,456.8L239.3,458.1L239.8,459.3L240.3,460.5L240.8,461.6L241.3,462.7L241.8,463.6L242.3,464.5L242.8,465.4L243.3,466.2L243.8,466.9L244.3,467.7L244.8,468.4L245.3,469.0L245.8,469.7L246.3,470.4L246.8,471.1L247.3,471.8L247.8,472.5L248.3,473.1L248.8,473.7L249.3,474.3L249.8,474.8L250.3,475.3L250.8,475.7L251.3,476.1L251.8,476.4L252.3,476.8L252.8,477.1L253.3,477.4L253.8,477.7L254.3,477.9L254.8,478.2L255.3,478.4L255.8,478.6L256.3,478.9L256.8,479.1L257.3,479.3L257.8,479.5L258.3,479.7L258.8,479.9L259.3,480.0L259.8,480.2L260.3,480.3L260.8,480.5L261.3,480.6L261.8,480.7L262.3,480.8L262.8,480.9L263.3,481.0L263.8,481.1L264.3,481.2L264.8,481.3L265.3,481.4L265.8,481.5L266.3,481.6L266.8,481.7L267.3,481.8L267.8,481.8L268.3,481.9L268.8,481.9L269.3,482.0L269.8,482.0L270.3,482.0L270.8,482.0L271.3,482.0L271.8,482.1L272.3,482.1L272.8,482.1L273.3,482.1L273.8,482.1L274.3,482.1L274.8,482.1L275.3,482.2L275.8,482.2L276.3,482.2L276.8,482.2L277.3,482.2L277.8,482.2L278.3,482.2L278.8,482.3L279.3,482.3L279.8,482.3L280.3,482.3L280.8,482.3L281.3,482.3L281.8,482.3L282.3,482.3L282.8,482.4L283.3,482.4L283.8,482.4L284.3,482.4L284.8,482.4L285.3,482.4L285.8,482.4L286.3,482.4L286.8,482.4L287.3,482.5L287.8,482.5L288.3,482.5L288.8,482.5L289.3,482.5L289.8,482.5L290.3,482.5L290.8,482.5L291.3,482.5L291.8,482.5L292.3,482.5L292.8,482.6L293.3,482.6L293.8,482.6L294.3,482.6L294.8,482.6L295.3,482.6L295.8,482.6L296.3,482.6L296.8,482.6L297.3,482.6L297.8,482.6L298.3,482.6L298.8,482.6L299.3,482.6L299.8,482.7L300.3,482.7L300.8,482.7L301.3,482.7L301.8,482.7L302.3,482.7L302.8,482.7L303.3,482.7L303.8,482.7L304.3,482.7L304.8,482.7L305.3,482.7L305.8,482.7L306.3,482.7L306.8,482.7L307.3,482.7L307.8,482.7L308.3,482.7L308.8,482.7L309.3,482.7L309.8,482.7L310.3,482.8L310.8,482.8L311.3,482.8L311.8,482.8L312.3,482.8L312.8,482.8L313.3,482.8L313.8,482.8L314.3,482.8L314.8,482.8L315.3,482.8L315.8,482.8L316.3,482.8L316.8,482.8L317.3,482.8L317.8,482.8L318.3,482.8L318.8,482.8L319.3,482.8L319.8,482.8L320.3,482.8L320.8,482.8L321.3,482.8L321.8,482.8L322.3,482.8L322.8,482.8L323.3,482.8L323.8,482.8L324.3,482.8L324.8,482.8L325.3,482.8" fill="none" stroke="#b060c8" stroke-width="1.1" stroke-linejoin="round"/>
<path d="M42.8,386.5L43.3,386.6L43.8,386.6L44.3,386.7L44.8,386.7L45.3,386.8L45.8,386.8L46.3,386.9L46.8,386.9L47.3,387.0L47.8,387.0L48.3,387.1L48.8,387.1L49.3,387.2L49.8,387.2L50.3,387.3L50.8,387.3L51.3,387.3L51.8,387.4L52.3,387.4L52.8,387.5L53.3,387.5L53.8,387.5L54.3,387.6L54.8,387.6L55.3,387.7L55.8,387.7L56.3,387.7L56.8,387.8L57.3,387.8L57.8,387.9L58.3,387.9L58.8,387.9L59.3,388.0L59.8,388.0L60.3,388.0L60.8,388.1L61.3,388.1L61.8,388.1L62.3,388.2L62.8,388.2L63.3,388.2L63.8,388.3L64.3,388.3L64.8,388.3L65.3,388.4L65.8,388.4L66.3,388.4L66.8,388.5L67.3,388.5L67.8,388.5L68.3,388.6L68.8,388.6L69.3,388.6L69.8,388.6L70.3,388.7L70.8,388.7L71.3,388.7L71.8,388.8L72.3,388.8L72.8,388.8L73.3,388.8L73.8,388.9L74.3,388.9L74.8,388.9L75.3,388.9L75.8,388.9L76.3,388.9L76.8,389.0L77.3,389.0L77.8,389.0L78.3,389.0L78.8,389.0L79.3,389.0L79.8,389.0L80.3,389.0L80.8,389.0L81.3,389.0L81.8,389.0L82.3,388.9L82.8,388.9L83.3,388.9L83.8,388.9L84.3,388.8L84.8,388.8L85.3,388.8L85.8,388.7L86.3,388.7L86.8,388.6L87.3,388.6L87.8,388.5L88.3,388.5L88.8,388.4L89.3,388.4L89.8,388.3L90.3,388.3L90.8,388.2L91.3,388.2L91.8,388.1L92.3,388.0L92.8,387.9L93.3,387.9L93.8,387.8L94.3,387.7L94.8,387.6L95.3,387.5L95.8,387.4L96.3,387.3L96.8,387.2L97.3,387.1L97.8,387.0L98.3,386.8L98.8,386.7L99.3,386.6L99.8,386.4L100.3,386.3L100.8,386.1L101.3,386.0L101.8,385.8L102.3,385.6L102.8,385.4L103.3,385.1L103.8,384.9L104.3,384.6L104.8,384.3L105.3,384.0L105.8,383.7L106.3,383.4L106.8,383.1L107.3,382.8L107.8,382.6L108.3,382.4L108.8,382.1L109.3,381.9L109.8,381.6L110.3,381.3L110.8,381.1L111.3,380.8L111.8,380.6L112.3,380.4L112.8,380.2L113.3,380.1L113.8,380.0L114.3,379.9L114.8,379.9L115.3,379.9L115.8,380.0L116.3,380.1L116.8,380.2L117.3,380.4L117.8,380.6L118.3,380.7L118.8,381.0L119.3,381.2L119.8,381.4L120.3,381.7L120.8,382.0L121.3,382.5L121.8,383.0L122.3,383.6L122.8,384.3L123.3,385.0L123.8,385.7L124.3,386.5L124.8,387.2L125.3,388.0L125.8,388.7L126.3,389.4L126.8,390.2L127.3,391.0L127.8,391.9L128.3,392.7L128.8,393.6L129.3,394.5L129.8,395.4L130.3,396.2L130.8,397.1L131.3,397.9L131.8,398.7L132.3,399.4L132.8,400.2L133.3,400.9L133.8,401.7L134.3,402.4L134.8,403.2L135.3,403.9L135.8,404.6L136.3,405.3L136.8,405.9L137.3,406.6L137.8,407.2L138.3,407.7L138.8,408.3L139.3,408.8L139.8,409.3L140.3,409.8L140.8,410.2L141.3,410.7L141.8,411.1L142.3,411.5L142.8,411.9L143.3,412.3L143.8,412.7L144.3,413.1L144.8,413.4L145.3,413.7L145.8,414.1L146.3,414.4L146.8,414.7L147.3,415.0L147.8,415.3L148.3,415.5L148.8,415.8L149.3,416.1L149.8,416.3L150.3,416.6L150.8,416.8L151.3,417.0L151.8,417.2L152.3,417.4L152.8,417.6L153.3,417.8L153.8,418.0L154.3,418.2L154.8,418.3L155.3,418.5L155.8,418.6L156.3,418.8L156.8,418.9L157.3,419.1L157.8,419.2L158.3,419.3L158.8,419.5L159.3,419.6L159.8,419.7L160.3,419.8L160.8,420.0L161.3,420.1L161.8,420.2L162.3,420.3L162.8,420.4L163.3,420.5L163.8,420.6L164.3,420.7L164.8,420.8L165.3,420.9L165.8,421.0L166.3,421.1L166.8,421.2L167.3,421.3L167.8,421.4L168.3,421.5L168.8,421.6L169.3,421.7L169.8,421.8L170.3,421.8L170.8,421.9L171.3,422.0L171.8,422.1L172.3,422.2L172.8,422.3L173.3,422.4L173.8,422.5L174.3,422.6L174.8,422.7L175.3,422.8L175.8,422.9L176.3,423.0L176.8,423.1L177.3,423.1L177.8,423.2L178.3,423.3L178.8,423.4L179.3,423.5L179.8,423.6L180.3,423.6L180.8,423.7L181.3,423.8L181.8,423.9L182.3,423.9L182.8,424.0L183.3,424.0L183.8,424.1L184.3,424.2L184.8,424.2L185.3,424.3L185.8,424.3L186.3,424.3L186.8,424.4L187.3,424.4L187.8,424.4L188.3,424.5L188.8,424.5L189.3,424.5L189.8,424.5L190.3,424.5L190.8,424.5L191.3,424.5L191.8,424.5L192.3,424.5L192.8,424.5L193.3,424.5L193.8,424.5L194.3,424.5L194.8,424.5L195.3,424.5L195.8,424.5L196.3,424.5L196.8,424.5L197.3,424.4L197.8,424.4L198.3,424.4L198.8,424.4L199.3,424.4L199.8,424.4L200.3,424.4L200.8,424.4L201.3,424.4L201.8,424.3L202.3,424.3L202.8,424.3L203.3,424.3L203.8,424.3L204.3,424.1L204.8,423.8L205.3,423.5L205.8,423.1L206.3,422.6L206.8,422.1L207.3,421.5L207.8,420.9L208.3,420.3L208.8,419.7L209.3,419.1L209.8,418.4L210.3,417.8L210.8,417.2L211.3,416.5L211.8,415.7L212.3,414.9L212.8,414.1L213.3,413.2L213.8,412.3L214.3,411.4L214.8,410.5L215.3,409.5L215.8,408.6L216.3,407.6L216.8,406.7L217.3,405.7L217.8,404.8L218.3,403.8L218.8,402.8L219.3,401.7L219.8,400.6L220.3,399.5L220.8,398.5L221.3,397.6L221.8,396.8L222.3,396.1L222.8,395.3L223.3,394.6L223.8,393.9L224.3,393.3L224.8,392.7L225.3,392.2L225.8,391.9L226.3,391.7L226.8,391.7L227.3,391.9L227.8,392.1L228.3,392.4L228.8,392.8L229.3,393.3L229.8,393.8L230.3,394.4L230.8,395.3L231.3,396.5L231.8,398.0L232.3,399.5L232.8,401.1L233.3,402.7L233.8,404.3L234.3,405.9L234.8,407.7L235.3,409.5L235.8,411.4L236.3,413.3L236.8,415.1L237.3,417.1L237.8,419.0L238.3,421.0L238.8,423.0L239.3,424.9L239.8,426.7L240.3,428.5L240.8,430.2L241.3,431.8L241.8,433.6L242.3,435.4L242.8,437.3L243.3,439.2L243.8,441.2L244.3,443.3L244.8,445.3L245.3,447.3L245.8,449.3L246.3,451.2L246.8,452.9L247.3,454.7L247.8,456.4L248.3,458.1L248.8,459.8L249.3,461.4L249.8,462.9L250.3,464.3L250.8,465.5L251.3,466.7L251.8,467.7L252.3,468.7L252.8,469.7L253.3,470.6L253.8,471.4L254.3,472.2L254.8,473.0L255.3,473.6L255.8,474.2L256.3,474.8L256.8,475.4L257.3,475.9L257.8,476.5L258.3,476.9L258.8,477.4L259.3,477.8L259.8,478.2L260.3,478.6L260.8,478.9L261.3,479.2L261.8,479.4L262.3,479.7L262.8,479.9L263.3,480.2L263.8,480.4L264.3,480.6L264.8,480.7L265.3,480.9L265.8,481.0L266.3,481.1L266.8,481.2L267.3,481.3L267.8,481.4L268.3,481.4L268.8,481.5L269.3,481.6L269.8,481.7L270.3,481.7L270.8,481.8L271.3,481.9L271.8,481.9L272.3,482.0L272.8,482.0L273.3,482.1L273.8,482.1L274.3,482.2L274.8,482.2L275.3,482.3L275.8,482.3L276.3,482.3L276.8,482.4L277.3,482.4L277.8,482.4L278.3,482.5L278.8,482.5L279.3,482.5L279.8,482.5L280.3,482.5L280.8,482.5L281.3,482.5L281.8,482.5L282.3,482.5L282.8,482.5L283.3,482.5L283.8,482.6L284.3,482.6L284.8,482.6L285.3,482.6L285.8,482.6L286.3,482.6L286.8,482.6L287.3,482.6L287.8,482.6L288.3,482.6L288.8,482.6L289.3,482.6L289.8,482.6L290.3,482.6L290.8,482.6L291.3,482.6L291.8,482.6L292.3,482.6L292.8,482.7L293.3,482.7L293.8,482.7L294.3,482.7L294.8,482.7L295.3,482.7L295.8,482.7L296.3,482.7L296.8,482.7L297.3,482.7L297.8,482.7L298.3,482.7L298.8,482.7L299.3,482.7L299.8,482.7L300.3,482.7L300.8,482.7L301.3,482.7L301.8,482.7L302.3,482.7L302.8,482.7L303.3,482.7L303.8,482.7L304.3,482.7L304.8,482.7L305.3,482.7L305.8,482.7L306.3,482.8L306.8,482.8L307.3,482.8L307.8,482.8L308.3,482.8L308.8,482.8L309.3,482.8L309.8,482.8L310.3,482.8L310.8,482.8L311.3,482.8L311.8,482.8L312.3,482.8L312.8,482.8L313.3,482.8L313.8,482.8L314.3,482.8L314.8,482.8L315.3,482.8L315.8,482.8L316.3,482.8L316.8,482.8L317.3,482.8L317.8,482.8L318.3,482.8L318.8,482.8L319.3,482.8L319.8,482.8L320.3,482.8L320.8,482.8L321.3,482.8L321.8,482.8L322.3,482.8L322.8,482.8L323.3,482.8L323.8,482.8L324.3,482.8L324.8,482.8L325.3,482.8" fill="none" stroke="#3cb44a" stroke-width="1.2" stroke-linejoin="round"/>
<path d="M42.8,386.0L43.3,386.1L43.8,386.1L44.3,386.2L44.8,386.2L45.3,386.3L45.8,386.3L46.3,386.3L46.8,386.4L47.3,386.4L47.8,386.5L48.3,386.5L48.8,386.5L49.3,386.6L49.8,386.6L50.3,386.7L50.8,386.7L51.3,386.7L51.8,386.7L52.3,386.8L52.8,386.8L53.3,386.8L53.8,386.9L54.3,386.9L54.8,386.9L55.3,386.9L55.8,386.9L56.3,386.9L56.8,387.0L57.3,387.0L57.8,387.0L58.3,387.0L58.8,387.0L59.3,387.0L59.8,387.0L60.3,387.0L60.8,387.0L61.3,387.0L61.8,387.0L62.3,387.0L62.8,387.0L63.3,387.0L63.8,387.0L64.3,387.0L64.8,387.0L65.3,387.0L65.8,387.0L66.3,386.9L66.8,386.9L67.3,386.9L67.8,386.9L68.3,386.9L68.8,386.9L69.3,386.9L69.8,386.9L70.3,386.9L70.8,386.8L71.3,386.8L71.8,386.8L72.3,386.8L72.8,386.8L73.3,386.8L73.8,386.7L74.3,386.7L74.8,386.7L75.3,386.7L75.8,386.6L76.3,386.6L76.8,386.6L77.3,386.6L77.8,386.6L78.3,386.5L78.8,386.5L79.3,386.5L79.8,386.4L80.3,386.3L80.8,386.1L81.3,386.0L81.8,385.8L82.3,385.6L82.8,385.3L83.3,385.1L83.8,384.8L84.3,384.5L84.8,384.2L85.3,383.9L85.8,383.6L86.3,383.3L86.8,383.0L87.3,382.7L87.8,382.4L88.3,382.0L88.8,381.7L89.3,381.4L89.8,381.1L90.3,380.8L90.8,380.5L91.3,380.2L91.8,379.9L92.3,379.5L92.8,379.2L93.3,378.8L93.8,378.5L94.3,378.1L94.8,377.7L95.3,377.4L95.8,377.0L96.3,376.6L96.8,376.2L97.3,375.9L97.8,375.5L98.3,375.1L98.8,374.8L99.3,374.5L99.8,374.1L100.3,373.8L100.8,373.5L101.3,373.1L101.8,372.8L102.3,372.5L102.8,372.1L103.3,371.8L103.8,371.5L104.3,371.3L104.8,371.1L105.3,370.9L105.8,370.7L106.3,370.5L106.8,370.4L107.3,370.2L107.8,370.0L108.3,369.9L108.8,369.8L109.3,369.7L109.8,369.6L110.3,369.6L110.8,369.6L111.3,369.7L111.8,369.8L112.3,369.9L112.8,370.0L113.3,370.2L113.8,370.4L114.3,370.6L114.8,371.0L115.3,371.4L115.8,371.8L116.3,372.3L116.8,372.9L117.3,373.5L117.8,374.2L118.3,374.9L118.8,375.8L119.3,376.8L119.8,377.7L120.3,378.7L120.8,379.6L121.3,380.5L121.8,381.4L122.3,382.4L122.8,383.3L123.3,384.2L123.8,385.2L124.3,386.1L124.8,387.0L125.3,387.9L125.8,388.9L126.3,389.8L126.8,390.6L127.3,391.5L127.8,392.4L128.3,393.3L128.8,394.1L129.3,395.0L129.8,395.8L130.3,396.7L130.8,397.5L131.3,398.3L131.8,399.1L132.3,399.9L132.8,400.7L133.3,401.5L133.8,402.2L134.3,403.0L134.8,403.8L135.3,404.6L135.8,405.3L136.3,406.0L136.8,406.7L137.3,407.4L137.8,408.0L138.3,408.6L138.8,409.1L139.3,409.5L139.8,409.9L140.3,410.2L140.8,410.6L141.3,410.9L141.8,411.3L142.3,411.6L142.8,411.9L143.3,412.2L143.8,412.5L144.3,412.8L144.8,413.0L145.3,413.3L145.8,413.5L146.3,413.8L146.8,414.0L147.3,414.2L147.8,414.5L148.3,414.7L148.8,414.9L149.3,415.1L149.8,415.3L150.3,415.5L150.8,415.7L151.3,415.8L151.8,416.0L152.3,416.2L152.8,416.4L153.3,416.5L153.8,416.7L154.3,416.9L154.8,417.0L155.3,417.2L155.8,417.3L156.3,417.5L156.8,417.6L157.3,417.8L157.8,417.9L158.3,418.1L158.8,418.2L159.3,418.4L159.8,418.5L160.3,418.7L160.8,418.8L161.3,418.9L161.8,419.1L162.3,419.2L162.8,419.3L163.3,419.5L163.8,419.6L164.3,419.7L164.8,419.8L165.3,419.9L165.8,420.1L166.3,420.2L166.8,420.3L167.3,420.4L167.8,420.5L168.3,420.6L168.8,420.7L169.3,420.8L169.8,420.9L170.3,421.0L170.8,421.1L171.3,421.2L171.8,421.2L172.3,421.3L172.8,421.4L173.3,421.5L173.8,421.6L174.3,421.6L174.8,421.7L175.3,421.8L175.8,421.8L176.3,421.9L176.8,421.9L177.3,422.0L177.8,422.0L178.3,422.1L178.8,422.1L179.3,422.2L179.8,422.2L180.3,422.3L180.8,422.3L181.3,422.4L181.8,422.4L182.3,422.4L182.8,422.5L183.3,422.5L183.8,422.5L184.3,422.6L184.8,422.6" fill="none" stroke="#000" stroke-width="1.2" stroke-linejoin="round"/>
<path d="M165.0,421.2L165.5,421.2L166.0,421.3L166.5,421.3L167.0,421.3L167.5,421.3L168.0,421.4L168.5,421.4L169.0,421.4L169.5,421.5L170.0,421.5L170.5,421.5L171.0,421.6L171.5,421.6L172.0,421.6L172.5,421.7L173.0,421.7L173.5,421.7L174.0,421.8L174.5,421.8L175.0,421.8L175.5,421.9L176.0,421.9L176.5,421.9L177.0,422.0L177.5,422.0L178.0,422.1L178.5,422.1L179.0,422.1L179.5,422.2L180.0,422.2L180.5,422.3L181.0,422.3L181.5,422.3L182.0,422.4L182.5,422.4L183.0,422.5L183.5,422.6L184.0,422.6L184.5,422.7L185.0,422.8L185.5,422.8L186.0,422.9L186.5,422.9L187.0,423.0L187.5,423.1L188.0,423.1L188.5,423.1L189.0,423.2L189.5,423.2L190.0,423.2L190.5,423.2L191.0,423.2L191.5,423.2L192.0,423.2L192.5,423.1L193.0,423.1L193.5,423.1L194.0,423.1L194.5,423.0L195.0,423.0L195.5,423.0L196.0,423.0L196.5,422.9L197.0,422.9L197.5,422.9L198.0,422.9L198.5,422.8L199.0,422.8L199.5,422.7L200.0,422.6L200.5,422.4L201.0,422.1L201.5,421.8L202.0,421.5L202.5,421.1L203.0,420.8L203.5,420.4L204.0,420.1L204.5,419.6L205.0,419.2L205.5,418.7L206.0,418.2L206.5,417.6L207.0,417.0L207.5,416.4L208.0,415.7L208.5,414.9L209.0,414.0L209.5,413.1L210.0,412.0L210.5,410.6L211.0,408.9L211.5,407.0L212.0,405.0L212.5,403.0L213.0,401.0L213.5,398.9L214.0,396.7L214.5,394.6L215.0,392.6L215.5,391.0L216.0,389.6L216.5,388.2L217.0,386.9L217.5,385.6L218.0,384.5L218.5,383.4L219.0,382.5L219.5,381.8L220.0,381.1L220.5,380.6L221.0,380.0L221.5,379.6L222.0,379.2L222.5,378.8L223.0,378.5L223.5,378.2L224.0,378.0L224.5,377.7L225.0,377.5L225.5,377.4L226.0,377.4L226.5,377.5L227.0,377.7L227.5,377.9L228.0,378.2L228.5,378.5L229.0,379.0L229.5,379.8L230.0,380.8L230.5,381.9L231.0,383.0L231.5,384.2L232.0,385.5L232.5,387.0L233.0,388.6L233.5,390.3L234.0,392.0L234.5,393.9L235.0,396.0L235.5,398.3L236.0,400.6L236.5,402.8L237.0,405.0L237.5,407.1L238.0,409.1L238.5,411.0L239.0,413.0L239.5,415.1L240.0,417.2L240.5,419.4L241.0,421.7L241.5,424.0L242.0,426.4L242.5,428.8L243.0,431.2L243.5,433.6L244.0,436.0L244.5,438.4L245.0,440.9L245.5,443.4L246.0,445.9L246.5,448.4L247.0,450.7L247.5,453.0L248.0,455.0L248.5,456.9L249.0,458.8L249.5,460.6L250.0,462.4L250.5,464.0L251.0,465.5L251.5,466.8L252.0,468.0L252.5,469.0L253.0,470.0L253.5,471.0L254.0,471.9L254.5,472.7L255.0,473.5L255.5,474.2L256.0,474.9L256.5,475.5L257.0,476.1L257.5,476.6L258.0,477.0L258.5,477.4L259.0,477.7L259.5,478.1L260.0,478.4L260.5,478.7L261.0,479.0L261.5,479.3L262.0,479.6L262.5,479.8L263.0,480.1L263.5,480.3L264.0,480.5L264.5,480.6L265.0,480.8L265.5,480.9L266.0,481.0L266.5,481.1L267.0,481.2L267.5,481.3L268.0,481.4L268.5,481.4L269.0,481.5L269.5,481.6L270.0,481.7L270.5,481.7L271.0,481.8L271.5,481.9L272.0,481.9L272.5,482.0L273.0,482.1L273.5,482.1L274.0,482.2L274.5,482.2L275.0,482.2L275.5,482.3L276.0,482.3L276.5,482.4L277.0,482.4L277.5,482.4L278.0,482.4L278.5,482.5L279.0,482.5L279.5,482.5L280.0,482.5L280.5,482.5L281.0,482.5L281.5,482.5L282.0,482.5L282.5,482.5L283.0,482.5L283.5,482.5L284.0,482.6L284.5,482.6L285.0,482.6L285.5,482.6L286.0,482.6L286.5,482.6L287.0,482.6L287.5,482.6L288.0,482.6L288.5,482.6L289.0,482.6L289.5,482.6L290.0,482.6L290.5,482.6L291.0,482.6L291.5,482.6L292.0,482.6L292.5,482.7L293.0,482.7L293.5,482.7L294.0,482.7L294.5,482.7L295.0,482.7L295.5,482.7L296.0,482.7L296.5,482.7L297.0,482.7L297.5,482.7L298.0,482.7L298.5,482.7L299.0,482.7L299.5,482.7L300.0,482.7L300.5,482.7L301.0,482.7L301.5,482.7L302.0,482.7L302.5,482.7L303.0,482.7L303.5,482.7L304.0,482.7L304.5,482.7L305.0,482.7L305.5,482.7L306.0,482.8L306.5,482.8L307.0,482.8L307.5,482.8L308.0,482.8L308.5,482.8L309.0,482.8L309.5,482.8L310.0,482.8L310.5,482.8L311.0,482.8L311.5,482.8L312.0,482.8L312.5,482.8L313.0,482.8L313.5,482.8L314.0,482.8L314.5,482.8L315.0,482.8L315.5,482.8L316.0,482.8L316.5,482.8L317.0,482.8L317.5,482.8L318.0,482.8L318.5,482.8L319.0,482.8L319.5,482.8L320.0,482.8L320.5,482.8L321.0,482.8L321.5,482.8L322.0,482.8L322.5,482.8L323.0,482.8L323.5,482.8L324.0,482.8L324.5,482.8L325.0,482.8L325.5,482.8" fill="none" stroke="#1a1a9e" stroke-width="1.5" stroke-linejoin="round"/>
<path d="M42.8,387.0L43.3,387.1L43.8,387.1L44.3,387.2L44.8,387.2L45.3,387.3L45.8,387.3L46.3,387.3L46.8,387.4L47.3,387.4L47.8,387.5L48.3,387.5L48.8,387.6L49.3,387.6L49.8,387.6L50.3,387.7L50.8,387.7L51.3,387.8L51.8,387.8L52.3,387.9L52.8,387.9L53.3,387.9L53.8,388.0L54.3,388.0L54.8,388.1L55.3,388.1L55.8,388.2L56.3,388.2L56.8,388.2L57.3,388.3L57.8,388.3L58.3,388.4L58.8,388.4L59.3,388.4L59.8,388.5L60.3,388.5L60.8,388.6L61.3,388.6L61.8,388.6L62.3,388.7L62.8,388.7L63.3,388.7L63.8,388.8L64.3,388.8L64.8,388.8L65.3,388.9L65.8,388.9L66.3,388.9L66.8,388.9L67.3,389.0L67.8,389.0L68.3,389.0L68.8,389.0L69.3,389.1L69.8,389.1L70.3,389.1L70.8,389.2L71.3,389.2L71.8,389.2L72.3,389.3L72.8,389.3L73.3,389.3L73.8,389.4L74.3,389.4L74.8,389.4L75.3,389.5L75.8,389.5L76.3,389.6L76.8,389.6L77.3,389.7L77.8,389.7L78.3,389.8L78.8,389.8L79.3,389.9L79.8,390.0L80.3,390.0L80.8,390.1L81.3,390.2L81.8,390.4L82.3,390.5L82.8,390.6L83.3,390.8L83.8,391.0L84.3,391.1L84.8,391.3L85.3,391.5L85.8,391.7L86.3,391.9L86.8,392.1L87.3,392.3L87.8,392.6L88.3,392.8L88.8,393.0L89.3,393.2L89.8,393.4L90.3,393.6L90.8,393.9L91.3,394.1L91.8,394.3L92.3,394.6L92.8,394.9L93.3,395.1L93.8,395.4L94.3,395.7L94.8,396.0L95.3,396.3L95.8,396.6L96.3,396.8L96.8,397.1L97.3,397.4L97.8,397.7L98.3,397.9L98.8,398.2L99.3,398.4L99.8,398.7L100.3,398.9L100.8,399.1L101.3,399.3L101.8,399.5L102.3,399.6L102.8,399.8L103.3,399.9L103.8,400.1L104.3,400.2L104.8,400.3L105.3,400.4L105.8,400.6L106.3,400.7L106.8,400.8L107.3,400.9L107.8,401.1L108.3,401.2L108.8,401.4L109.3,401.5L109.8,401.7L110.3,401.9L110.8,402.1L111.3,402.4L111.8,402.6L112.3,402.9L112.8,403.1L113.3,403.4L113.8,403.7L114.3,404.0L114.8,404.3L115.3,404.7L115.8,405.0L116.3,405.3L116.8,405.7L117.3,406.0L117.8,406.4L118.3,406.7L118.8,407.1L119.3,407.4L119.8,407.8L120.3,408.1L120.8,408.5L121.3,408.8L121.8,409.2L122.3,409.5L122.8,409.8L123.3,410.1L123.8,410.4L124.3,410.7L124.8,411.0L125.3,411.3L125.8,411.6L126.3,411.9L126.8,412.2L127.3,412.5L127.8,412.8L128.3,413.1L128.8,413.4L129.3,413.7L129.8,414.0L130.3,414.3L130.8,414.6L131.3,414.9L131.8,415.1L132.3,415.4L132.8,415.6L133.3,415.9L133.8,416.1L134.3,416.3L134.8,416.5L135.3,416.7L135.8,416.9L136.3,417.0L136.8,417.1L137.3,417.3L137.8,417.4L138.3,417.5L138.8,417.6L139.3,417.7L139.8,417.8L140.3,417.9L140.8,418.0L141.3,418.1L141.8,418.2L142.3,418.2L142.8,418.3L143.3,418.4L143.8,418.5L144.3,418.6L144.8,418.6L145.3,418.7L145.8,418.8L146.3,418.9L146.8,418.9L147.3,419.0L147.8,419.1L148.3,419.2L148.8,419.3L149.3,419.3L149.8,419.4L150.3,419.5L150.8,419.6L151.3,419.6L151.8,419.7L152.3,419.8L152.8,419.8L153.3,419.9L153.8,420.0L154.3,420.0L154.8,420.1L155.3,420.2L155.8,420.3L156.3,420.3L156.8,420.4L157.3,420.5L157.8,420.5L158.3,420.6L158.8,420.6L159.3,420.7L159.8,420.8L160.3,420.8L160.8,420.9L161.3,421.0L161.8,421.0L162.3,421.1L162.8,421.1L163.3,421.2L163.8,421.3L164.3,421.3L164.8,421.4L165.3,421.4L165.8,421.5L166.3,421.6L166.8,421.6L167.3,421.7L167.8,421.7L168.3,421.8L168.8,421.8L169.3,421.9L169.8,422.0L170.3,422.0L170.8,422.1L171.3,422.1L171.8,422.2L172.3,422.2L172.8,422.3L173.3,422.3L173.8,422.4L174.3,422.4L174.8,422.5L175.3,422.5L175.8,422.6L176.3,422.6L176.8,422.7L177.3,422.7L177.8,422.8L178.3,422.8L178.8,422.8L179.3,422.9L179.8,422.9L180.3,423.0L180.8,423.0L181.3,423.1L181.8,423.1L182.3,423.2L182.8,423.2L183.3,423.3L183.8,423.3L184.3,423.4L184.8,423.4L185.3,423.5L185.8,423.5L186.3,423.6L186.8,423.6L187.3,423.7L187.8,423.7L188.3,423.8L188.8,423.8L189.3,423.9L189.8,423.9L190.3,424.0L190.8,424.1L191.3,424.1L191.8,424.2L192.3,424.2L192.8,424.3L193.3,424.3L193.8,424.4L194.3,424.4L194.8,424.5L195.3,424.5L195.8,424.6L196.3,424.6L196.8,424.7L197.3,424.8L197.8,424.8L198.3,424.9L198.8,425.0L199.3,425.0L199.8,425.1L200.3,425.2L200.8,425.3L201.3,425.4L201.8,425.5L202.3,425.6L202.8,425.7L203.3,425.8L203.8,426.0L204.3,426.1L204.8,426.3L205.3,426.5L205.8,426.7L206.3,427.0L206.8,427.2L207.3,427.5L207.8,427.7L208.3,428.0L208.8,428.3L209.3,428.6L209.8,428.9L210.3,429.2L210.8,429.6L211.3,430.0L211.8,430.5L212.3,431.0L212.8,431.5L213.3,432.0L213.8,432.6L214.3,433.2L214.8,433.8L215.3,434.4L215.8,435.0L216.3,435.6L216.8,436.3L217.3,437.0L217.8,437.8L218.3,438.5L218.8,439.2L219.3,440.0L219.8,440.7L220.3,441.4L220.8,442.2L221.3,442.9L221.8,443.6L222.3,444.4L222.8,445.1L223.3,445.9L223.8,446.6L224.3,447.4L224.8,448.1L225.3,448.9L225.8,449.6L226.3,450.4L226.8,451.2L227.3,451.9L227.8,452.7L228.3,453.5L228.8,454.2L229.3,455.0L229.8,455.8L230.3,456.7L230.8,457.5L231.3,458.3L231.8,459.2L232.3,460.1L232.8,460.9L233.3,461.8L233.8,462.6L234.3,463.4L234.8,464.3L235.3,465.1L235.8,465.8L236.3,466.6L236.8,467.3L237.3,468.0L237.8,468.6L238.3,469.2L238.8,469.8L239.3,470.4L239.8,471.0L240.3,471.6L240.8,472.2L241.3,472.8L241.8,473.3L242.3,473.9L242.8,474.4L243.3,474.9L243.8,475.3L244.3,475.8L244.8,476.2L245.3,476.6L245.8,477.0L246.3,477.3L246.8,477.6L247.3,477.8L247.8,478.1L248.3,478.4L248.8,478.6L249.3,478.9L249.8,479.1L250.3,479.3L250.8,479.6L251.3,479.8L251.8,480.0L252.3,480.2L252.8,480.4L253.3,480.6L253.8,480.8L254.3,481.0L254.8,481.1L255.3,481.3L255.8,481.4L256.3,481.6L256.8,481.7L257.3,481.8L257.8,481.8L258.3,481.9L258.8,482.0L259.3,482.0L259.8,482.0L260.3,482.1L260.8,482.1L261.3,482.1L261.8,482.2L262.3,482.2L262.8,482.2L263.3,482.2L263.8,482.2L264.3,482.3L264.8,482.3L265.3,482.3L265.8,482.3L266.3,482.3L266.8,482.4L267.3,482.4L267.8,482.4L268.3,482.4L268.8,482.4L269.3,482.4L269.8,482.4L270.3,482.5L270.8,482.5L271.3,482.5L271.8,482.5L272.3,482.5L272.8,482.5L273.3,482.5L273.8,482.5L274.3,482.5L274.8,482.5L275.3,482.5L275.8,482.5L276.3,482.5L276.8,482.5L277.3,482.5L277.8,482.5L278.3,482.6L278.8,482.6L279.3,482.6L279.8,482.6L280.3,482.6L280.8,482.6L281.3,482.6L281.8,482.6L282.3,482.6L282.8,482.6L283.3,482.6L283.8,482.6L284.3,482.6L284.8,482.6L285.3,482.6L285.8,482.6L286.3,482.6L286.8,482.6L287.3,482.6L287.8,482.6L288.3,482.6L288.8,482.6L289.3,482.7L289.8,482.7L290.3,482.7L290.8,482.7L291.3,482.7L291.8,482.7L292.3,482.7L292.8,482.7L293.3,482.7L293.8,482.7L294.3,482.7L294.8,482.7L295.3,482.7L295.8,482.7L296.3,482.7L296.8,482.7L297.3,482.7L297.8,482.7L298.3,482.7L298.8,482.7L299.3,482.7L299.8,482.7L300.3,482.7L300.8,482.7L301.3,482.7L301.8,482.7L302.3,482.7L302.8,482.7L303.3,482.7L303.8,482.7L304.3,482.7L304.8,482.8L305.3,482.8L305.8,482.8L306.3,482.8L306.8,482.8L307.3,482.8L307.8,482.8L308.3,482.8L308.8,482.8L309.3,482.8L309.8,482.8L310.3,482.8L310.8,482.8L311.3,482.8L311.8,482.8L312.3,482.8L312.8,482.8L313.3,482.8L313.8,482.8L314.3,482.8L314.8,482.8L315.3,482.8L315.8,482.8L316.3,482.8L316.8,482.8L317.3,482.8L317.8,482.8L318.3,482.8L318.8,482.8L319.3,482.8L319.8,482.8L320.3,482.8L320.8,482.8L321.3,482.8L321.8,482.8L322.3,482.8L322.8,482.8L323.3,482.8L323.8,482.8L324.3,482.8L324.8,482.8L325.3,482.8" fill="none" stroke="#9a5a1e" stroke-width="1.3" stroke-linejoin="round"/>
<path d="M42.8,395.3L43.6,387.4L44.4,387.2L45.2,378.6L46.0,388.1L46.8,386.8L47.6,386.7L48.4,390.9L49.2,391.8L50.0,387.1L50.8,388.5L51.6,389.6L52.4,392.7L53.2,392.6L54.0,386.6L54.8,386.0L55.6,392.4L56.4,395.2L57.2,390.1L58.0,387.4L58.8,394.4L59.6,390.6L60.4,392.7L61.2,393.8L62.0,389.6L62.8,386.2L63.6,386.7L64.4,382.3L65.2,384.9L66.0,384.6L66.8,387.0L67.6,387.1L68.4,388.3L69.2,388.0L70.0,389.0L70.8,388.3L71.6,389.3L72.4,392.7L73.2,382.1L74.0,392.2L74.8,388.1L75.6,384.8L76.4,388.4L77.2,389.1L78.0,392.2L78.8,385.3L79.6,387.3L80.4,387.1L81.2,381.1L82.0,382.9L82.8,386.4L83.6,389.4L84.4,390.4L85.2,387.9L86.0,386.5L86.8,385.2L87.6,387.1L88.4,378.9L89.2,381.3L90.0,382.6L90.8,375.8L91.6,385.4L92.4,378.2L93.2,379.6L94.0,385.5L94.8,375.4L95.6,374.7L96.4,380.1L97.2,370.2L98.0,372.9L98.8,375.6L99.6,374.3L100.4,375.6L101.2,375.2L102.0,377.2L102.8,374.5L103.6,373.3L104.4,367.5L105.2,365.4L106.0,360.5L106.8,369.2L107.6,361.1L108.4,371.8L109.2,375.5L110.0,365.6L110.8,367.5L111.6,368.2L112.4,372.3L113.2,367.9L114.0,372.0L114.8,371.2L115.6,373.8L116.4,379.9L117.2,372.9L118.0,379.0L118.8,380.6L119.6,383.2L120.4,377.3L121.2,386.4L122.0,384.0L122.8,387.6L123.6,386.3L124.4,381.4L125.2,386.4L126.0,392.7L126.8,390.8L127.6,393.6L128.4,400.8L129.2,404.7L130.0,398.6L130.8,407.7L131.6,394.3L132.4,395.8L133.2,405.5L134.0,402.2L134.8,406.0L135.6,405.5L136.4,403.8L137.2,409.2L138.0,410.5L138.8,405.2L139.6,412.4L140.4,413.2L141.2,418.5L142.0,407.6L142.8,410.8L143.6,409.3L144.4,411.1L145.2,416.4L146.0,412.0L146.8,410.6L147.6,414.6L148.4,417.1L149.2,412.5L150.0,417.3L150.8,423.2L151.6,419.9L152.4,417.7L153.2,417.4L154.0,418.2L154.8,413.0L155.6,423.0L156.4,421.5L157.2,420.8L158.0,416.7L158.8,421.8L159.6,426.3L160.4,425.1L161.2,422.0L162.0,425.7L162.8,426.6L163.6,421.4L164.4,422.5L165.2,423.4L166.0,423.5L166.8,431.4L167.6,430.7L168.4,431.8L169.2,427.1L170.0,426.0L170.8,429.9L171.6,428.6L172.4,429.5L173.2,427.5L174.0,434.3L174.8,437.6L175.6,437.5L176.4,438.6L177.2,431.6L178.0,434.4L178.8,430.2L179.6,435.6L180.4,430.9L181.2,430.9L182.0,430.3L182.8,434.8L183.6,432.0L184.4,431.0L185.2,426.4L186.0,430.6L186.8,425.7L187.6,436.2L188.4,430.5L189.2,431.8L190.0,430.9L190.8,425.8L191.6,425.7L192.4,430.9L193.2,435.8L194.0,425.0L194.8,424.6L195.6,426.7L196.4,420.3L197.2,419.8L198.0,424.7L198.8,426.5L199.6,424.5L200.4,429.8L201.2,423.8L202.0,424.7L202.8,428.1L203.6,426.8L204.4,414.9L205.2,415.0L206.0,416.9L206.8,405.4L207.6,405.6L208.4,400.1L209.2,399.0L210.0,399.3L210.8,401.9L211.6,402.7L212.4,401.1L213.2,392.5L214.0,382.8L214.8,387.6L215.6,385.2L216.4,387.1L217.2,385.1L218.0,377.6L218.8,383.9L219.6,373.9L220.4,378.7L221.2,381.1L222.0,380.7L222.8,383.3L223.6,368.7L224.4,376.6L225.2,376.7L226.0,373.5L226.8,378.0L227.6,373.6L228.4,380.3L229.2,382.8L230.0,379.6L230.8,382.9L231.6,386.8L232.4,387.1L233.2,394.9L234.0,394.5L234.8,399.4L235.6,403.1L236.4,404.5L237.2,407.1L238.0,410.0L238.8,414.7L239.6,417.6L240.4,422.8L241.2,424.7L242.0,429.8L242.8,433.6L243.6,435.9L244.4,440.1L245.2,445.8L246.0,449.4L246.8,447.6L247.6,452.1L248.4,454.0L249.2,457.3L250.0,463.1L250.8,463.3L251.6,465.9L252.4,469.1L253.2,466.0L254.0,468.3L254.8,470.5L255.6,473.2L256.4,471.9L257.2,475.0L258.0,476.9L258.8,477.0L259.6,477.1L260.4,476.3L261.2,475.3L262.0,481.3L262.8,483.4L263.6,478.8L264.4,479.6L265.2,479.1L266.0,475.8L266.8,483.3L267.6,479.8L268.4,481.0L269.2,485.1L270.0,480.2L270.8,483.5L271.6,482.1L272.4,481.4L273.2,481.6L274.0,489.7L274.8,482.4L275.6,489.6L276.4,480.7L277.2,487.9L278.0,485.3L278.8,481.5L279.6,475.5L280.4,489.9L281.2,479.8L282.0,482.3L282.8,486.3L283.6,485.8L284.4,489.2L285.2,487.2L286.0,481.4L286.8,491.7L287.6,485.2L288.4,489.1L289.2,490.6L290.0,492.2L290.8,485.8L291.6,484.7L292.4,484.8L293.2,477.6L294.0,483.3L294.8,482.6L295.6,482.3L296.4,486.5L297.2,484.6L298.0,490.6L298.8,489.5L299.6,476.8L300.4,487.0L301.2,482.8L302.0,489.2L302.8,487.3L303.6,488.3L304.4,484.3L305.2,485.2L306.0,479.5L306.8,470.8L307.6,475.6L308.4,475.9L309.2,477.3L310.0,476.1L310.8,485.7L311.6,478.7L312.4,483.3L313.2,475.4L314.0,481.0L314.8,467.8L315.6,472.7L316.4,463.6L317.2,470.2L318.0,472.4L318.8,458.2L319.6,459.1L320.4,462.5L321.2,457.2L322.0,450.4L322.8,459.4L323.6,454.3L324.4,456.9L325.2,452.6" fill="none" stroke="#ca0000" stroke-width="1.4" stroke-linejoin="round"/>
<line x1="92.7" y1="368.2" x2="97.9" y2="379.3" stroke="#4a86c8" stroke-width="1.5"/>
<path d="M99.6,382.8 L93.9,378.3 L97.7,378.7 L99.7,375.6 Z" fill="#4a86c8" stroke="#4a86c8" stroke-width="0.6"/>
<line x1="151.8" y1="367.1" x2="124.2" y2="379.6" stroke="#4a86c8" stroke-width="1.5"/>
<path d="M120.6,381.2 L125.2,375.6 L124.7,379.3 L127.8,381.4 Z" fill="#4a86c8" stroke="#4a86c8" stroke-width="0.6"/>
<line x1="191.1" y1="403.9" x2="215.4" y2="408.5" stroke="#4a86c8" stroke-width="1.5"/>
<path d="M219.2,409.2 L212.2,411.1 L214.7,408.4 L213.4,404.9 Z" fill="#4a86c8" stroke="#4a86c8" stroke-width="0.6"/>
<line x1="260.6" y1="380.4" x2="234.0" y2="390.6" stroke="#4a86c8" stroke-width="1.5"/>
<path d="M230.4,392.0 L235.3,386.7 L234.6,390.4 L237.6,392.7 Z" fill="#4a86c8" stroke="#4a86c8" stroke-width="0.6"/>
</g>
<g clip-path="url(#cd)">
<path d="M470.0,473.8L470.5,473.7L471.0,473.6L471.5,473.5L472.0,473.3L472.5,473.1L473.0,472.9L473.5,472.7L474.0,472.5L474.5,472.2L475.0,471.9L475.5,471.6L476.0,471.2L476.5,470.8L477.0,470.4L477.5,469.9L478.0,469.4L478.5,468.9L479.0,468.3L479.5,467.7L480.0,467.0L480.5,466.3L481.0,465.5L481.5,464.6L482.0,463.6L482.5,462.5L483.0,461.3L483.5,459.9L484.0,458.5L484.5,456.9L485.0,455.2L485.5,453.3L486.0,451.1L486.5,448.4L487.0,445.3L487.5,442.0L488.0,438.6L488.5,435.4L489.0,432.1L489.5,428.8L490.0,425.5L490.5,422.1L491.0,418.9L491.5,415.5L492.0,411.9L492.5,408.7L493.0,406.5L493.5,405.0L494.0,403.7L494.5,402.6L495.0,401.9L495.5,401.5L496.0,401.7L496.5,402.4L497.0,403.5L497.5,404.9L498.0,406.5L498.5,408.2L499.0,410.6L499.5,413.6L500.0,416.9L500.5,420.3L501.0,423.5L501.5,426.7L502.0,430.0L502.5,433.4L503.0,436.7L503.5,439.9L504.0,443.1L504.5,446.4L505.0,449.5L505.5,452.5L506.0,455.2L506.5,457.6L507.0,459.9L507.5,462.1L508.0,464.0L508.5,465.7L509.0,467.0L509.5,468.2L510.0,469.4L510.5,470.4L511.0,471.2L511.5,472.0L512.0,472.5L512.5,472.9L513.0,473.3L513.5,473.6L514.0,473.9L514.5,474.2L515.0,474.4L515.5,474.7L516.0,474.9L516.5,475.1L517.0,475.3L517.5,475.5L518.0,475.7L518.5,475.9L519.0,476.1L519.5,476.4L520.0,476.6L520.5,476.8L521.0,476.9L521.5,477.1L522.0,477.3L522.5,477.4L523.0,477.6L523.5,477.7L524.0,477.8L524.5,477.9L525.0,478.0L525.5,478.1L526.0,478.2L526.5,478.3L527.0,478.3L527.5,478.4L528.0,478.5L528.5,478.6L529.0,478.6L529.5,478.7L530.0,478.7L530.5,478.8L531.0,478.8L531.5,478.8" fill="none" stroke="#000" stroke-width="1.3" stroke-linejoin="round"/>
<path d="M588.0,480.3L588.5,480.3L589.0,480.2L589.5,480.2L590.0,480.1L590.5,480.0L591.0,480.0L591.5,479.9L592.0,479.8L592.5,479.8L593.0,479.7L593.5,479.6L594.0,479.5L594.5,479.4L595.0,479.3L595.5,479.2L596.0,479.0L596.5,478.9L597.0,478.8L597.5,478.6L598.0,478.5L598.5,478.3L599.0,478.2L599.5,478.0L600.0,477.8L600.5,477.6L601.0,477.4L601.5,477.2L602.0,477.0L602.5,476.8L603.0,476.6L603.5,476.3L604.0,476.0L604.5,475.6L605.0,475.2L605.5,474.7L606.0,474.1L606.5,473.0L607.0,471.5L607.5,469.7L608.0,467.6L608.5,465.4L609.0,463.0L609.5,460.2L610.0,456.8L610.5,453.1L611.0,448.9L611.5,444.4L612.0,439.0L612.5,432.5L613.0,425.2L613.5,417.7L614.0,410.4L614.5,403.5L615.0,396.7L615.5,389.8L616.0,383.0L616.5,376.5L617.0,370.4L617.5,364.6L618.0,358.7L618.5,353.0L619.0,348.3L619.5,345.0L620.0,342.7L620.5,340.7L621.0,339.4L621.5,339.0L622.0,339.6L622.5,341.0L623.0,342.9L623.5,345.0L624.0,348.2L624.5,352.9L625.0,358.5L625.5,364.6L626.0,370.5L626.5,376.8L627.0,383.7L627.5,390.8L628.0,397.9L628.5,404.9L629.0,411.6L629.5,418.5L630.0,425.3L630.5,432.0L631.0,438.4L631.5,444.4L632.0,450.1L632.5,455.5L633.0,460.5L633.5,465.0L634.0,469.1L634.5,472.9L635.0,476.1L635.5,478.3L636.0,480.0L636.5,481.4L637.0,482.6L637.5,483.5L638.0,484.3L638.5,485.0L639.0,485.6L639.5,486.1L640.0,486.5L640.5,486.8L641.0,487.0L641.5,487.2L642.0,487.4L642.5,487.6L643.0,487.7L643.5,487.9L644.0,488.0L644.5,488.2L645.0,488.3L645.5,488.4L646.0,488.6L646.5,488.7L647.0,488.8L647.5,489.0L648.0,489.1L648.5,489.2L649.0,489.3L649.5,489.4" fill="none" stroke="#1a1a9e" stroke-width="1.5" stroke-linejoin="round"/>
<path d="M409.2,473.0L409.7,473.0L410.2,473.0L410.7,473.0L411.2,473.0L411.7,473.0L412.2,473.1L412.7,473.1L413.2,473.1L413.7,473.1L414.2,473.1L414.7,473.1L415.2,473.1L415.7,473.1L416.2,473.1L416.7,473.1L417.2,473.1L417.7,473.1L418.2,473.1L418.7,473.2L419.2,473.2L419.7,473.2L420.2,473.2L420.7,473.2L421.2,473.2L421.7,473.2L422.2,473.2L422.7,473.2L423.2,473.2L423.7,473.2L424.2,473.2L424.7,473.3L425.2,473.3L425.7,473.3L426.2,473.3L426.7,473.3L427.2,473.3L427.7,473.3L428.2,473.3L428.7,473.3L429.2,473.3L429.7,473.3L430.2,473.3L430.7,473.3L431.2,473.4L431.7,473.4L432.2,473.4L432.7,473.4L433.2,473.4L433.7,473.4L434.2,473.4L434.7,473.4L435.2,473.4L435.7,473.4L436.2,473.4L436.7,473.4L437.2,473.5L437.7,473.5L438.2,473.5L438.7,473.5L439.2,473.5L439.7,473.5L440.2,473.5L440.7,473.5L441.2,473.5L441.7,473.5L442.2,473.5L442.7,473.5L443.2,473.6L443.7,473.6L444.2,473.6L444.7,473.6L445.2,473.6L445.7,473.6L446.2,473.6L446.7,473.6L447.2,473.6L447.7,473.7L448.2,473.7L448.7,473.7L449.2,473.7L449.7,473.7L450.2,473.7L450.7,473.7L451.2,473.7L451.7,473.7L452.2,473.8L452.7,473.8L453.2,473.8L453.7,473.8L454.2,473.8L454.7,473.8L455.2,473.8L455.7,473.8L456.2,473.8L456.7,473.8L457.2,473.9L457.7,473.9L458.2,473.9L458.7,473.9L459.2,473.9L459.7,473.9L460.2,473.9L460.7,473.9L461.2,473.9L461.7,473.9L462.2,473.9L462.7,473.9L463.2,474.0L463.7,474.0L464.2,474.0L464.7,474.0L465.2,474.0L465.7,474.0L466.2,474.0L466.7,474.0L467.2,474.0L467.7,474.0L468.2,474.0L468.7,474.0L469.2,474.0L469.7,474.0L470.2,474.0L470.7,474.0L471.2,474.0L471.7,474.0L472.2,473.9L472.7,473.9L473.2,473.9L473.7,473.8L474.2,473.8L474.7,473.7L475.2,473.7L475.7,473.7L476.2,473.6L476.7,473.6L477.2,473.6L477.7,473.6L478.2,473.6L478.7,473.6L479.2,473.6L479.7,473.6L480.2,473.7L480.7,473.7L481.2,473.7L481.7,473.8L482.2,473.8L482.7,473.8L483.2,473.9L483.7,473.9L484.2,474.0L484.7,474.0L485.2,474.1L485.7,474.1L486.2,474.2L486.7,474.3L487.2,474.3L487.7,474.4L488.2,474.5L488.7,474.6L489.2,474.7L489.7,474.8L490.2,474.9L490.7,475.0L491.2,475.1L491.7,475.3L492.2,475.4L492.7,475.6L493.2,475.7L493.7,475.8L494.2,476.0L494.7,476.1L495.2,476.2L495.7,476.4L496.2,476.5L496.7,476.6L497.2,476.7L497.7,476.8L498.2,476.9L498.7,477.0L499.2,477.2L499.7,477.3L500.2,477.4L500.7,477.5L501.2,477.6L501.7,477.7L502.2,477.8L502.7,477.9L503.2,478.0L503.7,478.1L504.2,478.2L504.7,478.2L505.2,478.3L505.7,478.3L506.2,478.4L506.7,478.4L507.2,478.4L507.7,478.5L508.2,478.5L508.7,478.5L509.2,478.6L509.7,478.6L510.2,478.6L510.7,478.6L511.2,478.7L511.7,478.7L512.2,478.7L512.7,478.7L513.2,478.8L513.7,478.8L514.2,478.8L514.7,478.8L515.2,478.8L515.7,478.9L516.2,478.9L516.7,478.9L517.2,478.9L517.7,478.9L518.2,478.9L518.7,479.0L519.2,479.0L519.7,479.0L520.2,479.0L520.7,479.0L521.2,479.0L521.7,479.1L522.2,479.1L522.7,479.1L523.2,479.1L523.7,479.1L524.2,479.2L524.7,479.2L525.2,479.2L525.7,479.2L526.2,479.2L526.7,479.3L527.2,479.3L527.7,479.3L528.2,479.3L528.7,479.3L529.2,479.3L529.7,479.4L530.2,479.4L530.7,479.4L531.2,479.4L531.7,479.4L532.2,479.4L532.7,479.5L533.2,479.5L533.7,479.5L534.2,479.5L534.7,479.5L535.2,479.6L535.7,479.6L536.2,479.6L536.7,479.6L537.2,479.6L537.7,479.6L538.2,479.6L538.7,479.7L539.2,479.7L539.7,479.7L540.2,479.7L540.7,479.7L541.2,479.7L541.7,479.8L542.2,479.8L542.7,479.8L543.2,479.8L543.7,479.8L544.2,479.8L544.7,479.8L545.2,479.8L545.7,479.9L546.2,479.9L546.7,479.9L547.2,479.9L547.7,479.9L548.2,479.9L548.7,479.9L549.2,479.9L549.7,479.9L550.2,480.0L550.7,480.0L551.2,480.0L551.7,480.0L552.2,480.0L552.7,480.0L553.2,480.0L553.7,480.0L554.2,480.0L554.7,480.0L555.2,480.0L555.7,480.0L556.2,480.1L556.7,480.1L557.2,480.1L557.7,480.1L558.2,480.1L558.7,480.1L559.2,480.1L559.7,480.1L560.2,480.1L560.7,480.1L561.2,480.1L561.7,480.1L562.2,480.1L562.7,480.1L563.2,480.1L563.7,480.1L564.2,480.1L564.7,480.1L565.2,480.2L565.7,480.2L566.2,480.2L566.7,480.2L567.2,480.2L567.7,480.2L568.2,480.2L568.7,480.2L569.2,480.2L569.7,480.2L570.2,480.2L570.7,480.2L571.2,480.2L571.7,480.2L572.2,480.2L572.7,480.2L573.2,480.2L573.7,480.2L574.2,480.2L574.7,480.2L575.2,480.2L575.7,480.3L576.2,480.3L576.7,480.3L577.2,480.3L577.7,480.3L578.2,480.3L578.7,480.3L579.2,480.3L579.7,480.3L580.2,480.3L580.7,480.3L581.2,480.3L581.7,480.3L582.2,480.3L582.7,480.3L583.2,480.3L583.7,480.3L584.2,480.3L584.7,480.3L585.2,480.3L585.7,480.4L586.2,480.4L586.7,480.4L587.2,480.4L587.7,480.4L588.2,480.4L588.7,480.4L589.2,480.4L589.7,480.4L590.2,480.4L590.7,480.4L591.2,480.4L591.7,480.4L592.2,480.4L592.7,480.4L593.2,480.4L593.7,480.4L594.2,480.4L594.7,480.4L595.2,480.4L595.7,480.4L596.2,480.4L596.7,480.4L597.2,480.5L597.7,480.5L598.2,480.5L598.7,480.5L599.2,480.5L599.7,480.5L600.2,480.5L600.7,480.5L601.2,480.5L601.7,480.5L602.2,480.5L602.7,480.5L603.2,480.6L603.7,480.6L604.2,480.6L604.7,480.6L605.2,480.6L605.7,480.6L606.2,480.6L606.7,480.7L607.2,480.7L607.7,480.8L608.2,480.8L608.7,480.8L609.2,480.9L609.7,481.0L610.2,481.0L610.7,481.1L611.2,481.2L611.7,481.3L612.2,481.5L612.7,481.6L613.2,481.8L613.7,481.9L614.2,482.1L614.7,482.3L615.2,482.5L615.7,482.7L616.2,482.9L616.7,483.1L617.2,483.4L617.7,483.6L618.2,483.9L618.7,484.2L619.2,484.5L619.7,484.8L620.2,485.1L620.7,485.5L621.2,485.8L621.7,486.2L622.2,486.6L622.7,487.0L623.2,487.4L623.7,487.7L624.2,488.0L624.7,488.2L625.2,488.3L625.7,488.4L626.2,488.5L626.7,488.6L627.2,488.7L627.7,488.8L628.2,488.9L628.7,489.0L629.2,489.0L629.7,489.1L630.2,489.1L630.7,489.2L631.2,489.2L631.7,489.3L632.2,489.3L632.7,489.3L633.2,489.3L633.7,489.4L634.2,489.4L634.7,489.4L635.2,489.4L635.7,489.5L636.2,489.5L636.7,489.5L637.2,489.5L637.7,489.5L638.2,489.5L638.7,489.6L639.2,489.6L639.7,489.6L640.2,489.6L640.7,489.6L641.2,489.6L641.7,489.7L642.2,489.7L642.7,489.7L643.2,489.7L643.7,489.7L644.2,489.7L644.7,489.7L645.2,489.7L645.7,489.7L646.2,489.7L646.7,489.8L647.2,489.8L647.7,489.8L648.2,489.8L648.7,489.8L649.2,489.8L649.7,489.8L650.2,489.8L650.7,489.8L651.2,489.8L651.7,489.8L652.2,489.8L652.7,489.8L653.2,489.8L653.7,489.8L654.2,489.8L654.7,489.9L655.2,489.9L655.7,489.9L656.2,489.9L656.7,489.9L657.2,489.9L657.7,489.9L658.2,489.9L658.7,489.9L659.2,489.9L659.7,489.9L660.2,489.9L660.7,489.9L661.2,489.9L661.7,489.9L662.2,489.9L662.7,489.9L663.2,489.9L663.7,489.9L664.2,489.9L664.7,489.9L665.2,489.9L665.7,489.9L666.2,490.0L666.7,490.0L667.2,490.0L667.7,490.0L668.2,490.0L668.7,490.0L669.2,490.0L669.7,490.0L670.2,490.0L670.7,490.0L671.2,490.0L671.7,490.0L672.2,490.0L672.7,490.0L673.2,490.0L673.7,490.0L674.2,490.0L674.7,490.0L675.2,490.0L675.7,490.0L676.2,490.0L676.7,490.0L677.2,490.0L677.7,490.0L678.2,490.0L678.7,490.0L679.2,490.0" fill="none" stroke="#9a5a1e" stroke-width="1.3" stroke-linejoin="round"/>
<path d="M409.2,471.9L409.8,471.7L410.3,473.7L410.9,469.0L411.4,473.2L412.0,468.7L412.5,471.4L413.1,471.2L413.6,474.0L414.2,472.2L414.7,470.9L415.3,475.4L415.8,475.3L416.4,471.5L416.9,474.4L417.5,472.8L418.0,474.3L418.6,473.7L419.1,471.9L419.7,473.4L420.2,470.8L420.8,470.6L421.3,471.5L421.9,469.4L422.4,469.8L423.0,473.9L423.5,474.5L424.1,474.8L424.6,472.9L425.2,473.9L425.7,475.4L426.3,474.4L426.8,469.6L427.4,468.9L427.9,472.0L428.5,474.5L429.0,472.2L429.6,473.7L430.1,472.9L430.7,472.7L431.2,472.4L431.8,473.2L432.3,471.8L432.9,476.4L433.4,473.7L434.0,471.3L434.5,471.8L435.1,469.4L435.6,472.8L436.2,469.6L436.7,472.1L437.3,474.3L437.8,474.5L438.4,474.8L438.9,470.8L439.5,474.5L440.0,472.5L440.6,475.2L441.1,472.0L441.7,475.4L442.2,472.9L442.8,474.4L443.3,472.0L443.9,471.9L444.4,471.8L445.0,475.1L445.5,472.9L446.1,473.0L446.6,476.5L447.2,475.3L447.7,473.4L448.3,474.1L448.8,471.0L449.4,470.7L449.9,474.6L450.5,478.9L451.0,477.6L451.6,478.5L452.1,474.7L452.7,472.8L453.2,475.8L453.8,471.9L454.3,468.8L454.9,475.1L455.4,476.4L456.0,475.5L456.5,477.1L457.1,474.9L457.6,474.8L458.2,471.3L458.7,472.7L459.3,470.6L459.8,471.7L460.4,476.8L460.9,473.3L461.5,474.7L462.0,473.2L462.6,479.1L463.1,471.1L463.7,472.6L464.2,476.4L464.8,473.3L465.3,472.8L465.9,475.7L466.4,475.7L467.0,475.6L467.5,473.3L468.1,475.9L468.6,472.3L469.2,473.2L469.7,473.0L470.3,476.1L470.8,473.2L471.4,472.3L471.9,474.0L472.5,471.8L473.0,472.0L473.6,471.6L474.1,472.2L474.7,471.2L475.2,470.6L475.8,474.1L476.3,468.5L476.9,471.8L477.4,468.2L478.0,467.4L478.5,464.7L479.1,467.4L479.6,464.5L480.2,467.5L480.7,463.6L481.3,463.0L481.8,461.6L482.4,464.9L482.9,463.5L483.5,460.1L484.0,459.9L484.6,456.9L485.1,454.8L485.7,452.9L486.2,449.3L486.8,447.2L487.3,443.1L487.9,440.3L488.4,436.8L489.0,432.8L489.5,429.9L490.1,424.8L490.6,421.9L491.2,418.1L491.7,413.4L492.3,411.5L492.8,409.1L493.4,408.1L493.9,404.4L494.5,403.1L495.0,402.7L495.6,400.1L496.1,402.5L496.7,401.3L497.2,403.0L497.8,405.7L498.3,407.6L498.9,411.0L499.4,412.5L500.0,417.0L500.5,420.6L501.1,424.1L501.6,428.1L502.2,431.6L502.7,434.8L503.3,438.6L503.8,441.9L504.4,444.5L504.9,447.9L505.5,453.0L506.0,454.9L506.6,457.7L507.1,461.0L507.7,462.9L508.2,464.4L508.8,465.9L509.3,467.7L509.9,469.8L510.4,466.6L511.0,470.3L511.5,474.5L512.1,473.6L512.6,472.9L513.2,473.7L513.7,474.6L514.3,475.4L514.8,470.1L515.4,471.2L515.9,473.5L516.5,475.0L517.0,474.8L517.6,475.6L518.1,476.2L518.7,475.6L519.2,478.8L519.8,472.4L520.3,472.5L520.9,471.8L521.4,475.3L522.0,473.4L522.5,473.9L523.1,472.3L523.6,478.5L524.2,474.7L524.7,475.5L525.3,472.3L525.8,475.5L526.4,475.7L526.9,478.3L527.5,476.1L528.0,478.1L528.6,474.0L529.1,476.9L529.7,477.0L530.2,476.9L530.8,476.6L531.3,476.1L531.9,478.7L532.4,476.1L533.0,479.1L533.5,479.1L534.1,477.3L534.6,478.8L535.2,473.3L535.7,476.0L536.3,479.6L536.8,476.0L537.4,474.3L537.9,480.8L538.5,477.0L539.0,482.2L539.6,479.1L540.1,477.0L540.7,477.9L541.2,481.5L541.8,478.8L542.3,477.5L542.9,478.4L543.4,477.6L544.0,476.0L544.5,478.3L545.1,480.3L545.6,478.6L546.2,482.3L546.7,481.6L547.3,477.8L547.8,481.7L548.4,483.3L548.9,477.3L549.5,480.4L550.0,482.3L550.6,479.9L551.1,482.2L551.7,481.8L552.2,480.5L552.8,481.9L553.3,483.1L553.9,483.4L554.4,483.4L555.0,481.9L555.5,480.7L556.1,479.8L556.6,481.4L557.2,477.9L557.7,482.2L558.3,478.2L558.8,484.2L559.4,480.5L559.9,479.4L560.5,479.9L561.0,483.0L561.6,483.1L562.1,481.5L562.7,483.8L563.2,485.0L563.8,485.0L564.3,486.3L564.9,478.5L565.4,483.0L566.0,482.4L566.5,484.2L567.1,487.0L567.6,481.2L568.2,482.4L568.7,484.2L569.3,487.0L569.8,487.5L570.4,484.6L570.9,488.3L571.5,487.0L572.0,487.5L572.6,485.3L573.1,486.3L573.7,485.2L574.2,483.6L574.8,483.8L575.3,487.5L575.9,486.2L576.4,485.6L577.0,487.5L577.5,487.7L578.1,488.6L578.6,486.2L579.2,487.3L579.7,488.9L580.3,485.8L580.8,489.5L581.4,487.4L581.9,485.5L582.5,488.3L583.0,486.9L583.6,490.9L584.1,487.0L584.7,490.1L585.2,490.9L585.8,487.6L586.3,487.2L586.9,485.8L587.4,487.2L588.0,489.0L588.5,492.0L589.1,490.9L589.6,487.3L590.2,491.6L590.7,488.4L591.3,493.0L591.8,490.7L592.4,488.9L592.9,486.0L593.5,488.3L594.0,485.4L594.6,484.8L595.1,487.3L595.7,484.7L596.2,487.0L596.8,488.3L597.3,488.3L597.9,486.2L598.4,485.8L599.0,488.5L599.5,487.8L600.1,482.0L600.6,486.1L601.2,485.2L601.7,481.3L602.3,484.0L602.8,481.1L603.4,480.1L603.9,477.4L604.5,482.1L605.0,476.3L605.6,470.1L606.1,471.1L606.7,470.1L607.2,468.5L607.8,467.7L608.3,463.2L608.9,460.9L609.4,458.5L610.0,455.9L610.5,451.1L611.1,447.3L611.6,443.2L612.2,438.2L612.7,430.0L613.3,422.4L613.8,412.8L614.4,406.2L614.9,398.4L615.5,390.7L616.0,383.8L616.6,376.5L617.1,369.8L617.7,362.1L618.2,356.7L618.8,350.5L619.3,346.4L619.9,343.7L620.4,340.9L621.0,340.1L621.5,340.6L622.1,340.7L622.6,342.0L623.2,344.0L623.7,347.3L624.3,350.3L624.8,356.6L625.4,363.2L625.9,368.8L626.5,377.4L627.0,384.9L627.6,391.6L628.1,399.3L628.7,407.2L629.2,415.1L629.8,421.3L630.3,430.3L630.9,437.5L631.4,442.0L632.0,449.7L632.5,456.5L633.1,461.3L633.6,467.1L634.2,470.8L634.7,475.0L635.3,477.1L635.8,478.3L636.4,482.1L636.9,480.4L637.5,485.0L638.0,484.2L638.6,490.6L639.1,485.4L639.7,481.4L640.2,489.6L640.8,486.5L641.3,488.4L641.9,489.5L642.4,485.7L643.0,487.7L643.5,491.3L644.1,488.0L644.6,487.2L645.2,489.2L645.7,490.2L646.3,490.6L646.8,489.1L647.4,489.8L647.9,491.3L648.5,490.2L649.0,491.5L649.6,488.0L650.1,493.8L650.7,487.3L651.2,491.8L651.8,492.6L652.3,489.5L652.9,490.5L653.4,488.9L654.0,490.9L654.5,490.7L655.1,488.0L655.6,488.6L656.2,486.7L656.7,490.2L657.3,489.3L657.8,488.2L658.4,487.2L658.9,491.0L659.5,487.7L660.0,488.3L660.6,489.0L661.1,490.9L661.7,490.2L662.2,488.2L662.8,490.2L663.3,490.6L663.9,492.8L664.4,495.6L665.0,494.3L665.5,494.1L666.1,493.9L666.6,490.2L667.2,490.4L667.7,489.1L668.3,493.6L668.8,491.9L669.4,488.9L669.9,491.7L670.5,491.1L671.0,492.8L671.6,490.3L672.1,488.5L672.7,489.9L673.2,489.6L673.8,492.3L674.3,491.1L674.9,490.6L675.4,493.0L676.0,490.2L676.5,491.3L677.1,492.4L677.6,488.5L678.2,492.9L678.7,489.7L679.3,490.6" fill="none" stroke="#ca0000" stroke-width="1.4" stroke-linejoin="round"/>
</g>
<g clip-path="url(#ce)">
<path d="M395.5,830.8L396.2,830.8L396.9,830.8L397.6,830.8L398.3,830.8L399.0,830.8L399.7,830.8L400.4,830.8L401.1,830.8L401.8,830.7L402.5,830.7L403.2,830.6L403.9,830.5L404.6,830.4L405.3,830.3L406.0,830.2L406.7,830.1L407.4,830.0L408.1,829.9L408.8,829.7L409.5,829.6L410.2,829.4L410.9,829.2L411.6,829.0L412.3,828.7L413.0,828.5L413.7,828.2L414.4,827.9L415.1,827.5L415.8,827.1L416.5,826.6L417.2,826.0L417.9,825.3L418.6,824.5L419.3,823.6L420.0,822.7L420.7,821.7L421.4,820.7L422.1,819.7L422.8,818.7L423.5,817.8L424.2,816.7L424.9,815.7L425.6,814.6L426.3,813.5L427.0,812.4L427.7,811.2L428.4,810.0L429.1,808.7L429.8,807.4L430.5,806.0L431.2,804.6L431.9,803.1L432.6,801.6L433.3,799.9L434.0,798.1L434.7,796.4L435.4,794.5L436.1,792.7L436.8,790.8L437.5,789.0L438.2,787.2L438.9,785.4L439.6,783.6L440.3,781.8L441.0,779.9L441.7,778.1L442.4,776.3L443.1,774.4L443.8,772.6L444.5,770.7L445.2,768.9L445.9,767.0L446.6,765.2L447.3,763.2L448.0,761.3L448.7,759.3L449.4,757.4L450.1,755.5L450.8,753.9L451.5,752.4L452.2,751.0L452.9,749.6L453.6,748.3L454.3,747.2L455.0,746.2L455.7,745.5L456.4,744.7L457.1,743.9L457.8,743.1L458.5,742.4L459.2,741.7L459.9,741.0L460.6,740.4L461.3,739.8L462.0,739.6L462.7,739.4L463.4,739.6L464.1,740.4L464.8,741.6L465.5,742.8L466.2,743.6L466.9,744.1L467.6,744.4L468.3,744.6L469.0,744.7L469.7,744.6L470.4,744.3L471.1,743.9L471.8,743.4L472.5,742.9L473.2,741.8L473.9,740.2L474.6,738.4L475.3,736.8L476.0,735.3L476.7,733.4L477.4,730.3L478.1,726.5L478.8,722.5L479.5,718.4L480.2,714.0L480.9,709.1L481.6,703.9L482.3,698.4L483.0,692.5L483.7,686.7L484.4,681.0L485.1,675.3L485.8,669.4L486.5,664.2L487.2,659.7L487.9,655.5L488.6,651.5L489.3,648.2L490.0,645.8L490.7,644.1L491.4,642.9L492.1,642.1L492.8,641.5L493.5,641.0L494.2,640.9L494.9,641.7L495.6,643.3L496.3,645.4L497.0,647.7L497.7,651.0L498.4,655.2L499.1,660.2L499.8,666.0L500.5,672.1L501.2,677.8L501.9,683.2L502.6,688.7L503.3,694.3L504.0,700.6L504.7,707.5L505.4,714.9L506.1,722.6L506.8,730.2L507.5,737.8L508.2,745.6L508.9,753.1L509.6,760.6L510.3,767.8L511.0,774.5L511.7,781.0L512.4,787.2L513.1,793.1L513.8,798.5L514.5,803.3L515.2,807.6L515.9,811.8L516.6,815.6L517.3,819.1L518.0,822.2L518.7,824.9L519.4,827.3L520.1,829.5L520.8,831.6L521.5,833.4L522.2,834.9L522.9,836.1L523.6,837.0L524.3,837.9L525.0,838.6L525.7,839.2L526.4,839.8L527.1,840.3L527.8,840.8L528.5,841.2L529.2,841.5L529.9,841.9L530.6,842.2L531.3,842.5L532.0,842.8L532.7,843.0L533.4,843.2L534.1,843.4L534.8,843.5L535.5,843.6L536.2,843.6L536.9,843.7L537.6,843.8L538.3,843.8L539.0,843.9L539.7,843.9L540.4,844.0L541.1,844.0L541.8,844.0L542.5,844.1L543.2,844.1L543.9,844.1L544.6,844.1L545.3,844.1L546.0,844.1L546.7,844.1L547.4,844.1L548.1,844.1L548.8,844.1L549.5,844.1L550.2,844.1L550.9,844.1L551.6,844.1L552.3,844.1L553.0,844.1L553.7,844.1L554.4,844.1L555.1,844.1L555.8,844.1L556.5,844.1L557.2,844.1L557.9,844.1L558.6,844.1L559.3,844.1L560.0,844.1L560.7,844.1L561.4,844.1L562.1,844.1L562.8,844.1L563.5,844.1L564.2,844.1L564.9,844.1L565.6,844.1L566.3,844.1L567.0,844.1L567.7,844.1L568.4,844.1L569.1,844.1L569.8,844.1L570.5,844.1L571.2,844.1L571.9,844.1L572.6,844.1L573.3,844.1L574.0,844.1L574.7,844.1L575.4,844.1L576.1,844.1L576.8,844.1L577.5,844.1L578.2,844.1L578.9,844.1L579.6,844.1L580.3,844.1L581.0,844.1L581.7,844.1L582.4,844.1L583.1,844.1L583.8,844.1L584.5,844.1L585.2,844.1L585.9,844.1L586.6,844.1L587.3,844.1L588.0,844.1L588.7,844.1L589.4,844.1L590.1,844.1L590.8,844.1L591.5,844.1L592.2,844.1" fill="none" stroke="#9a5a1e" stroke-width="1.3" stroke-linejoin="round"/>
<path d="M390.6,830.6L391.3,830.7L392.0,830.7L392.7,830.7L393.4,830.7L394.1,830.7L394.8,830.7L395.5,830.8L396.2,830.8L396.9,830.8L397.6,830.8L398.3,830.8L399.0,830.8L399.7,830.8L400.4,830.8L401.1,830.8L401.8,830.7L402.5,830.7L403.2,830.6L403.9,830.5L404.6,830.4L405.3,830.3L406.0,830.2L406.7,830.1L407.4,830.0L408.1,829.9L408.8,829.7L409.5,829.6L410.2,829.4L410.9,829.2L411.6,829.0L412.3,828.7L413.0,828.5L413.7,828.2L414.4,827.9L415.1,827.5L415.8,827.1L416.5,826.6L417.2,826.0L417.9,825.3L418.6,824.5L419.3,823.6L420.0,822.7L420.7,821.7L421.4,820.7L422.1,819.8L422.8,818.8L423.5,817.8L424.2,816.8L424.9,815.8L425.6,814.7L426.3,813.6L427.0,812.5L427.7,811.3L428.4,810.1L429.1,808.9L429.8,807.6L430.5,806.3L431.2,804.9L431.9,803.4L432.6,801.9L433.3,800.2L434.0,798.5L434.7,796.8L435.4,795.0L436.1,793.2L436.8,791.4L437.5,789.5L438.2,787.8L438.9,786.0L439.6,784.2L440.3,782.4L441.0,780.6L441.7,778.8L442.4,777.0L443.1,775.2L443.8,773.4L444.5,771.6L445.2,769.8L445.9,768.0L446.6,766.2L447.3,764.3L448.0,762.4L448.7,760.5L449.4,758.7L450.1,756.9L450.8,755.4L451.5,754.0L452.2,752.7L452.9,751.4L453.6,750.2L454.3,749.2L455.0,748.4L455.7,747.8L456.4,747.2L457.1,746.8L457.8,746.4L458.5,746.1L459.2,746.0L459.9,745.8L460.6,745.7L461.3,745.7L462.0,746.1L462.7,746.6L463.4,747.6L464.1,749.3L464.8,751.4L465.5,753.7L466.2,755.7L466.9,757.4L467.6,759.0L468.3,760.6L469.0,762.2L469.7,763.8L470.4,765.4L471.1,767.2L471.8,769.1L472.5,771.3L473.2,773.7L473.9,776.2L474.6,778.9L475.3,781.4L476.0,783.8L476.7,786.0L477.4,788.1L478.1,790.1L478.8,792.1L479.5,794.0L480.2,795.8L480.9,797.7L481.6,799.7L482.3,801.6L483.0,803.7L483.7,805.7L484.4,807.8L485.1,809.8L485.8,811.8L486.5,813.7L487.2,815.5L487.9,817.1L488.6,818.8L489.3,820.3L490.0,821.9L490.7,823.4L491.4,824.8L492.1,826.1L492.8,827.4L493.5,828.5L494.2,829.6L494.9,830.6L495.6,831.5L496.3,832.3L497.0,833.0L497.7,833.7L498.4,834.4L499.1,834.9L499.8,835.5L500.5,836.1L501.2,836.6L501.9,837.1L502.6,837.5L503.3,838.0L504.0,838.4L504.7,838.8L505.4,839.2L506.1,839.6L506.8,840.0L507.5,840.3L508.2,840.7L508.9,841.0L509.6,841.4L510.3,841.7L511.0,842.0L511.7,842.2L512.4,842.4L513.1,842.6L513.8,842.8L514.5,842.9L515.2,843.0L515.9,843.1L516.6,843.2L517.3,843.2L518.0,843.3L518.7,843.4L519.4,843.4L520.1,843.5L520.8,843.6L521.5,843.6L522.2,843.7L522.9,843.7L523.6,843.8L524.3,843.9L525.0,843.9L525.7,843.9L526.4,844.0L527.1,844.0L527.8,844.1L528.5,844.1L529.2,844.1L529.9,844.1L530.6,844.1L531.3,844.1L532.0,844.1L532.7,844.1L533.4,844.1L534.1,844.1L534.8,844.1L535.5,844.1L536.2,844.1L536.9,844.1L537.6,844.1L538.3,844.1L539.0,844.1L539.7,844.1L540.4,844.1L541.1,844.1L541.8,844.1L542.5,844.1L543.2,844.1L543.9,844.1L544.6,844.1L545.3,844.1L546.0,844.1L546.7,844.1L547.4,844.1L548.1,844.1L548.8,844.1L549.5,844.1L550.2,844.1L550.9,844.1L551.6,844.1L552.3,844.1L553.0,844.1L553.7,844.1L554.4,844.1L555.1,844.1L555.8,844.1L556.5,844.1L557.2,844.1L557.9,844.1L558.6,844.1L559.3,844.1L560.0,844.1L560.7,844.1L561.4,844.1L562.1,844.1L562.8,844.1L563.5,844.1L564.2,844.1L564.9,844.1L565.6,844.1L566.3,844.1L567.0,844.1L567.7,844.1L568.4,844.1L569.1,844.1L569.8,844.1L570.5,844.1L571.2,844.1L571.9,844.1L572.6,844.1L573.3,844.1L574.0,844.1L574.7,844.1L575.4,844.1L576.1,844.1L576.8,844.1L577.5,844.1L578.2,844.1L578.9,844.1L579.6,844.1L580.3,844.1L581.0,844.1L581.7,844.1L582.4,844.1L583.1,844.1L583.8,844.1L584.5,844.1L585.2,844.1L585.9,844.1L586.6,844.1L587.3,844.1L588.0,844.1L588.7,844.1L589.4,844.1L590.1,844.1L590.8,844.1L591.5,844.1L592.2,844.1" fill="none" stroke="#000" stroke-width="1.3" stroke-linejoin="round"/>
<path d="M390.6,830.7L391.3,830.7L392.0,830.7L392.7,830.7L393.4,830.7L394.1,830.7L394.8,830.7L395.5,830.7L396.2,830.8L396.9,830.8L397.6,830.8L398.3,830.8L399.0,830.8L399.7,830.8L400.4,830.8L401.1,830.8L401.8,830.8L402.5,830.8L403.2,830.8L403.9,830.9L404.6,830.9L405.3,830.9L406.0,830.9L406.7,830.9L407.4,830.9L408.1,830.9L408.8,830.9L409.5,830.9L410.2,831.0L410.9,831.0L411.6,831.0L412.3,831.0L413.0,831.0L413.7,831.0L414.4,831.0L415.1,831.1L415.8,831.1L416.5,831.1L417.2,831.1L417.9,831.1L418.6,831.1L419.3,831.2L420.0,831.2L420.7,831.2L421.4,831.2L422.1,831.2L422.8,831.3L423.5,831.3L424.2,831.3L424.9,831.3L425.6,831.3L426.3,831.4L427.0,831.4L427.7,831.4L428.4,831.4L429.1,831.5L429.8,831.5L430.5,831.5L431.2,831.5L431.9,831.5L432.6,831.6L433.3,831.6L434.0,831.6L434.7,831.6L435.4,831.7L436.1,831.7L436.8,831.7L437.5,831.8L438.2,831.8L438.9,831.8L439.6,831.8L440.3,831.9L441.0,831.9L441.7,832.0L442.4,832.0L443.1,832.1L443.8,832.1L444.5,832.2L445.2,832.2L445.9,832.3L446.6,832.3L447.3,832.4L448.0,832.4L448.7,832.5L449.4,832.5L450.1,832.5L450.8,832.5L451.5,832.5L452.2,832.6L452.9,832.6L453.6,832.6L454.3,832.6L455.0,832.6L455.7,832.6L456.4,832.4L457.1,832.2L457.8,831.9L458.5,831.6L459.2,831.2L459.9,830.8L460.6,830.3L461.3,829.9L462.0,829.4L462.7,828.8L463.4,828.1L464.1,827.4L464.8,826.5L465.5,825.5L466.2,824.5L466.9,823.3L467.6,822.1L468.3,820.9L469.0,819.5L469.7,817.9L470.4,816.1L471.1,814.0L471.8,811.7L472.5,809.1L473.2,805.7L473.9,801.7L474.6,797.3L475.3,793.2L476.0,789.5L476.7,785.4L477.4,780.5L478.1,774.7L478.8,768.9L479.5,763.0L480.2,756.8L480.9,750.1L481.6,743.1L482.3,735.7L483.0,727.9L483.7,720.2L484.4,712.5L485.1,704.8L485.8,697.1L486.5,690.1L487.2,683.9L487.9,678.2L488.6,672.6L489.3,667.9L490.0,664.1L490.7,661.0L491.4,658.5L492.1,656.5L492.8,654.8L493.5,653.2L494.2,652.2L494.9,652.1L495.6,652.9L496.3,654.3L497.0,656.0L497.7,658.7L498.4,662.4L499.1,666.9L499.8,672.2L500.5,677.9L501.2,683.2L501.9,688.3L502.6,693.3L503.3,698.7L504.0,704.6L504.7,711.2L505.4,718.3L506.1,725.7L506.8,733.0L507.5,740.4L508.2,747.9L508.9,755.2L509.6,762.4L510.3,769.4L511.0,775.9L511.7,782.1L512.4,788.2L513.1,793.9L513.8,799.3L514.5,804.0L515.2,808.3L515.9,812.4L516.6,816.2L517.3,819.7L518.0,822.7L518.7,825.3L519.4,827.7L520.1,829.9L520.8,831.9L521.5,833.7L522.2,835.2L522.9,836.4L523.6,837.2L524.3,838.0L525.0,838.7L525.7,839.3L526.4,839.9L527.1,840.4L527.8,840.8L528.5,841.2L529.2,841.5L529.9,841.9L530.6,842.2L531.3,842.5L532.0,842.8L532.7,843.0L533.4,843.2L534.1,843.4L534.8,843.5L535.5,843.6L536.2,843.6L536.9,843.7L537.6,843.8L538.3,843.8L539.0,843.9L539.7,843.9L540.4,844.0L541.1,844.0L541.8,844.0L542.5,844.1L543.2,844.1L543.9,844.1L544.6,844.1L545.3,844.1L546.0,844.1L546.7,844.1L547.4,844.1L548.1,844.1L548.8,844.1L549.5,844.1L550.2,844.1L550.9,844.1L551.6,844.1L552.3,844.1L553.0,844.1L553.7,844.1L554.4,844.1L555.1,844.1L555.8,844.1L556.5,844.1L557.2,844.1L557.9,844.1L558.6,844.1L559.3,844.1L560.0,844.1L560.7,844.1L561.4,844.1L562.1,844.1L562.8,844.1L563.5,844.1L564.2,844.1L564.9,844.1L565.6,844.1L566.3,844.1L567.0,844.1L567.7,844.1L568.4,844.1L569.1,844.1L569.8,844.1L570.5,844.1L571.2,844.1L571.9,844.1L572.6,844.1L573.3,844.1L574.0,844.1L574.7,844.1L575.4,844.1L576.1,844.1L576.8,844.1L577.5,844.1L578.2,844.1L578.9,844.1L579.6,844.1L580.3,844.1L581.0,844.1L581.7,844.1L582.4,844.1L583.1,844.1L583.8,844.1L584.5,844.1L585.2,844.1L585.9,844.1L586.6,844.1L587.3,844.1L588.0,844.1L588.7,844.1L589.4,844.1L590.1,844.1L590.8,844.1L591.5,844.1L592.2,844.1" fill="none" stroke="#1a1a9e" stroke-width="1.4" stroke-linejoin="round"/>
<path d="M172.2,829.3L172.9,829.3L173.6,829.3L174.3,829.3L175.0,829.3L175.7,829.3L176.4,829.3L177.1,829.3L177.8,829.3L178.5,829.3L179.2,829.3L179.9,829.3L180.6,829.3L181.3,829.3L182.0,829.3L182.7,829.3L183.4,829.3L184.1,829.4L184.8,829.4L185.5,829.4L186.2,829.4L186.9,829.4L187.6,829.4L188.3,829.4L189.0,829.4L189.7,829.4L190.4,829.4L191.1,829.4L191.8,829.4L192.5,829.4L193.2,829.4L193.9,829.4L194.6,829.4L195.3,829.4L196.0,829.4L196.7,829.4L197.4,829.4L198.1,829.4L198.8,829.4L199.5,829.4L200.2,829.4L200.9,829.4L201.6,829.4L202.3,829.4L203.0,829.4L203.7,829.4L204.4,829.4L205.1,829.4L205.8,829.5L206.5,829.5L207.2,829.5L207.9,829.5L208.6,829.5L209.3,829.5L210.0,829.5L210.7,829.5L211.4,829.5L212.1,829.5L212.8,829.5L213.5,829.5L214.2,829.5L214.9,829.5L215.6,829.5L216.3,829.5L217.0,829.5L217.7,829.5L218.4,829.5L219.1,829.5L219.8,829.5L220.5,829.5L221.2,829.5L221.9,829.5L222.6,829.5L223.3,829.5L224.0,829.5L224.7,829.5L225.4,829.6L226.1,829.6L226.8,829.6L227.5,829.6L228.2,829.6L228.9,829.6L229.6,829.6L230.3,829.6L231.0,829.6L231.7,829.6L232.4,829.6L233.1,829.6L233.8,829.6L234.5,829.6L235.2,829.6L235.9,829.6L236.6,829.6L237.3,829.6L238.0,829.6L238.7,829.6L239.4,829.6L240.1,829.6L240.8,829.6L241.5,829.6L242.2,829.6L242.9,829.6L243.6,829.7L244.3,829.7L245.0,829.7L245.7,829.7L246.4,829.7L247.1,829.7L247.8,829.7L248.5,829.7L249.2,829.7L249.9,829.7L250.6,829.7L251.3,829.7L252.0,829.7L252.7,829.7L253.4,829.7L254.1,829.7L254.8,829.7L255.5,829.7L256.2,829.7L256.9,829.7L257.6,829.7L258.3,829.7L259.0,829.7L259.7,829.7L260.4,829.8L261.1,829.8L261.8,829.8L262.5,829.8L263.2,829.8L263.9,829.8L264.6,829.8L265.3,829.8L266.0,829.8L266.7,829.8L267.4,829.8L268.1,829.8L268.8,829.8L269.5,829.8L270.2,829.8L270.9,829.8L271.6,829.8L272.3,829.8L273.0,829.8L273.7,829.8L274.4,829.8L275.1,829.8L275.8,829.8L276.5,829.8L277.2,829.9L277.9,829.9L278.6,829.9L279.3,829.9L280.0,829.9L280.7,829.9L281.4,829.9L282.1,829.9L282.8,829.9L283.5,829.9L284.2,829.9L284.9,829.9L285.6,829.9L286.3,829.9L287.0,829.9L287.7,829.9L288.4,829.9L289.1,829.9L289.8,829.9L290.5,829.9L291.2,829.9L291.9,829.9L292.6,830.0L293.3,830.0L294.0,830.0L294.7,830.0L295.4,830.0L296.1,830.0L296.8,830.0L297.5,830.0L298.2,830.0L298.9,830.0L299.6,830.0L300.3,830.0L301.0,830.0L301.7,830.0L302.4,830.0L303.1,830.0L303.8,830.0L304.5,830.0L305.2,830.0L305.9,830.0L306.6,830.0L307.3,830.0L308.0,830.1L308.7,830.1L309.4,830.1L310.1,830.1L310.8,830.1L311.5,830.1L312.2,830.1L312.9,830.1L313.6,830.1L314.3,830.1L315.0,830.1L315.7,830.1L316.4,830.1L317.1,830.1L317.8,830.1L318.5,830.1L319.2,830.1L319.9,830.1L320.6,830.1L321.3,830.1L322.0,830.1L322.7,830.1L323.4,830.1L324.1,830.2L324.8,830.2L325.5,830.2L326.2,830.2L326.9,830.2L327.6,830.2L328.3,830.2L329.0,830.2L329.7,830.2L330.4,830.2L331.1,830.2L331.8,830.2L332.5,830.2L333.2,830.2L333.9,830.2L334.6,830.2L335.3,830.2L336.0,830.2L336.7,830.2L337.4,830.2L338.1,830.2L338.8,830.2L339.5,830.3L340.2,830.3L340.9,830.3L341.6,830.3L342.3,830.3L343.0,830.3L343.7,830.3L344.4,830.3L345.1,830.3L345.8,830.3L346.5,830.3L347.2,830.3L347.9,830.3L348.6,830.3L349.3,830.3L350.0,830.3L350.7,830.3L351.4,830.3L352.1,830.3L352.8,830.3L353.5,830.3L354.2,830.4L354.9,830.4L355.6,830.4L356.3,830.4L357.0,830.4L357.7,830.4L358.4,830.4L359.1,830.4L359.8,830.4L360.5,830.4L361.2,830.4L361.9,830.4L362.6,830.4L363.3,830.4L364.0,830.4L364.7,830.4L365.4,830.4L366.1,830.4L366.8,830.5L367.5,830.5L368.2,830.5L368.9,830.5L369.6,830.5L370.3,830.5L371.0,830.5L371.7,830.5L372.4,830.5L373.1,830.5L373.8,830.5L374.5,830.5L375.2,830.5L375.9,830.5L376.6,830.5L377.3,830.5L378.0,830.6L378.7,830.6L379.4,830.6L380.1,830.6L380.8,830.6L381.5,830.6L382.2,830.6L382.9,830.6L383.6,830.6L384.3,830.6L385.0,830.6L385.7,830.6L386.4,830.6L387.1,830.6L387.8,830.7L388.5,830.7L389.2,830.7L389.9,830.7L390.6,830.7L391.3,830.7L392.0,830.7L392.7,830.7L393.4,830.7L394.1,830.7L394.8,830.7L395.5,830.7L396.2,830.8L396.9,830.8L397.6,830.8L398.3,830.8L399.0,830.8L399.7,830.8L400.4,830.8L401.1,830.8L401.8,830.8L402.5,830.8L403.2,830.8L403.9,830.9L404.6,830.9L405.3,830.9L406.0,830.9L406.7,830.9L407.4,830.9L408.1,830.9L408.8,830.9L409.5,830.9L410.2,831.0L410.9,831.0L411.6,831.0L412.3,831.0L413.0,831.0L413.7,831.0L414.4,831.0L415.1,831.1L415.8,831.1L416.5,831.1L417.2,831.1L417.9,831.1L418.6,831.2L419.3,831.2L420.0,831.2L420.7,831.2L421.4,831.2L422.1,831.3L422.8,831.3L423.5,831.3L424.2,831.4L424.9,831.4L425.6,831.4L426.3,831.5L427.0,831.5L427.7,831.6L428.4,831.6L429.1,831.6L429.8,831.7L430.5,831.7L431.2,831.8L431.9,831.8L432.6,831.9L433.3,832.0L434.0,832.0L434.7,832.1L435.4,832.1L436.1,832.2L436.8,832.2L437.5,832.3L438.2,832.4L438.9,832.4L439.6,832.5L440.3,832.6L441.0,832.6L441.7,832.7L442.4,832.8L443.1,832.9L443.8,833.0L444.5,833.1L445.2,833.2L445.9,833.3L446.6,833.4L447.3,833.5L448.0,833.6L448.7,833.7L449.4,833.8L450.1,833.9L450.8,834.0L451.5,834.1L452.2,834.2L452.9,834.4L453.6,834.5L454.3,834.6L455.0,834.7L455.7,834.8L456.4,835.0L457.1,835.1L457.8,835.2L458.5,835.3L459.2,835.4L459.9,835.6L460.6,835.7L461.3,835.8L462.0,835.9L462.7,836.0L463.4,836.1L464.1,836.2L464.8,836.3L465.5,836.5L466.2,836.6L466.9,836.7L467.6,836.8L468.3,836.9L469.0,837.0L469.7,837.1L470.4,837.2L471.1,837.3L471.8,837.4L472.5,837.5L473.2,837.6L473.9,837.7L474.6,837.8L475.3,837.9L476.0,838.0L476.7,838.1L477.4,838.2L478.1,838.3L478.8,838.4L479.5,838.5L480.2,838.6L480.9,838.8L481.6,838.9L482.3,839.0L483.0,839.1L483.7,839.2L484.4,839.3L485.1,839.4L485.8,839.5L486.5,839.6L487.2,839.7L487.9,839.8L488.6,839.9L489.3,840.0L490.0,840.2L490.7,840.3L491.4,840.4L492.1,840.5L492.8,840.6L493.5,840.7L494.2,840.8L494.9,841.0L495.6,841.1L496.3,841.2L497.0,841.3L497.7,841.4L498.4,841.6L499.1,841.7L499.8,841.8L500.5,841.9L501.2,842.0L501.9,842.1L502.6,842.2L503.3,842.3L504.0,842.4L504.7,842.5L505.4,842.6L506.1,842.7L506.8,842.8L507.5,842.9L508.2,843.0L508.9,843.1L509.6,843.2L510.3,843.2L511.0,843.3L511.7,843.4L512.4,843.4L513.1,843.5L513.8,843.5L514.5,843.6L515.2,843.6L515.9,843.7L516.6,843.7L517.3,843.8L518.0,843.8L518.7,843.9L519.4,843.9L520.1,843.9L520.8,843.9L521.5,843.9L522.2,844.0L522.9,844.0L523.6,844.0L524.3,844.0L525.0,844.0L525.7,844.1L526.4,844.1L527.1,844.1L527.8,844.1L528.5,844.1L529.2,844.1L529.9,844.1L530.6,844.1L531.3,844.1L532.0,844.1L532.7,844.1L533.4,844.1L534.1,844.1L534.8,844.1L535.5,844.1L536.2,844.1L536.9,844.1L537.6,844.1L538.3,844.1L539.0,844.1L539.7,844.1L540.4,844.1L541.1,844.1L541.8,844.1L542.5,844.1L543.2,844.1L543.9,844.1L544.6,844.1L545.3,844.1L546.0,844.1L546.7,844.1L547.4,844.1L548.1,844.1L548.8,844.1L549.5,844.1L550.2,844.1L550.9,844.1L551.6,844.1L552.3,844.1L553.0,844.1L553.7,844.1L554.4,844.1L555.1,844.1L555.8,844.1L556.5,844.1L557.2,844.1L557.9,844.1L558.6,844.1L559.3,844.1L560.0,844.1L560.7,844.1L561.4,844.1L562.1,844.1L562.8,844.1L563.5,844.1L564.2,844.1L564.9,844.1L565.6,844.1L566.3,844.1L567.0,844.1L567.7,844.1L568.4,844.1L569.1,844.1L569.8,844.1L570.5,844.1L571.2,844.1L571.9,844.1L572.6,844.1L573.3,844.1L574.0,844.1L574.7,844.1L575.4,844.1L576.1,844.1L576.8,844.1L577.5,844.1L578.2,844.1L578.9,844.1L579.6,844.1L580.3,844.1L581.0,844.1L581.7,844.1L582.4,844.1L583.1,844.1L583.8,844.1L584.5,844.1L585.2,844.1L585.9,844.1L586.6,844.1L587.3,844.1L588.0,844.1L588.7,844.1L589.4,844.1L590.1,844.1L590.8,844.1L591.5,844.1L592.2,844.1" fill="none" stroke="#9a5a1e" stroke-width="1.3" stroke-linejoin="round"/>
<path d="M172.2,831.0L173.6,827.2L175.0,832.9L176.4,829.0L177.8,832.8L179.2,827.6L180.6,833.7L182.0,830.1L183.4,830.3L184.8,828.8L186.2,833.8L187.6,825.0L189.0,834.4L190.4,827.8L191.8,835.6L193.2,830.2L194.6,832.0L196.0,830.4L197.4,830.4L198.8,827.2L200.2,831.0L201.6,832.5L203.0,837.1L204.4,829.4L205.8,831.5L207.2,829.7L208.6,831.7L210.0,829.3L211.4,836.5L212.8,829.4L214.2,836.4L215.6,830.0L217.0,844.7L218.4,829.6L219.8,832.5L221.2,826.4L222.6,832.5L224.0,828.9L225.4,834.9L226.8,828.4L228.2,835.7L229.6,830.7L231.0,832.2L232.4,836.6L233.8,837.7L235.2,829.7L236.6,836.9L238.0,833.6L239.4,837.0L240.8,831.7L242.2,835.1L243.6,832.2L245.0,831.6L246.4,830.0L247.8,835.3L249.2,839.2L250.6,840.0L252.0,831.8L253.4,836.7L254.8,833.2L256.2,846.7L257.6,832.0L259.0,841.6L260.4,837.1L261.8,836.7L263.2,830.7L264.6,839.9L266.0,832.9L267.4,839.3L268.8,837.6L270.2,839.2L271.6,835.3L273.0,838.0L274.4,832.2L275.8,841.5L277.2,832.5L278.6,841.2L280.0,833.1L281.4,846.6L282.8,834.7L284.2,841.6L285.6,830.6L287.0,840.9L288.4,840.5L289.8,844.5L291.2,836.5L292.6,841.5L294.0,836.3L295.4,838.3L296.8,843.4L298.2,839.1L299.6,834.0L301.0,839.6L302.4,838.4L303.8,841.3L305.2,836.6L306.6,838.6L308.0,833.7L309.4,839.3L310.8,838.1L312.2,846.7L313.6,832.8L315.0,841.7L316.4,833.0L317.8,843.0L319.2,835.4L320.6,850.8L322.0,837.0L323.4,842.7L324.8,835.1L326.2,844.5L327.6,840.5L329.0,838.5L330.4,840.8L331.8,839.0L333.2,839.5L334.6,844.7L336.0,829.1L337.4,839.5L338.8,839.1L340.2,837.9L341.6,839.7L343.0,844.0L344.4,833.1L345.8,842.1L347.2,835.0L348.6,839.1L350.0,840.0L351.4,843.1L352.8,840.8L354.2,842.5L355.6,833.0L357.0,842.7L358.4,836.5L359.8,839.0L361.2,838.5L362.6,840.4L364.0,831.5L365.4,837.5L366.8,835.0L368.2,841.7L369.6,839.1L371.0,840.0L372.4,839.5L373.8,842.5L375.2,833.2L376.6,842.1L378.0,834.1L379.4,840.4L380.8,839.9L382.2,843.4L383.6,838.5L385.0,842.0L386.4,841.0L387.8,839.4L389.2,836.4L390.6,838.9L392.0,837.1L393.4,841.8L394.8,834.0L396.2,838.3L397.6,841.6L399.0,844.5L400.4,834.7L401.8,840.5L403.2,831.6L404.6,839.7L406.0,837.0L407.4,837.5L408.8,835.3L410.2,838.0L411.6,834.5L413.0,835.8L414.4,830.7L415.8,833.6L417.2,831.9L418.6,834.4L420.0,826.5L421.4,828.0L422.8,823.2L424.2,823.0L425.6,819.5L427.0,815.3L428.4,814.3L429.8,809.1L431.2,808.5L432.6,809.9L434.0,801.1L435.4,800.2L436.8,792.2L438.2,786.5L439.6,779.0L441.0,777.5L442.4,775.4L443.8,772.8L445.2,764.2L446.6,764.2L448.0,762.8L449.4,760.5L450.8,752.2L452.2,757.1L453.6,749.8L455.0,751.4L456.4,749.5L457.8,754.3L459.2,747.7L460.6,748.6L462.0,744.7L463.4,748.2L464.8,745.7L466.2,744.2L467.6,745.0L469.0,744.5L470.4,742.3L471.8,743.2L473.2,742.4L474.6,740.0L476.0,736.0L477.4,734.3L478.8,725.0L480.2,715.4L481.6,703.4L483.0,696.7L484.4,681.2L485.8,671.1L487.2,663.7L488.6,661.0L490.0,649.6L491.4,648.1L492.8,642.6L494.2,638.7L495.6,640.7L497.0,647.7L498.4,648.4L499.8,657.7L501.2,672.6L502.6,688.0L504.0,700.2L505.4,714.3L506.8,728.9L508.2,743.9L509.6,755.1L511.0,772.3L512.4,782.3L513.8,802.8L515.2,806.6L516.6,816.0L518.0,818.1L519.4,823.3L520.8,823.9L522.2,835.3L523.6,830.6L525.0,838.0L526.4,837.0L527.8,843.2L529.2,832.4L530.6,843.3L532.0,838.0L533.4,843.4L534.8,834.3L536.2,842.7L537.6,839.4L539.0,845.2L540.4,839.1L541.8,848.5L543.2,841.2L544.6,849.3L546.0,839.4L547.4,843.2L548.8,844.8L550.2,847.4L551.6,838.8L553.0,842.6L554.4,838.1L555.8,840.0L557.2,839.6L558.6,845.2L560.0,845.4L561.4,848.6L562.8,847.5L564.2,844.3L565.6,841.0L567.0,845.9L568.4,837.9L569.8,845.3L571.2,835.4L572.6,844.3L574.0,839.8L575.4,845.9L576.8,838.2L578.2,850.0L579.6,842.3L581.0,843.8L582.4,838.3L583.8,843.6L585.2,845.2L586.6,848.7L588.0,841.1L589.4,848.6L590.8,846.4L592.2,849.9" fill="none" stroke="#ca0000" stroke-width="1.35" stroke-linejoin="round"/>
</g>
<text x="415.1" y="31.6" font-family='"Liberation Serif", serif' font-size="7.6" font-weight="normal" text-anchor="start" fill="#2a2a2a" textLength="17.8" lengthAdjust="spacingAndGlyphs">Name</text>
<text x="496.5" y="31.6" font-family='"Liberation Serif", serif' font-size="7.6" font-weight="normal" text-anchor="middle" fill="#2a2a2a" textLength="12.9" lengthAdjust="spacingAndGlyphs">Pos.</text>
<text x="523.5" y="31.6" font-family='"Liberation Serif", serif' font-size="7.6" font-weight="normal" text-anchor="middle" fill="#2a2a2a" textLength="22.5" lengthAdjust="spacingAndGlyphs">FWHM</text>
<text x="560.9" y="31.6" font-family='"Liberation Serif", serif' font-size="7.6" font-weight="normal" text-anchor="middle" fill="#2a2a2a" textLength="15.5" lengthAdjust="spacingAndGlyphs">L.Sh.</text>
<text x="605.6" y="31.6" font-family='"Liberation Serif", serif' font-size="7.6" font-weight="normal" text-anchor="middle" fill="#2a2a2a" textLength="14.8" lengthAdjust="spacingAndGlyphs">Area</text>
<text x="635.8" y="31.6" font-family='"Liberation Serif", serif' font-size="7.6" font-weight="normal" text-anchor="middle" fill="#2a2a2a" textLength="22.2" lengthAdjust="spacingAndGlyphs">%Area</text>
<text x="415.1" y="39.8" font-family='"Liberation Serif", serif' font-size="7.6" font-weight="normal" text-anchor="start" fill="#2b2b9c" textLength="28" lengthAdjust="spacingAndGlyphs">Cu 2p3/2</text>
<text x="508.1" y="39.8" font-family='"Liberation Serif", serif' font-size="7.6" font-weight="normal" text-anchor="end" fill="#2a2a2a" textLength="21.5" lengthAdjust="spacingAndGlyphs">933.77</text>
<text x="523.5" y="39.8" font-family='"Liberation Serif", serif' font-size="7.6" font-weight="normal" text-anchor="middle" fill="#2a2a2a" textLength="14.3" lengthAdjust="spacingAndGlyphs">3.11</text>
<text x="563.8" y="39.8" font-family='"Liberation Serif", serif' font-size="7.6" font-weight="normal" text-anchor="middle" fill="#2a2a2a" textLength="46.4" lengthAdjust="spacingAndGlyphs">LF(1,1,25,280)</text>
<text x="618.3" y="39.8" font-family='"Liberation Serif", serif' font-size="7.6" font-weight="normal" text-anchor="end" fill="#2a2a2a" textLength="24.3" lengthAdjust="spacingAndGlyphs">1606.67</text>
<text x="644.1" y="39.8" font-family='"Liberation Serif", serif' font-size="7.6" font-weight="normal" text-anchor="end" fill="#2a2a2a" textLength="17.3" lengthAdjust="spacingAndGlyphs">66.05</text>
<text x="415.1" y="48.2" font-family='"Liberation Serif", serif' font-size="7.6" font-weight="normal" text-anchor="start" fill="#2a2a2a" textLength="28" lengthAdjust="spacingAndGlyphs">Cu 2p1/2</text>
<text x="508.1" y="48.2" font-family='"Liberation Serif", serif' font-size="7.6" font-weight="normal" text-anchor="end" fill="#2a2a2a" textLength="21.5" lengthAdjust="spacingAndGlyphs">953.81</text>
<text x="523.5" y="48.2" font-family='"Liberation Serif", serif' font-size="7.6" font-weight="normal" text-anchor="middle" fill="#2a2a2a" textLength="14.3" lengthAdjust="spacingAndGlyphs">2.36</text>
<text x="563.8" y="48.2" font-family='"Liberation Serif", serif' font-size="7.6" font-weight="normal" text-anchor="middle" fill="#2a2a2a" textLength="46.4" lengthAdjust="spacingAndGlyphs">LF(1,1,25,280)</text>
<text x="618.3" y="48.2" font-family='"Liberation Serif", serif' font-size="7.6" font-weight="normal" text-anchor="end" fill="#2a2a2a" textLength="20.8" lengthAdjust="spacingAndGlyphs">441.11</text>
<text x="644.1" y="48.2" font-family='"Liberation Serif", serif' font-size="7.6" font-weight="normal" text-anchor="end" fill="#2a2a2a" textLength="17.3" lengthAdjust="spacingAndGlyphs">18.12</text>
<text x="415.1" y="56.8" font-family='"Liberation Serif", serif' font-size="7.6" font-weight="normal" text-anchor="start" fill="#2e9e3a" textLength="62.3" lengthAdjust="spacingAndGlyphs">Strong satellite peak</text>
<text x="508.1" y="56.8" font-family='"Liberation Serif", serif' font-size="7.6" font-weight="normal" text-anchor="end" fill="#2a2a2a" textLength="21.5" lengthAdjust="spacingAndGlyphs">942.90</text>
<text x="523.5" y="56.8" font-family='"Liberation Serif", serif' font-size="7.6" font-weight="normal" text-anchor="middle" fill="#2a2a2a" textLength="14.3" lengthAdjust="spacingAndGlyphs">2.46</text>
<text x="563.8" y="56.8" font-family='"Liberation Serif", serif' font-size="7.6" font-weight="normal" text-anchor="middle" fill="#2a2a2a" textLength="46.4" lengthAdjust="spacingAndGlyphs">LF(1,1,25,280)</text>
<text x="618.3" y="56.8" font-family='"Liberation Serif", serif' font-size="7.6" font-weight="normal" text-anchor="end" fill="#2a2a2a" textLength="20.8" lengthAdjust="spacingAndGlyphs">238.28</text>
<text x="644.1" y="56.8" font-family='"Liberation Serif", serif' font-size="7.6" font-weight="normal" text-anchor="end" fill="#2a2a2a" textLength="13.4" lengthAdjust="spacingAndGlyphs">9.79</text>
<text x="415.1" y="65" font-family='"Liberation Serif", serif' font-size="7.6" font-weight="normal" text-anchor="start" fill="#8e3c9c" textLength="62.3" lengthAdjust="spacingAndGlyphs">Strong satellite peak</text>
<text x="508.1" y="65" font-family='"Liberation Serif", serif' font-size="7.6" font-weight="normal" text-anchor="end" fill="#2a2a2a" textLength="21.5" lengthAdjust="spacingAndGlyphs">962.71</text>
<text x="523.5" y="65" font-family='"Liberation Serif", serif' font-size="7.6" font-weight="normal" text-anchor="middle" fill="#2a2a2a" textLength="14.3" lengthAdjust="spacingAndGlyphs">1.72</text>
<text x="563.8" y="65" font-family='"Liberation Serif", serif' font-size="7.6" font-weight="normal" text-anchor="middle" fill="#2a2a2a" textLength="46.4" lengthAdjust="spacingAndGlyphs">LF(1,1,25,280)</text>
<text x="618.3" y="65" font-family='"Liberation Serif", serif' font-size="7.6" font-weight="normal" text-anchor="end" fill="#2a2a2a" textLength="20.8" lengthAdjust="spacingAndGlyphs">146.82</text>
<text x="644.1" y="65" font-family='"Liberation Serif", serif' font-size="7.6" font-weight="normal" text-anchor="end" fill="#2a2a2a" textLength="13.4" lengthAdjust="spacingAndGlyphs">6.03</text>
<text x="432.4" y="113.8" font-family='"Liberation Sans", sans-serif' font-size="9.8" font-weight="bold" text-anchor="start" fill="#000" textLength="24.6" lengthAdjust="spacingAndGlyphs">Cu 2+</text>
<text x="432.4" y="127.1" font-family='"Liberation Sans", sans-serif' font-size="9.8" font-weight="bold" text-anchor="start" fill="#000" textLength="35" lengthAdjust="spacingAndGlyphs">satellite</text>
<text x="487.6" y="116.3" font-family='"Liberation Sans", sans-serif' font-size="9.8" font-weight="bold" text-anchor="start" fill="#000" textLength="40.4" lengthAdjust="spacingAndGlyphs">Cu 2p1/2</text>
<text x="561" y="138.9" font-family='"Liberation Sans", sans-serif' font-size="9.8" font-weight="bold" text-anchor="start" fill="#000" textLength="24.3" lengthAdjust="spacingAndGlyphs">Cu 2+</text>
<text x="561" y="152.2" font-family='"Liberation Sans", sans-serif' font-size="9.8" font-weight="bold" text-anchor="start" fill="#000" textLength="35" lengthAdjust="spacingAndGlyphs">satellite</text>
<text x="609.1" y="84.1" font-family='"Liberation Sans", sans-serif' font-size="9.8" font-weight="bold" text-anchor="start" fill="#000" textLength="40.1" lengthAdjust="spacingAndGlyphs">Cu 2p3/2</text>
<text x="647" y="114.1" font-family='"Liberation Sans", sans-serif' font-size="20.3" font-weight="bold" text-anchor="start" fill="#000" textLength="24.1" lengthAdjust="spacingAndGlyphs">[b]</text>
<text x="56.3" y="303.8" font-family='"Liberation Serif", serif' font-size="8.9" font-weight="normal" text-anchor="start" fill="#2a2a2a" textLength="21.3" lengthAdjust="spacingAndGlyphs">Name</text>
<text x="112.75" y="305.5" font-family='"Liberation Serif", serif' font-size="8.9" font-weight="normal" text-anchor="middle" fill="#2a2a2a" textLength="14.7" lengthAdjust="spacingAndGlyphs">Pos.</text>
<text x="144.6" y="303.8" font-family='"Liberation Serif", serif' font-size="8.9" font-weight="normal" text-anchor="middle" fill="#2a2a2a" textLength="26.6" lengthAdjust="spacingAndGlyphs">FWHM</text>
<text x="188.75" y="303.8" font-family='"Liberation Serif", serif' font-size="8.9" font-weight="normal" text-anchor="middle" fill="#2a2a2a" textLength="18.3" lengthAdjust="spacingAndGlyphs">L.Sh.</text>
<text x="238.7" y="303.8" font-family='"Liberation Serif", serif' font-size="8.9" font-weight="normal" text-anchor="middle" fill="#2a2a2a" textLength="18.6" lengthAdjust="spacingAndGlyphs">Area</text>
<text x="272.15" y="303.8" font-family='"Liberation Serif", serif' font-size="8.9" font-weight="normal" text-anchor="middle" fill="#2a2a2a" textLength="25.3" lengthAdjust="spacingAndGlyphs">%Area</text>
<text x="56.3" y="314.3" font-family='"Liberation Serif", serif' font-size="8.9" font-weight="normal" text-anchor="start" fill="#2b2b9c" textLength="35" lengthAdjust="spacingAndGlyphs">Mn 2p3/2</text>
<text x="125.3" y="314.3" font-family='"Liberation Serif", serif' font-size="8.9" font-weight="normal" text-anchor="end" fill="#2a2a2a" textLength="24.5" lengthAdjust="spacingAndGlyphs">641.43</text>
<text x="143.7" y="314.3" font-family='"Liberation Serif", serif' font-size="8.9" font-weight="normal" text-anchor="middle" fill="#2a2a2a" textLength="15.8" lengthAdjust="spacingAndGlyphs">3.02</text>
<text x="191.9" y="314.3" font-family='"Liberation Serif", serif' font-size="8.9" font-weight="normal" text-anchor="middle" fill="#2a2a2a" textLength="54" lengthAdjust="spacingAndGlyphs">LF(1,1,25,280)</text>
<text x="250.7" y="314.3" font-family='"Liberation Serif", serif' font-size="8.9" font-weight="normal" text-anchor="end" fill="#2a2a2a" textLength="24.3" lengthAdjust="spacingAndGlyphs">813.55</text>
<text x="281.3" y="314.3" font-family='"Liberation Serif", serif' font-size="8.9" font-weight="normal" text-anchor="end" fill="#2a2a2a" textLength="20" lengthAdjust="spacingAndGlyphs">65.39</text>
<text x="56.3" y="323" font-family='"Liberation Serif", serif' font-size="8.9" font-weight="normal" text-anchor="start" fill="#2a2a2a" textLength="35" lengthAdjust="spacingAndGlyphs">Mn 2p1/2</text>
<text x="125.3" y="323" font-family='"Liberation Serif", serif' font-size="8.9" font-weight="normal" text-anchor="end" fill="#2a2a2a" textLength="24.5" lengthAdjust="spacingAndGlyphs">653.23</text>
<text x="143.7" y="323" font-family='"Liberation Serif", serif' font-size="8.9" font-weight="normal" text-anchor="middle" fill="#2a2a2a" textLength="15.8" lengthAdjust="spacingAndGlyphs">3.60</text>
<text x="191.9" y="323" font-family='"Liberation Serif", serif' font-size="8.9" font-weight="normal" text-anchor="middle" fill="#2a2a2a" textLength="54" lengthAdjust="spacingAndGlyphs">LF(1,1,25,280)</text>
<text x="250.7" y="323" font-family='"Liberation Serif", serif' font-size="8.9" font-weight="normal" text-anchor="end" fill="#2a2a2a" textLength="24.3" lengthAdjust="spacingAndGlyphs">430.90</text>
<text x="281.3" y="323" font-family='"Liberation Serif", serif' font-size="8.9" font-weight="normal" text-anchor="end" fill="#2a2a2a" textLength="20" lengthAdjust="spacingAndGlyphs">34.61</text>
<text x="73.7" y="351.9" font-family='"Liberation Sans", sans-serif' font-size="10.0" font-weight="bold" text-anchor="start" fill="#000" textLength="27.2" lengthAdjust="spacingAndGlyphs">Mn 2+</text>
<text x="73.7" y="364.5" font-family='"Liberation Sans", sans-serif' font-size="10.0" font-weight="bold" text-anchor="start" fill="#000" textLength="38.2" lengthAdjust="spacingAndGlyphs">654.3 eV</text>
<text x="133" y="350.2" font-family='"Liberation Sans", sans-serif' font-size="10.0" font-weight="bold" text-anchor="start" fill="#000" textLength="27.2" lengthAdjust="spacingAndGlyphs">Mn 3+</text>
<text x="133" y="362.9" font-family='"Liberation Sans", sans-serif' font-size="10.0" font-weight="bold" text-anchor="start" fill="#000" textLength="36.8" lengthAdjust="spacingAndGlyphs">652.7 eV</text>
<text x="171.7" y="387.6" font-family='"Liberation Sans", sans-serif' font-size="10.0" font-weight="bold" text-anchor="start" fill="#000" textLength="28.6" lengthAdjust="spacingAndGlyphs">Mn 2+</text>
<text x="171.7" y="400.5" font-family='"Liberation Sans", sans-serif' font-size="10.0" font-weight="bold" text-anchor="start" fill="#000" textLength="38.8" lengthAdjust="spacingAndGlyphs">643.3 eV</text>
<text x="241.2" y="365.3" font-family='"Liberation Sans", sans-serif' font-size="10.0" font-weight="bold" text-anchor="start" fill="#000" textLength="27.6" lengthAdjust="spacingAndGlyphs">Mn 3+</text>
<text x="241.2" y="378.1" font-family='"Liberation Sans", sans-serif' font-size="10.0" font-weight="bold" text-anchor="start" fill="#000" textLength="38.8" lengthAdjust="spacingAndGlyphs">641.3 eV</text>
<text x="295.7" y="383.6" font-family='"Liberation Sans", sans-serif' font-size="19.0" font-weight="bold" text-anchor="start" fill="#000" textLength="21.9" lengthAdjust="spacingAndGlyphs">[c]</text>
<text x="421.6" y="304.3" font-family='"Liberation Serif", serif' font-size="8.9" font-weight="normal" text-anchor="start" fill="#2a2a2a" textLength="21.3" lengthAdjust="spacingAndGlyphs">Name</text>
<text x="478.9" y="304.3" font-family='"Liberation Serif", serif' font-size="8.9" font-weight="normal" text-anchor="middle" fill="#2a2a2a" textLength="14.6" lengthAdjust="spacingAndGlyphs">Pos.</text>
<text x="511.35" y="304.3" font-family='"Liberation Serif", serif' font-size="8.9" font-weight="normal" text-anchor="middle" fill="#2a2a2a" textLength="26.3" lengthAdjust="spacingAndGlyphs">FWHM</text>
<text x="555.85" y="304.3" font-family='"Liberation Serif", serif' font-size="8.9" font-weight="normal" text-anchor="middle" fill="#2a2a2a" textLength="17.5" lengthAdjust="spacingAndGlyphs">L.Sh.</text>
<text x="607.5" y="304.3" font-family='"Liberation Serif", serif' font-size="8.9" font-weight="normal" text-anchor="middle" fill="#2a2a2a" textLength="16.4" lengthAdjust="spacingAndGlyphs">Area</text>
<text x="643" y="304.3" font-family='"Liberation Serif", serif' font-size="8.9" font-weight="normal" text-anchor="middle" fill="#2a2a2a" textLength="25.3" lengthAdjust="spacingAndGlyphs">%Area</text>
<text x="421.6" y="313.7" font-family='"Liberation Serif", serif' font-size="8.9" font-weight="normal" text-anchor="start" fill="#2b2b9c" textLength="31.7" lengthAdjust="spacingAndGlyphs">Zn 2p3/2</text>
<text x="493.5" y="313.7" font-family='"Liberation Serif", serif' font-size="8.9" font-weight="normal" text-anchor="end" fill="#2a2a2a" textLength="29.2" lengthAdjust="spacingAndGlyphs">1022.28</text>
<text x="511.5" y="313.7" font-family='"Liberation Serif", serif' font-size="8.9" font-weight="normal" text-anchor="middle" fill="#2a2a2a" textLength="16.4" lengthAdjust="spacingAndGlyphs">2.28</text>
<text x="558.8" y="313.7" font-family='"Liberation Serif", serif' font-size="8.9" font-weight="normal" text-anchor="middle" fill="#2a2a2a" textLength="55.4" lengthAdjust="spacingAndGlyphs">LF(1,1,25,280)</text>
<text x="623" y="313.7" font-family='"Liberation Serif", serif' font-size="8.9" font-weight="normal" text-anchor="end" fill="#2a2a2a" textLength="29.9" lengthAdjust="spacingAndGlyphs">4971.27</text>
<text x="652.2" y="313.7" font-family='"Liberation Serif", serif' font-size="8.9" font-weight="normal" text-anchor="end" fill="#2a2a2a" textLength="18.2" lengthAdjust="spacingAndGlyphs">61.96</text>
<text x="421.6" y="323.5" font-family='"Liberation Serif", serif' font-size="8.9" font-weight="normal" text-anchor="start" fill="#2a2a2a" textLength="31.7" lengthAdjust="spacingAndGlyphs">Zn 2p1/2</text>
<text x="493.5" y="323.5" font-family='"Liberation Serif", serif' font-size="8.9" font-weight="normal" text-anchor="end" fill="#2a2a2a" textLength="29.2" lengthAdjust="spacingAndGlyphs">1045.39</text>
<text x="511.5" y="323.5" font-family='"Liberation Serif", serif' font-size="8.9" font-weight="normal" text-anchor="middle" fill="#2a2a2a" textLength="16.4" lengthAdjust="spacingAndGlyphs">2.75</text>
<text x="558.8" y="323.5" font-family='"Liberation Serif", serif' font-size="8.9" font-weight="normal" text-anchor="middle" fill="#2a2a2a" textLength="55.4" lengthAdjust="spacingAndGlyphs">LF(1,1,25,280)</text>
<text x="623" y="323.5" font-family='"Liberation Serif", serif' font-size="8.9" font-weight="normal" text-anchor="end" fill="#2a2a2a" textLength="29.9" lengthAdjust="spacingAndGlyphs">3053.96</text>
<text x="652.2" y="323.5" font-family='"Liberation Serif", serif' font-size="8.9" font-weight="normal" text-anchor="end" fill="#2a2a2a" textLength="18.2" lengthAdjust="spacingAndGlyphs">38.04</text>
<text x="646.7" y="384.1" font-family='"Liberation Sans", sans-serif' font-size="19.3" font-weight="bold" text-anchor="start" fill="#000" textLength="23.5" lengthAdjust="spacingAndGlyphs">[d]</text>
<text x="192.1" y="582.8" font-family='"Liberation Serif", serif' font-size="9.5" font-weight="normal" text-anchor="start" fill="#2a2a2a" textLength="22.6" lengthAdjust="spacingAndGlyphs">Name</text>
<text x="237.35" y="582.8" font-family='"Liberation Serif", serif' font-size="9.5" font-weight="normal" text-anchor="middle" fill="#2a2a2a" textLength="16.1" lengthAdjust="spacingAndGlyphs">Pos.</text>
<text x="270.4" y="582.8" font-family='"Liberation Serif", serif' font-size="9.5" font-weight="normal" text-anchor="middle" fill="#2a2a2a" textLength="28.2" lengthAdjust="spacingAndGlyphs">FWHM</text>
<text x="301.75" y="582.8" font-family='"Liberation Serif", serif' font-size="9.5" font-weight="normal" text-anchor="middle" fill="#2a2a2a" textLength="18.3" lengthAdjust="spacingAndGlyphs">L.Sh.</text>
<text x="342.7" y="582.8" font-family='"Liberation Serif", serif' font-size="9.5" font-weight="normal" text-anchor="middle" fill="#2a2a2a" textLength="18.6" lengthAdjust="spacingAndGlyphs">Area</text>
<text x="380.05" y="582.8" font-family='"Liberation Serif", serif' font-size="9.5" font-weight="normal" text-anchor="middle" fill="#2a2a2a" textLength="27.3" lengthAdjust="spacingAndGlyphs">%Area</text>
<text x="192.1" y="592.5" font-family='"Liberation Serif", serif' font-size="9.5" font-weight="normal" text-anchor="start" fill="#2b2b9c" textLength="17.9" lengthAdjust="spacingAndGlyphs">O 1s</text>
<text x="250.8" y="592.5" font-family='"Liberation Serif", serif' font-size="9.5" font-weight="normal" text-anchor="end" fill="#2a2a2a" textLength="25.7" lengthAdjust="spacingAndGlyphs">530.39</text>
<text x="269.75" y="592.5" font-family='"Liberation Serif", serif' font-size="9.5" font-weight="normal" text-anchor="middle" fill="#2a2a2a" textLength="16.7" lengthAdjust="spacingAndGlyphs">1.25</text>
<text x="304.75" y="592.5" font-family='"Liberation Serif", serif' font-size="9.5" font-weight="normal" text-anchor="middle" fill="#2a2a2a" textLength="28.9" lengthAdjust="spacingAndGlyphs">GL(30)</text>
<text x="358.4" y="592.5" font-family='"Liberation Serif", serif' font-size="9.5" font-weight="normal" text-anchor="end" fill="#2a2a2a" textLength="30.5" lengthAdjust="spacingAndGlyphs">1585.55</text>
<text x="390.5" y="592.5" font-family='"Liberation Serif", serif' font-size="9.5" font-weight="normal" text-anchor="end" fill="#2a2a2a" textLength="20.9" lengthAdjust="spacingAndGlyphs">59.03</text>
<text x="192.1" y="603.1" font-family='"Liberation Serif", serif' font-size="9.5" font-weight="normal" text-anchor="start" fill="#2a2a2a" textLength="17.9" lengthAdjust="spacingAndGlyphs">O 1s</text>
<text x="250.8" y="603.1" font-family='"Liberation Serif", serif' font-size="9.5" font-weight="normal" text-anchor="end" fill="#2a2a2a" textLength="25.7" lengthAdjust="spacingAndGlyphs">532.08</text>
<text x="269.75" y="603.1" font-family='"Liberation Serif", serif' font-size="9.5" font-weight="normal" text-anchor="middle" fill="#2a2a2a" textLength="16.7" lengthAdjust="spacingAndGlyphs">1.85</text>
<text x="304.75" y="603.1" font-family='"Liberation Serif", serif' font-size="9.5" font-weight="normal" text-anchor="middle" fill="#2a2a2a" textLength="28.9" lengthAdjust="spacingAndGlyphs">GL(30)</text>
<text x="358.4" y="603.1" font-family='"Liberation Serif", serif' font-size="9.5" font-weight="normal" text-anchor="end" fill="#2a2a2a" textLength="30.5" lengthAdjust="spacingAndGlyphs">1100.45</text>
<text x="390.5" y="603.1" font-family='"Liberation Serif", serif' font-size="9.5" font-weight="normal" text-anchor="end" fill="#2a2a2a" textLength="20.9" lengthAdjust="spacingAndGlyphs">40.97</text>
<text x="558.8" y="739.7" font-family='"Liberation Sans", sans-serif' font-size="20.6" font-weight="bold" text-anchor="start" fill="#000" textLength="23.7" lengthAdjust="spacingAndGlyphs">[e]</text>
</svg>
</body></html>
